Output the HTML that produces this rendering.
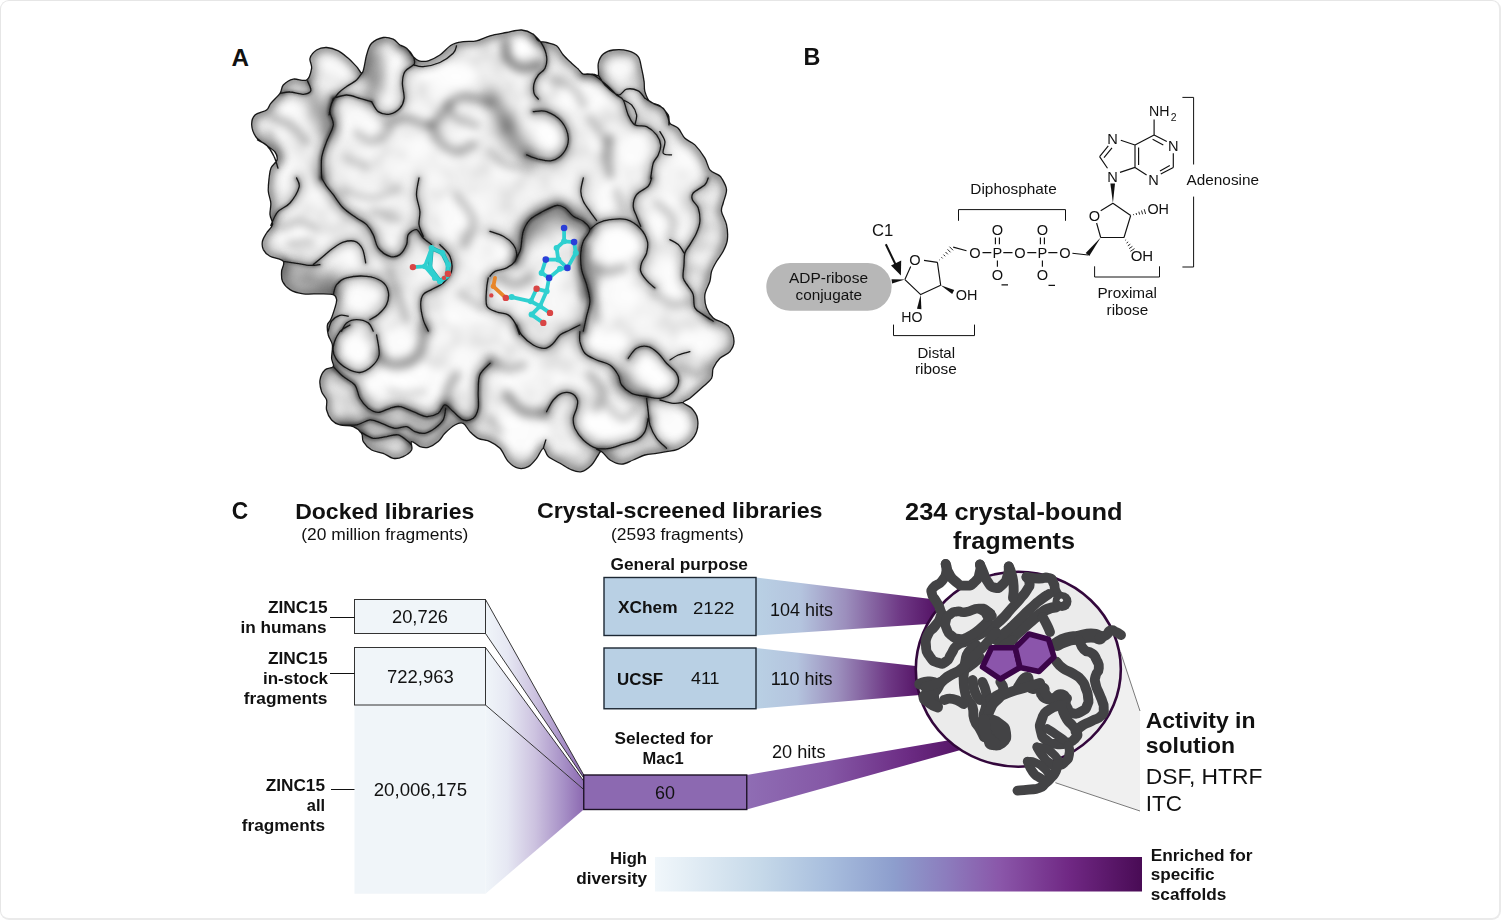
<!DOCTYPE html>
<html><head><meta charset="utf-8"><title>Figure</title>
<style>
html,body{margin:0;padding:0;background:#fff;}
body{width:1501px;height:920px;overflow:hidden;font-family:"Liberation Sans",sans-serif;}
svg{display:block;position:absolute;left:0;top:0;}
svg text{font-family:"Liberation Sans",sans-serif;}
#frame{position:absolute;left:0;top:0;width:1498px;height:917px;border-style:solid;border-color:#e6e6e6 #eaeaea #eaeaea #e6e6e6;border-width:1px 2px 2px 1px;border-radius:9px;box-sizing:content-box;}
</style></head><body>
<div id="frame"></div>
<svg width="1501" height="920" viewBox="0 0 1501 920">
<defs>
<clipPath id="protClip"><path d="M262.5,241.0C263.1,238.2 264.9,235.7 266.6,233.0C268.3,230.3 271.9,227.7 272.5,224.6C273.1,221.5 270.3,218.2 270.0,214.6C269.7,211.0 271.1,206.9 270.8,203.0C270.5,199.1 268.6,195.5 268.3,191.3C268.0,187.1 268.7,181.9 269.1,178.0C269.6,174.1 269.7,171.0 271.0,168.0C272.3,165.0 276.3,162.7 277.0,160.0C277.7,157.3 276.8,154.5 275.0,152.0C273.2,149.5 269.2,147.5 266.0,145.0C262.8,142.5 258.4,140.3 256.0,137.0C253.6,133.7 251.9,128.7 251.7,125.0C251.5,121.3 252.5,117.5 255.0,115.0C257.5,112.5 264.0,112.0 266.6,110.0C269.2,108.0 268.6,106.1 270.8,103.3C273.0,100.5 277.9,96.3 280.0,93.3C282.1,90.2 281.1,87.4 283.3,85.0C285.5,82.6 289.4,79.9 293.3,79.1C297.2,78.3 303.6,81.8 306.6,80.0C309.7,78.2 311.0,71.9 311.6,68.3C312.2,64.7 309.2,61.3 310.0,58.3C310.8,55.2 313.8,51.8 316.6,50.0C319.4,48.2 323.0,47.4 326.6,47.5C330.2,47.6 334.7,49.0 338.3,50.8C341.9,52.6 345.2,55.7 348.3,58.3C351.4,60.9 354.2,64.2 356.6,66.6C359.0,69.0 360.7,74.4 362.4,72.5C364.1,70.6 365.1,59.9 366.6,55.0C368.1,50.1 368.8,46.2 371.6,43.3C374.4,40.4 379.6,38.2 383.2,37.5C386.8,36.8 390.4,38.0 393.2,39.2C396.0,40.5 397.8,43.5 400.0,45.0C402.2,46.5 404.4,46.4 406.6,48.3C408.8,50.2 411.1,54.5 413.2,56.6C415.3,58.7 416.5,60.1 419.0,60.8C421.5,61.5 424.7,61.8 428.2,60.8C431.7,59.8 436.0,57.6 439.9,55.0C443.8,52.4 447.6,47.2 451.5,45.0C455.4,42.8 459.0,42.4 463.2,41.7C467.4,41.0 472.0,41.8 476.5,40.8C481.0,39.8 485.0,37.2 490.0,35.8C495.0,34.4 501.4,33.5 506.7,32.5C512.0,31.5 517.2,29.7 521.6,30.0C526.0,30.3 530.5,32.4 533.3,34.2C536.1,36.0 536.1,39.4 538.3,40.8C540.5,42.2 543.5,41.7 546.6,42.5C549.7,43.3 553.8,43.7 556.6,45.8C559.4,47.9 560.8,52.1 563.3,55.0C565.8,57.9 569.1,60.9 571.6,63.3C574.1,65.6 576.3,67.3 578.3,69.1C580.2,70.9 580.8,73.3 583.3,74.1C585.8,74.9 590.8,73.9 593.3,74.1C595.8,74.2 597.5,76.8 598.3,75.0C599.1,73.2 597.5,66.8 598.3,63.3C599.1,59.8 600.8,56.3 603.3,54.1C605.8,51.9 609.1,50.5 613.2,50.0C617.4,49.5 624.0,49.7 628.2,50.8C632.4,51.9 636.0,53.7 638.2,56.6C640.4,59.5 640.6,64.1 641.6,68.3C642.6,72.5 643.6,77.7 644.1,81.6C644.6,85.5 643.9,88.3 644.9,91.6C645.9,94.9 647.4,99.2 649.9,101.6C652.4,104.0 656.8,103.6 659.9,105.8C663.0,108.0 666.5,112.0 668.2,114.9C669.9,117.8 668.2,121.1 669.9,123.3C671.6,125.5 675.7,125.8 678.2,128.3C680.7,130.8 682.1,135.5 684.9,138.3C687.7,141.1 691.6,141.6 694.9,144.9C698.2,148.2 702.4,154.0 704.9,158.2C707.4,162.4 707.7,167.1 709.9,169.9C712.1,172.7 716.3,173.6 718.2,174.9C720.1,176.2 720.1,175.6 721.5,178.0C722.9,180.4 726.2,185.4 726.5,189.6C726.8,193.8 724.0,199.4 723.2,203.0C722.4,206.6 721.0,207.7 721.5,211.3C722.0,214.9 725.5,219.9 726.5,224.6C727.5,229.3 727.9,235.1 727.4,239.6C726.9,244.1 725.0,247.7 723.2,251.3C721.4,254.9 718.5,258.0 716.6,261.3C714.7,264.6 712.7,268.0 711.6,271.3C710.5,274.6 711.0,277.4 709.9,281.3C708.8,285.2 705.4,290.2 704.9,294.6C704.4,299.1 705.2,304.1 706.6,308.0C708.0,311.9 710.4,315.4 713.2,317.9C716.0,320.4 720.4,321.3 723.2,323.0C726.0,324.7 728.1,324.9 729.9,328.0C731.7,331.1 734.0,337.7 734.0,341.6C734.0,345.5 732.2,348.8 729.9,351.6C727.5,354.4 722.7,355.5 719.9,358.3C717.1,361.1 714.6,365.0 713.2,368.3C711.8,371.6 713.3,375.2 711.6,378.3C709.9,381.4 706.8,383.3 703.2,386.6C699.6,389.9 693.2,395.7 689.9,398.3C686.6,400.9 682.9,400.8 683.2,402.5C683.5,404.2 689.2,405.7 691.6,408.3C694.0,410.9 696.6,414.4 697.4,418.3C698.2,422.2 697.9,427.7 696.6,431.6C695.4,435.5 693.0,438.7 689.9,441.6C686.8,444.5 682.1,447.4 678.2,449.1C674.3,450.8 670.2,450.9 666.6,451.6C663.0,452.3 660.2,452.7 656.6,453.3C653.0,453.9 648.8,453.9 644.9,455.0C641.0,456.1 637.1,458.5 633.2,460.0C629.3,461.5 625.5,464.1 621.6,464.1C617.7,464.1 613.3,462.1 610.0,460.0C606.7,457.9 603.6,452.4 601.6,451.6C599.6,450.8 600.0,452.8 598.3,455.0C596.6,457.2 594.4,462.2 591.6,465.0C588.8,467.8 584.9,470.8 581.6,471.6C578.3,472.4 575.2,471.3 571.6,469.9C568.0,468.5 563.9,465.5 560.0,463.3C556.1,461.1 551.1,459.1 548.3,456.6C545.5,454.1 545.2,448.0 543.3,448.3C541.3,448.6 539.1,455.2 536.6,458.3C534.1,461.4 531.3,465.0 528.3,466.6C525.2,468.2 521.6,469.0 518.3,468.2C515.0,467.4 511.4,464.9 508.3,461.6C505.2,458.3 503.1,451.6 500.0,448.3C496.9,445.0 493.6,443.3 490.0,441.6C486.4,439.9 481.6,440.0 478.2,438.3C474.8,436.6 472.4,434.1 469.9,431.6C467.4,429.1 465.7,424.4 463.2,423.3C460.7,422.2 457.9,423.3 454.9,425.0C451.8,426.7 447.7,430.5 444.9,433.3C442.1,436.1 441.0,439.2 438.2,441.6C435.4,444.0 431.2,446.6 428.2,447.4C425.2,448.2 422.8,447.6 420.0,446.6C417.2,445.6 413.0,441.0 411.6,441.6C410.2,442.2 413.0,447.5 411.6,450.0C410.2,452.5 406.3,455.2 403.2,456.6C400.1,458.0 396.5,458.9 393.2,458.3C389.9,457.8 386.8,454.7 383.2,453.3C379.6,451.9 374.9,451.9 371.6,450.0C368.3,448.1 365.0,444.4 363.3,441.6C361.6,438.8 363.3,435.8 361.6,433.3C359.9,430.8 356.9,428.0 353.3,426.6C349.7,425.2 343.6,426.1 340.0,425.0C336.4,423.9 333.8,422.5 331.6,420.0C329.4,417.5 327.4,413.3 326.6,410.0C325.8,406.7 327.4,403.1 326.6,400.0C325.8,396.9 322.7,394.9 321.6,391.6C320.5,388.3 319.4,383.6 320.0,380.0C320.6,376.4 322.7,372.2 324.9,370.0C327.1,367.8 332.2,368.6 333.3,366.6C334.4,364.7 331.8,361.9 331.6,358.3C331.5,354.7 332.9,348.9 332.4,345.0C331.8,341.1 329.1,338.3 328.3,335.0C327.5,331.7 327.0,327.6 327.4,325.0C327.8,322.4 329.6,322.5 330.8,319.6C332.1,316.8 333.9,311.2 334.9,307.9C335.9,304.6 336.9,301.8 336.6,299.6C336.3,297.4 336.1,295.6 333.3,294.6C330.5,293.6 325.0,293.9 320.0,293.8C315.0,293.7 308.3,294.5 303.3,293.8C298.3,293.1 293.5,291.7 290.0,289.6C286.5,287.5 283.9,284.4 282.5,281.3C281.1,278.2 281.5,274.6 281.6,271.3C281.7,268.0 285.2,263.8 283.3,261.3C281.4,258.8 273.3,258.2 270.0,256.3C266.7,254.4 264.6,252.2 263.3,249.6C262.1,247.0 261.9,243.8 262.5,241.0Z"/></clipPath>
<filter id="b3" filterUnits="userSpaceOnUse" x="220" y="10" width="540" height="480"><feGaussianBlur stdDeviation="3"/></filter>
<filter id="b4" filterUnits="userSpaceOnUse" x="220" y="10" width="540" height="480"><feGaussianBlur stdDeviation="4.5"/></filter>
<filter id="b6" filterUnits="userSpaceOnUse" x="220" y="10" width="540" height="480"><feGaussianBlur stdDeviation="7"/></filter>
<filter id="b2" filterUnits="userSpaceOnUse" x="220" y="10" width="540" height="480"><feGaussianBlur stdDeviation="1.8"/></filter>
<filter id="b1" filterUnits="userSpaceOnUse" x="220" y="10" width="540" height="480"><feGaussianBlur stdDeviation="0.5"/></filter>

<linearGradient id="gFun" gradientUnits="userSpaceOnUse" x1="485.5" y1="0" x2="583.75" y2="0">
  <stop offset="0" stop-color="#f0f5f9"/><stop offset="0.22" stop-color="#e6e8f3"/><stop offset="0.5" stop-color="#cdc3e0"/><stop offset="0.8" stop-color="#a68fc6"/><stop offset="1" stop-color="#8c69b1"/>
</linearGradient>
<linearGradient id="gT1" gradientUnits="userSpaceOnUse" x1="756" y1="0" x2="935" y2="0">
  <stop offset="0" stop-color="#b9d0e4"/><stop offset="0.25" stop-color="#b4c4de"/><stop offset="0.5" stop-color="#9c8fbd"/><stop offset="0.8" stop-color="#6f3a86"/><stop offset="1" stop-color="#551466"/>
</linearGradient>
<linearGradient id="gT2" gradientUnits="userSpaceOnUse" x1="756" y1="0" x2="920" y2="0">
  <stop offset="0" stop-color="#b9d0e4"/><stop offset="0.25" stop-color="#b4c4de"/><stop offset="0.5" stop-color="#9c8fbd"/><stop offset="0.8" stop-color="#6f3a86"/><stop offset="1" stop-color="#551466"/>
</linearGradient>
<linearGradient id="gT3" gradientUnits="userSpaceOnUse" x1="747" y1="0" x2="975" y2="0">
  <stop offset="0" stop-color="#8f6db4"/><stop offset="0.35" stop-color="#8558a6"/><stop offset="0.7" stop-color="#6c2c84"/><stop offset="1" stop-color="#4f0f5e"/>
</linearGradient>
<linearGradient id="gBar" gradientUnits="userSpaceOnUse" x1="655" y1="0" x2="1142" y2="0">
  <stop offset="0" stop-color="#f1f7fb"/><stop offset="0.215" stop-color="#c6d9e9"/><stop offset="0.35" stop-color="#a9bfde"/><stop offset="0.49" stop-color="#8d9ecd"/><stop offset="0.6" stop-color="#8c7cbd"/><stop offset="0.71" stop-color="#8a56a9"/><stop offset="0.85" stop-color="#702884"/><stop offset="1" stop-color="#490b55"/>
</linearGradient>
<clipPath id="circClip"><ellipse cx="1018.3" cy="668.8" rx="102" ry="96.5"/></clipPath>

</defs>
<g id="panelA">
<text x="231.5" y="65.6" font-size="24" font-weight="bold" textLength="17.5" lengthAdjust="spacingAndGlyphs" fill="#111">A</text>
<path d="M262.5,241.0C263.1,238.2 264.9,235.7 266.6,233.0C268.3,230.3 271.9,227.7 272.5,224.6C273.1,221.5 270.3,218.2 270.0,214.6C269.7,211.0 271.1,206.9 270.8,203.0C270.5,199.1 268.6,195.5 268.3,191.3C268.0,187.1 268.7,181.9 269.1,178.0C269.6,174.1 269.7,171.0 271.0,168.0C272.3,165.0 276.3,162.7 277.0,160.0C277.7,157.3 276.8,154.5 275.0,152.0C273.2,149.5 269.2,147.5 266.0,145.0C262.8,142.5 258.4,140.3 256.0,137.0C253.6,133.7 251.9,128.7 251.7,125.0C251.5,121.3 252.5,117.5 255.0,115.0C257.5,112.5 264.0,112.0 266.6,110.0C269.2,108.0 268.6,106.1 270.8,103.3C273.0,100.5 277.9,96.3 280.0,93.3C282.1,90.2 281.1,87.4 283.3,85.0C285.5,82.6 289.4,79.9 293.3,79.1C297.2,78.3 303.6,81.8 306.6,80.0C309.7,78.2 311.0,71.9 311.6,68.3C312.2,64.7 309.2,61.3 310.0,58.3C310.8,55.2 313.8,51.8 316.6,50.0C319.4,48.2 323.0,47.4 326.6,47.5C330.2,47.6 334.7,49.0 338.3,50.8C341.9,52.6 345.2,55.7 348.3,58.3C351.4,60.9 354.2,64.2 356.6,66.6C359.0,69.0 360.7,74.4 362.4,72.5C364.1,70.6 365.1,59.9 366.6,55.0C368.1,50.1 368.8,46.2 371.6,43.3C374.4,40.4 379.6,38.2 383.2,37.5C386.8,36.8 390.4,38.0 393.2,39.2C396.0,40.5 397.8,43.5 400.0,45.0C402.2,46.5 404.4,46.4 406.6,48.3C408.8,50.2 411.1,54.5 413.2,56.6C415.3,58.7 416.5,60.1 419.0,60.8C421.5,61.5 424.7,61.8 428.2,60.8C431.7,59.8 436.0,57.6 439.9,55.0C443.8,52.4 447.6,47.2 451.5,45.0C455.4,42.8 459.0,42.4 463.2,41.7C467.4,41.0 472.0,41.8 476.5,40.8C481.0,39.8 485.0,37.2 490.0,35.8C495.0,34.4 501.4,33.5 506.7,32.5C512.0,31.5 517.2,29.7 521.6,30.0C526.0,30.3 530.5,32.4 533.3,34.2C536.1,36.0 536.1,39.4 538.3,40.8C540.5,42.2 543.5,41.7 546.6,42.5C549.7,43.3 553.8,43.7 556.6,45.8C559.4,47.9 560.8,52.1 563.3,55.0C565.8,57.9 569.1,60.9 571.6,63.3C574.1,65.6 576.3,67.3 578.3,69.1C580.2,70.9 580.8,73.3 583.3,74.1C585.8,74.9 590.8,73.9 593.3,74.1C595.8,74.2 597.5,76.8 598.3,75.0C599.1,73.2 597.5,66.8 598.3,63.3C599.1,59.8 600.8,56.3 603.3,54.1C605.8,51.9 609.1,50.5 613.2,50.0C617.4,49.5 624.0,49.7 628.2,50.8C632.4,51.9 636.0,53.7 638.2,56.6C640.4,59.5 640.6,64.1 641.6,68.3C642.6,72.5 643.6,77.7 644.1,81.6C644.6,85.5 643.9,88.3 644.9,91.6C645.9,94.9 647.4,99.2 649.9,101.6C652.4,104.0 656.8,103.6 659.9,105.8C663.0,108.0 666.5,112.0 668.2,114.9C669.9,117.8 668.2,121.1 669.9,123.3C671.6,125.5 675.7,125.8 678.2,128.3C680.7,130.8 682.1,135.5 684.9,138.3C687.7,141.1 691.6,141.6 694.9,144.9C698.2,148.2 702.4,154.0 704.9,158.2C707.4,162.4 707.7,167.1 709.9,169.9C712.1,172.7 716.3,173.6 718.2,174.9C720.1,176.2 720.1,175.6 721.5,178.0C722.9,180.4 726.2,185.4 726.5,189.6C726.8,193.8 724.0,199.4 723.2,203.0C722.4,206.6 721.0,207.7 721.5,211.3C722.0,214.9 725.5,219.9 726.5,224.6C727.5,229.3 727.9,235.1 727.4,239.6C726.9,244.1 725.0,247.7 723.2,251.3C721.4,254.9 718.5,258.0 716.6,261.3C714.7,264.6 712.7,268.0 711.6,271.3C710.5,274.6 711.0,277.4 709.9,281.3C708.8,285.2 705.4,290.2 704.9,294.6C704.4,299.1 705.2,304.1 706.6,308.0C708.0,311.9 710.4,315.4 713.2,317.9C716.0,320.4 720.4,321.3 723.2,323.0C726.0,324.7 728.1,324.9 729.9,328.0C731.7,331.1 734.0,337.7 734.0,341.6C734.0,345.5 732.2,348.8 729.9,351.6C727.5,354.4 722.7,355.5 719.9,358.3C717.1,361.1 714.6,365.0 713.2,368.3C711.8,371.6 713.3,375.2 711.6,378.3C709.9,381.4 706.8,383.3 703.2,386.6C699.6,389.9 693.2,395.7 689.9,398.3C686.6,400.9 682.9,400.8 683.2,402.5C683.5,404.2 689.2,405.7 691.6,408.3C694.0,410.9 696.6,414.4 697.4,418.3C698.2,422.2 697.9,427.7 696.6,431.6C695.4,435.5 693.0,438.7 689.9,441.6C686.8,444.5 682.1,447.4 678.2,449.1C674.3,450.8 670.2,450.9 666.6,451.6C663.0,452.3 660.2,452.7 656.6,453.3C653.0,453.9 648.8,453.9 644.9,455.0C641.0,456.1 637.1,458.5 633.2,460.0C629.3,461.5 625.5,464.1 621.6,464.1C617.7,464.1 613.3,462.1 610.0,460.0C606.7,457.9 603.6,452.4 601.6,451.6C599.6,450.8 600.0,452.8 598.3,455.0C596.6,457.2 594.4,462.2 591.6,465.0C588.8,467.8 584.9,470.8 581.6,471.6C578.3,472.4 575.2,471.3 571.6,469.9C568.0,468.5 563.9,465.5 560.0,463.3C556.1,461.1 551.1,459.1 548.3,456.6C545.5,454.1 545.2,448.0 543.3,448.3C541.3,448.6 539.1,455.2 536.6,458.3C534.1,461.4 531.3,465.0 528.3,466.6C525.2,468.2 521.6,469.0 518.3,468.2C515.0,467.4 511.4,464.9 508.3,461.6C505.2,458.3 503.1,451.6 500.0,448.3C496.9,445.0 493.6,443.3 490.0,441.6C486.4,439.9 481.6,440.0 478.2,438.3C474.8,436.6 472.4,434.1 469.9,431.6C467.4,429.1 465.7,424.4 463.2,423.3C460.7,422.2 457.9,423.3 454.9,425.0C451.8,426.7 447.7,430.5 444.9,433.3C442.1,436.1 441.0,439.2 438.2,441.6C435.4,444.0 431.2,446.6 428.2,447.4C425.2,448.2 422.8,447.6 420.0,446.6C417.2,445.6 413.0,441.0 411.6,441.6C410.2,442.2 413.0,447.5 411.6,450.0C410.2,452.5 406.3,455.2 403.2,456.6C400.1,458.0 396.5,458.9 393.2,458.3C389.9,457.8 386.8,454.7 383.2,453.3C379.6,451.9 374.9,451.9 371.6,450.0C368.3,448.1 365.0,444.4 363.3,441.6C361.6,438.8 363.3,435.8 361.6,433.3C359.9,430.8 356.9,428.0 353.3,426.6C349.7,425.2 343.6,426.1 340.0,425.0C336.4,423.9 333.8,422.5 331.6,420.0C329.4,417.5 327.4,413.3 326.6,410.0C325.8,406.7 327.4,403.1 326.6,400.0C325.8,396.9 322.7,394.9 321.6,391.6C320.5,388.3 319.4,383.6 320.0,380.0C320.6,376.4 322.7,372.2 324.9,370.0C327.1,367.8 332.2,368.6 333.3,366.6C334.4,364.7 331.8,361.9 331.6,358.3C331.5,354.7 332.9,348.9 332.4,345.0C331.8,341.1 329.1,338.3 328.3,335.0C327.5,331.7 327.0,327.6 327.4,325.0C327.8,322.4 329.6,322.5 330.8,319.6C332.1,316.8 333.9,311.2 334.9,307.9C335.9,304.6 336.9,301.8 336.6,299.6C336.3,297.4 336.1,295.6 333.3,294.6C330.5,293.6 325.0,293.9 320.0,293.8C315.0,293.7 308.3,294.5 303.3,293.8C298.3,293.1 293.5,291.7 290.0,289.6C286.5,287.5 283.9,284.4 282.5,281.3C281.1,278.2 281.5,274.6 281.6,271.3C281.7,268.0 285.2,263.8 283.3,261.3C281.4,258.8 273.3,258.2 270.0,256.3C266.7,254.4 264.6,252.2 263.3,249.6C262.1,247.0 261.9,243.8 262.5,241.0Z" fill="#e1e1e1"/>
<g clip-path="url(#protClip)">
<g filter="url(#b6)" fill="#000">
<path d="M701.5,178.0C706.2,174.7 718.7,171.1 723.2,178.0C727.6,184.9 728.2,207.1 728.2,219.6C728.2,232.1 726.0,243.2 723.2,253.0C720.4,262.7 717.6,273.2 711.5,277.9C705.4,282.7 690.7,285.4 686.5,281.3C682.4,277.1 684.3,261.8 686.5,253.0C688.8,244.1 698.5,237.1 699.9,228.0C701.2,218.8 694.6,206.3 694.9,198.0C695.1,189.7 696.8,181.3 701.5,178.0Z" opacity="0.08"/>
<path d="M319.9,380.0C322.7,375.2 337.2,378.0 343.3,380.0C349.4,381.9 352.7,386.3 356.6,391.6C360.5,396.9 361.0,408.3 366.6,411.6C372.1,414.9 382.1,411.1 389.9,411.6C397.7,412.2 404.1,414.9 413.2,414.9C422.4,414.9 439.6,408.6 444.9,411.6C450.1,414.7 450.4,426.6 444.9,433.3C439.3,439.9 420.7,447.4 411.6,451.6C402.4,455.7 398.0,459.9 389.9,458.2C381.8,456.6 371.6,447.1 363.3,441.6C354.9,436.0 346.0,430.5 339.9,424.9C333.8,419.4 329.9,415.8 326.6,408.3C323.3,400.8 317.2,384.7 319.9,380.0Z" opacity="0.13"/>
<path d="M281.6,264.6C285.8,261.6 301.3,266.8 310.0,267.9C318.6,269.1 329.1,266.8 333.3,271.3C337.4,275.7 339.4,290.7 334.9,294.6C330.5,298.5 315.0,296.0 306.6,294.6C298.3,293.2 289.1,291.3 285.0,286.3C280.8,281.3 277.5,267.7 281.6,264.6Z" opacity="0.12"/>
<path d="M546.6,451.6C549.4,450.5 564.7,457.7 573.3,458.2C581.9,458.8 589.9,456.6 598.3,454.9C606.6,453.2 613.5,450.5 623.2,448.3C633.0,446.0 649.3,441.0 656.6,441.6C663.8,442.1 672.1,447.7 666.5,451.6C661.0,455.5 637.1,461.6 623.2,464.9C609.4,468.2 594.4,471.6 583.3,471.6C572.2,471.6 562.7,468.2 556.6,464.9C550.5,461.6 543.9,452.7 546.6,451.6Z" opacity="0.15"/>
<path d="M366.6,53.3C369.9,47.2 378.0,40.3 383.2,38.3C388.5,36.4 398.0,39.4 398.2,41.7C398.5,43.9 387.7,46.1 384.9,51.6C382.1,57.2 383.5,67.2 381.6,75.0C379.6,82.7 376.3,98.3 373.2,98.3C370.2,98.3 364.4,82.5 363.3,75.0C362.1,67.5 363.3,59.4 366.6,53.3Z" opacity="0.15"/>
<path d="M599.9,53.3C603.0,49.2 610.5,49.7 616.6,50.0C622.7,50.3 632.1,50.0 636.6,55.0C641.0,60.0 642.7,73.9 643.2,80.0C643.8,86.1 643.2,90.2 639.9,91.6C636.6,93.0 627.1,87.7 623.2,88.3C619.4,88.8 620.7,97.2 616.6,95.0C612.4,92.7 601.0,81.9 598.3,75.0C595.5,68.0 596.9,57.5 599.9,53.3Z" opacity="0.08"/>
</g>
<g filter="url(#b4)" fill="#fff">
<circle cx="243.2" cy="26.5" r="11.4" opacity="0.47"/>
<circle cx="267.4" cy="28.7" r="8.8" opacity="0.58"/>
<circle cx="284.4" cy="29.3" r="8.8" opacity="0.47"/>
<circle cx="310.2" cy="33.3" r="9.1" opacity="0.51"/>
<circle cx="334.3" cy="34.5" r="11.1" opacity="0.55"/>
<circle cx="359.8" cy="25.5" r="12.4" opacity="0.52"/>
<circle cx="373.4" cy="26.2" r="9.9" opacity="0.65"/>
<circle cx="395.8" cy="30.8" r="11.4" opacity="0.54"/>
<circle cx="421.5" cy="25.6" r="8.8" opacity="0.50"/>
<circle cx="444.8" cy="29.3" r="9.9" opacity="0.60"/>
<circle cx="464.5" cy="28.0" r="12.1" opacity="0.62"/>
<circle cx="484.4" cy="30.7" r="10.9" opacity="0.67"/>
<circle cx="511.3" cy="27.9" r="12.9" opacity="0.48"/>
<circle cx="530.2" cy="32.6" r="9.2" opacity="0.57"/>
<circle cx="548.4" cy="31.7" r="11.9" opacity="0.59"/>
<circle cx="578.8" cy="28.1" r="11.6" opacity="0.60"/>
<circle cx="597.8" cy="29.6" r="12.3" opacity="0.69"/>
<circle cx="618.7" cy="31.6" r="8.8" opacity="0.63"/>
<circle cx="642.5" cy="34.9" r="12.2" opacity="0.52"/>
<circle cx="661.9" cy="31.7" r="8.6" opacity="0.57"/>
<circle cx="681.7" cy="26.2" r="8.8" opacity="0.64"/>
<circle cx="703.3" cy="27.5" r="10.3" opacity="0.67"/>
<circle cx="724.8" cy="29.5" r="11.0" opacity="0.67"/>
<circle cx="259.2" cy="52.6" r="9.8" opacity="0.55"/>
<circle cx="276.6" cy="52.8" r="12.8" opacity="0.49"/>
<circle cx="296.8" cy="46.3" r="9.6" opacity="0.57"/>
<circle cx="322.9" cy="46.6" r="8.5" opacity="0.55"/>
<circle cx="342.7" cy="49.7" r="12.8" opacity="0.62"/>
<circle cx="366.2" cy="50.2" r="11.5" opacity="0.46"/>
<circle cx="392.0" cy="51.8" r="12.4" opacity="0.65"/>
<circle cx="408.9" cy="48.0" r="9.0" opacity="0.61"/>
<circle cx="427.6" cy="44.7" r="9.4" opacity="0.49"/>
<circle cx="452.4" cy="44.5" r="8.5" opacity="0.49"/>
<circle cx="472.0" cy="47.6" r="8.6" opacity="0.67"/>
<circle cx="499.1" cy="45.5" r="9.6" opacity="0.54"/>
<circle cx="518.6" cy="45.2" r="12.3" opacity="0.70"/>
<circle cx="541.7" cy="48.8" r="8.9" opacity="0.48"/>
<circle cx="562.4" cy="46.6" r="12.2" opacity="0.49"/>
<circle cx="581.2" cy="53.5" r="10.9" opacity="0.49"/>
<circle cx="608.4" cy="44.3" r="10.9" opacity="0.69"/>
<circle cx="633.6" cy="51.0" r="9.7" opacity="0.54"/>
<circle cx="648.7" cy="51.7" r="10.9" opacity="0.64"/>
<circle cx="672.3" cy="46.2" r="12.2" opacity="0.70"/>
<circle cx="699.5" cy="52.1" r="12.2" opacity="0.63"/>
<circle cx="715.3" cy="49.2" r="10.1" opacity="0.46"/>
<circle cx="240.3" cy="65.8" r="9.7" opacity="0.62"/>
<circle cx="271.6" cy="67.5" r="12.7" opacity="0.70"/>
<circle cx="293.6" cy="66.6" r="9.5" opacity="0.51"/>
<circle cx="308.0" cy="65.0" r="11.3" opacity="0.68"/>
<circle cx="336.4" cy="67.8" r="11.4" opacity="0.65"/>
<circle cx="350.8" cy="69.6" r="12.6" opacity="0.65"/>
<circle cx="379.5" cy="67.8" r="9.3" opacity="0.65"/>
<circle cx="397.3" cy="71.0" r="12.9" opacity="0.55"/>
<circle cx="420.0" cy="72.5" r="11.8" opacity="0.49"/>
<circle cx="439.3" cy="64.5" r="12.6" opacity="0.65"/>
<circle cx="461.5" cy="71.3" r="12.9" opacity="0.61"/>
<circle cx="485.5" cy="68.5" r="9.1" opacity="0.45"/>
<circle cx="513.7" cy="69.5" r="10.9" opacity="0.68"/>
<circle cx="530.3" cy="71.7" r="12.2" opacity="0.50"/>
<circle cx="550.5" cy="65.9" r="9.6" opacity="0.60"/>
<circle cx="572.6" cy="67.2" r="9.1" opacity="0.68"/>
<circle cx="595.5" cy="67.6" r="11.1" opacity="0.68"/>
<circle cx="618.2" cy="72.2" r="10.8" opacity="0.58"/>
<circle cx="641.2" cy="63.2" r="10.5" opacity="0.50"/>
<circle cx="658.0" cy="71.0" r="9.3" opacity="0.57"/>
<circle cx="687.3" cy="68.6" r="10.0" opacity="0.58"/>
<circle cx="707.6" cy="70.8" r="9.0" opacity="0.59"/>
<circle cx="726.5" cy="65.8" r="12.0" opacity="0.58"/>
<circle cx="256.6" cy="89.6" r="12.6" opacity="0.56"/>
<circle cx="279.1" cy="87.1" r="10.8" opacity="0.62"/>
<circle cx="299.5" cy="87.3" r="10.7" opacity="0.69"/>
<circle cx="324.0" cy="90.8" r="12.7" opacity="0.51"/>
<circle cx="344.6" cy="91.4" r="12.3" opacity="0.48"/>
<circle cx="362.2" cy="86.4" r="8.8" opacity="0.51"/>
<circle cx="383.7" cy="88.7" r="12.0" opacity="0.67"/>
<circle cx="406.5" cy="89.2" r="11.5" opacity="0.49"/>
<circle cx="435.8" cy="91.7" r="9.5" opacity="0.69"/>
<circle cx="453.0" cy="86.9" r="13.0" opacity="0.66"/>
<circle cx="472.6" cy="86.3" r="10.8" opacity="0.53"/>
<circle cx="495.0" cy="85.2" r="11.7" opacity="0.45"/>
<circle cx="520.5" cy="86.4" r="8.6" opacity="0.53"/>
<circle cx="543.2" cy="87.1" r="8.8" opacity="0.70"/>
<circle cx="566.9" cy="91.7" r="9.0" opacity="0.52"/>
<circle cx="581.4" cy="89.8" r="9.7" opacity="0.48"/>
<circle cx="607.2" cy="91.1" r="12.2" opacity="0.51"/>
<circle cx="626.5" cy="91.2" r="11.1" opacity="0.63"/>
<circle cx="647.9" cy="82.6" r="11.6" opacity="0.56"/>
<circle cx="669.7" cy="91.4" r="11.4" opacity="0.65"/>
<circle cx="691.8" cy="90.6" r="8.8" opacity="0.67"/>
<circle cx="717.5" cy="85.4" r="11.0" opacity="0.68"/>
<circle cx="242.7" cy="102.3" r="10.9" opacity="0.51"/>
<circle cx="263.1" cy="102.6" r="8.7" opacity="0.50"/>
<circle cx="287.1" cy="104.1" r="11.9" opacity="0.52"/>
<circle cx="311.0" cy="102.8" r="10.1" opacity="0.45"/>
<circle cx="330.5" cy="101.2" r="11.8" opacity="0.59"/>
<circle cx="351.9" cy="105.7" r="12.7" opacity="0.48"/>
<circle cx="380.2" cy="105.3" r="10.7" opacity="0.66"/>
<circle cx="397.9" cy="106.1" r="11.6" opacity="0.70"/>
<circle cx="419.4" cy="109.3" r="11.7" opacity="0.61"/>
<circle cx="442.0" cy="104.5" r="8.7" opacity="0.48"/>
<circle cx="460.7" cy="108.4" r="9.7" opacity="0.49"/>
<circle cx="482.8" cy="109.4" r="12.4" opacity="0.62"/>
<circle cx="506.8" cy="103.4" r="9.8" opacity="0.56"/>
<circle cx="527.6" cy="105.5" r="9.7" opacity="0.69"/>
<circle cx="557.7" cy="106.5" r="9.6" opacity="0.69"/>
<circle cx="573.1" cy="104.6" r="8.5" opacity="0.55"/>
<circle cx="596.7" cy="106.0" r="9.4" opacity="0.58"/>
<circle cx="614.0" cy="103.6" r="8.9" opacity="0.55"/>
<circle cx="636.4" cy="101.2" r="9.9" opacity="0.51"/>
<circle cx="663.9" cy="106.3" r="11.9" opacity="0.61"/>
<circle cx="687.2" cy="109.8" r="10.3" opacity="0.53"/>
<circle cx="711.8" cy="102.5" r="11.8" opacity="0.61"/>
<circle cx="724.4" cy="109.4" r="12.5" opacity="0.61"/>
<circle cx="258.3" cy="128.1" r="9.1" opacity="0.58"/>
<circle cx="278.0" cy="128.3" r="12.1" opacity="0.66"/>
<circle cx="300.8" cy="128.9" r="11.6" opacity="0.62"/>
<circle cx="319.3" cy="120.3" r="9.1" opacity="0.54"/>
<circle cx="340.0" cy="128.4" r="11.0" opacity="0.61"/>
<circle cx="367.3" cy="126.8" r="10.7" opacity="0.45"/>
<circle cx="391.0" cy="127.5" r="10.8" opacity="0.58"/>
<circle cx="411.6" cy="120.7" r="11.8" opacity="0.51"/>
<circle cx="427.7" cy="122.7" r="11.8" opacity="0.50"/>
<circle cx="456.4" cy="129.8" r="10.7" opacity="0.55"/>
<circle cx="475.8" cy="126.8" r="12.0" opacity="0.60"/>
<circle cx="499.4" cy="120.8" r="9.2" opacity="0.51"/>
<circle cx="522.4" cy="123.0" r="11.1" opacity="0.45"/>
<circle cx="537.6" cy="122.7" r="11.5" opacity="0.62"/>
<circle cx="565.8" cy="122.9" r="10.8" opacity="0.57"/>
<circle cx="585.7" cy="121.2" r="12.5" opacity="0.50"/>
<circle cx="612.8" cy="129.4" r="8.6" opacity="0.56"/>
<circle cx="633.2" cy="129.7" r="10.5" opacity="0.52"/>
<circle cx="649.1" cy="129.5" r="9.4" opacity="0.60"/>
<circle cx="670.4" cy="125.2" r="12.8" opacity="0.48"/>
<circle cx="699.2" cy="125.1" r="12.5" opacity="0.63"/>
<circle cx="715.3" cy="129.0" r="10.7" opacity="0.46"/>
<circle cx="240.0" cy="143.9" r="10.5" opacity="0.53"/>
<circle cx="263.4" cy="142.4" r="9.9" opacity="0.66"/>
<circle cx="284.0" cy="146.5" r="12.3" opacity="0.48"/>
<circle cx="315.3" cy="146.1" r="12.6" opacity="0.52"/>
<circle cx="331.7" cy="142.9" r="13.0" opacity="0.60"/>
<circle cx="353.6" cy="143.3" r="9.7" opacity="0.46"/>
<circle cx="373.0" cy="147.3" r="9.8" opacity="0.68"/>
<circle cx="396.5" cy="141.7" r="10.8" opacity="0.50"/>
<circle cx="419.7" cy="148.6" r="12.5" opacity="0.65"/>
<circle cx="444.3" cy="148.1" r="12.7" opacity="0.59"/>
<circle cx="467.2" cy="139.5" r="11.8" opacity="0.56"/>
<circle cx="489.5" cy="145.4" r="9.8" opacity="0.46"/>
<circle cx="513.3" cy="140.3" r="10.6" opacity="0.54"/>
<circle cx="529.0" cy="146.4" r="12.9" opacity="0.52"/>
<circle cx="554.6" cy="142.0" r="11.0" opacity="0.55"/>
<circle cx="571.7" cy="140.6" r="9.4" opacity="0.68"/>
<circle cx="597.0" cy="141.2" r="12.6" opacity="0.70"/>
<circle cx="618.5" cy="140.4" r="9.4" opacity="0.47"/>
<circle cx="639.4" cy="139.9" r="9.6" opacity="0.51"/>
<circle cx="663.7" cy="147.9" r="11.9" opacity="0.55"/>
<circle cx="684.1" cy="144.2" r="10.2" opacity="0.53"/>
<circle cx="702.6" cy="141.8" r="12.9" opacity="0.48"/>
<circle cx="729.0" cy="145.3" r="12.4" opacity="0.50"/>
<circle cx="253.7" cy="160.5" r="10.3" opacity="0.56"/>
<circle cx="282.5" cy="166.5" r="12.4" opacity="0.46"/>
<circle cx="295.3" cy="165.1" r="12.5" opacity="0.57"/>
<circle cx="322.9" cy="158.0" r="10.3" opacity="0.68"/>
<circle cx="347.3" cy="166.6" r="12.9" opacity="0.51"/>
<circle cx="362.1" cy="159.5" r="10.9" opacity="0.62"/>
<circle cx="392.4" cy="165.2" r="11.4" opacity="0.64"/>
<circle cx="409.6" cy="163.5" r="8.7" opacity="0.65"/>
<circle cx="429.3" cy="167.2" r="11.4" opacity="0.53"/>
<circle cx="450.3" cy="160.5" r="11.4" opacity="0.62"/>
<circle cx="472.1" cy="158.7" r="10.9" opacity="0.60"/>
<circle cx="496.9" cy="160.2" r="11.2" opacity="0.45"/>
<circle cx="518.0" cy="162.6" r="12.8" opacity="0.61"/>
<circle cx="545.8" cy="162.8" r="9.6" opacity="0.51"/>
<circle cx="568.6" cy="165.0" r="9.9" opacity="0.46"/>
<circle cx="586.0" cy="164.7" r="10.4" opacity="0.51"/>
<circle cx="609.7" cy="167.3" r="9.5" opacity="0.46"/>
<circle cx="628.4" cy="162.2" r="11.6" opacity="0.50"/>
<circle cx="655.0" cy="165.4" r="10.8" opacity="0.50"/>
<circle cx="678.7" cy="161.1" r="12.2" opacity="0.51"/>
<circle cx="693.2" cy="165.6" r="9.8" opacity="0.69"/>
<circle cx="718.0" cy="159.9" r="9.5" opacity="0.55"/>
<circle cx="246.7" cy="186.5" r="9.2" opacity="0.55"/>
<circle cx="264.1" cy="186.7" r="9.1" opacity="0.46"/>
<circle cx="284.6" cy="180.9" r="12.5" opacity="0.67"/>
<circle cx="313.3" cy="187.0" r="12.7" opacity="0.53"/>
<circle cx="329.9" cy="186.4" r="11.9" opacity="0.46"/>
<circle cx="356.6" cy="180.8" r="10.2" opacity="0.53"/>
<circle cx="373.7" cy="177.0" r="9.8" opacity="0.54"/>
<circle cx="403.6" cy="178.2" r="12.8" opacity="0.50"/>
<circle cx="419.6" cy="185.2" r="12.2" opacity="0.56"/>
<circle cx="438.5" cy="181.7" r="10.2" opacity="0.68"/>
<circle cx="461.9" cy="180.6" r="12.5" opacity="0.46"/>
<circle cx="486.1" cy="185.1" r="12.0" opacity="0.46"/>
<circle cx="504.3" cy="177.6" r="12.6" opacity="0.51"/>
<circle cx="533.5" cy="186.0" r="10.0" opacity="0.52"/>
<circle cx="557.6" cy="183.2" r="9.7" opacity="0.63"/>
<circle cx="573.2" cy="179.8" r="8.5" opacity="0.64"/>
<circle cx="601.2" cy="183.3" r="12.7" opacity="0.46"/>
<circle cx="616.3" cy="181.8" r="12.8" opacity="0.69"/>
<circle cx="639.9" cy="179.5" r="10.4" opacity="0.57"/>
<circle cx="667.3" cy="178.8" r="12.1" opacity="0.63"/>
<circle cx="688.2" cy="184.7" r="11.2" opacity="0.53"/>
<circle cx="705.2" cy="180.6" r="12.0" opacity="0.47"/>
<circle cx="726.0" cy="184.5" r="9.6" opacity="0.47"/>
<circle cx="251.3" cy="201.5" r="10.0" opacity="0.70"/>
<circle cx="281.8" cy="205.9" r="9.7" opacity="0.47"/>
<circle cx="296.0" cy="201.0" r="11.7" opacity="0.56"/>
<circle cx="319.3" cy="200.2" r="11.3" opacity="0.62"/>
<circle cx="346.5" cy="204.5" r="11.5" opacity="0.48"/>
<circle cx="369.4" cy="198.9" r="11.1" opacity="0.54"/>
<circle cx="390.4" cy="198.0" r="9.6" opacity="0.51"/>
<circle cx="406.5" cy="204.8" r="11.1" opacity="0.53"/>
<circle cx="431.0" cy="205.9" r="10.8" opacity="0.51"/>
<circle cx="457.1" cy="202.5" r="13.0" opacity="0.48"/>
<circle cx="475.7" cy="204.2" r="12.3" opacity="0.68"/>
<circle cx="493.4" cy="198.9" r="9.0" opacity="0.50"/>
<circle cx="524.7" cy="201.8" r="12.7" opacity="0.54"/>
<circle cx="545.7" cy="200.5" r="9.7" opacity="0.64"/>
<circle cx="568.5" cy="197.1" r="11.2" opacity="0.60"/>
<circle cx="583.2" cy="199.7" r="9.1" opacity="0.50"/>
<circle cx="605.5" cy="202.0" r="11.4" opacity="0.50"/>
<circle cx="625.1" cy="199.3" r="11.6" opacity="0.50"/>
<circle cx="650.1" cy="198.0" r="12.1" opacity="0.59"/>
<circle cx="669.6" cy="197.0" r="10.3" opacity="0.59"/>
<circle cx="697.4" cy="196.9" r="9.2" opacity="0.62"/>
<circle cx="717.1" cy="198.8" r="9.9" opacity="0.69"/>
<circle cx="243.1" cy="220.7" r="10.1" opacity="0.55"/>
<circle cx="270.6" cy="225.0" r="10.1" opacity="0.50"/>
<circle cx="291.3" cy="217.0" r="8.5" opacity="0.68"/>
<circle cx="310.2" cy="223.2" r="10.3" opacity="0.67"/>
<circle cx="332.6" cy="216.6" r="8.6" opacity="0.59"/>
<circle cx="356.4" cy="224.1" r="8.9" opacity="0.61"/>
<circle cx="375.7" cy="220.0" r="9.2" opacity="0.52"/>
<circle cx="399.2" cy="224.3" r="9.0" opacity="0.57"/>
<circle cx="424.0" cy="224.7" r="9.4" opacity="0.48"/>
<circle cx="447.4" cy="224.8" r="10.7" opacity="0.46"/>
<circle cx="469.3" cy="218.9" r="12.6" opacity="0.61"/>
<circle cx="490.2" cy="216.6" r="12.0" opacity="0.51"/>
<circle cx="508.0" cy="223.5" r="12.2" opacity="0.50"/>
<circle cx="528.2" cy="219.0" r="10.8" opacity="0.55"/>
<circle cx="549.2" cy="217.5" r="11.8" opacity="0.67"/>
<circle cx="570.4" cy="220.6" r="11.9" opacity="0.46"/>
<circle cx="600.4" cy="216.2" r="11.2" opacity="0.59"/>
<circle cx="620.3" cy="218.1" r="10.4" opacity="0.60"/>
<circle cx="640.3" cy="221.6" r="10.5" opacity="0.56"/>
<circle cx="658.2" cy="221.2" r="10.7" opacity="0.51"/>
<circle cx="687.6" cy="222.8" r="10.6" opacity="0.49"/>
<circle cx="706.7" cy="216.1" r="9.1" opacity="0.56"/>
<circle cx="724.9" cy="219.4" r="10.8" opacity="0.46"/>
<circle cx="257.4" cy="234.8" r="11.8" opacity="0.64"/>
<circle cx="278.1" cy="234.5" r="10.8" opacity="0.54"/>
<circle cx="304.5" cy="235.4" r="12.4" opacity="0.70"/>
<circle cx="324.3" cy="242.1" r="9.4" opacity="0.70"/>
<circle cx="343.9" cy="243.6" r="12.6" opacity="0.49"/>
<circle cx="368.9" cy="243.3" r="8.8" opacity="0.54"/>
<circle cx="390.6" cy="235.6" r="12.5" opacity="0.52"/>
<circle cx="413.2" cy="235.4" r="10.8" opacity="0.68"/>
<circle cx="429.1" cy="236.6" r="10.8" opacity="0.53"/>
<circle cx="449.4" cy="235.8" r="9.2" opacity="0.68"/>
<circle cx="477.8" cy="243.0" r="9.3" opacity="0.65"/>
<circle cx="494.2" cy="239.3" r="11.4" opacity="0.54"/>
<circle cx="523.7" cy="239.6" r="11.1" opacity="0.67"/>
<circle cx="538.0" cy="243.9" r="11.3" opacity="0.55"/>
<circle cx="567.0" cy="236.6" r="13.0" opacity="0.59"/>
<circle cx="584.6" cy="241.6" r="10.5" opacity="0.49"/>
<circle cx="610.4" cy="234.5" r="12.2" opacity="0.51"/>
<circle cx="631.4" cy="243.8" r="11.1" opacity="0.62"/>
<circle cx="650.1" cy="234.0" r="8.7" opacity="0.49"/>
<circle cx="675.2" cy="238.3" r="10.8" opacity="0.67"/>
<circle cx="692.3" cy="236.3" r="11.4" opacity="0.46"/>
<circle cx="713.0" cy="237.5" r="9.0" opacity="0.54"/>
<circle cx="242.2" cy="258.8" r="11.2" opacity="0.50"/>
<circle cx="268.2" cy="257.7" r="9.1" opacity="0.68"/>
<circle cx="286.4" cy="254.5" r="8.9" opacity="0.61"/>
<circle cx="314.7" cy="260.8" r="10.3" opacity="0.52"/>
<circle cx="328.1" cy="259.4" r="11.0" opacity="0.54"/>
<circle cx="356.5" cy="257.4" r="12.7" opacity="0.63"/>
<circle cx="374.5" cy="262.0" r="8.7" opacity="0.58"/>
<circle cx="398.1" cy="255.4" r="8.8" opacity="0.64"/>
<circle cx="416.1" cy="258.5" r="12.7" opacity="0.49"/>
<circle cx="440.0" cy="259.1" r="10.8" opacity="0.61"/>
<circle cx="468.1" cy="254.7" r="9.9" opacity="0.53"/>
<circle cx="482.5" cy="261.9" r="12.0" opacity="0.63"/>
<circle cx="504.1" cy="261.4" r="11.9" opacity="0.57"/>
<circle cx="533.4" cy="257.5" r="9.5" opacity="0.48"/>
<circle cx="550.3" cy="253.4" r="10.0" opacity="0.64"/>
<circle cx="577.0" cy="261.5" r="11.7" opacity="0.52"/>
<circle cx="597.5" cy="257.4" r="12.0" opacity="0.58"/>
<circle cx="616.7" cy="259.4" r="12.8" opacity="0.50"/>
<circle cx="644.8" cy="253.2" r="9.7" opacity="0.51"/>
<circle cx="665.4" cy="262.4" r="11.9" opacity="0.53"/>
<circle cx="688.8" cy="256.3" r="9.6" opacity="0.68"/>
<circle cx="708.3" cy="259.9" r="11.5" opacity="0.69"/>
<circle cx="728.7" cy="261.4" r="11.6" opacity="0.66"/>
<circle cx="255.4" cy="279.2" r="11.1" opacity="0.53"/>
<circle cx="275.1" cy="278.2" r="8.9" opacity="0.68"/>
<circle cx="296.4" cy="272.3" r="9.0" opacity="0.68"/>
<circle cx="320.4" cy="273.4" r="8.6" opacity="0.46"/>
<circle cx="345.9" cy="278.3" r="11.6" opacity="0.63"/>
<circle cx="361.7" cy="277.9" r="10.1" opacity="0.65"/>
<circle cx="391.2" cy="280.9" r="8.8" opacity="0.67"/>
<circle cx="414.1" cy="281.4" r="9.0" opacity="0.50"/>
<circle cx="428.1" cy="272.3" r="12.3" opacity="0.65"/>
<circle cx="455.3" cy="280.3" r="11.3" opacity="0.52"/>
<circle cx="472.0" cy="273.0" r="11.9" opacity="0.50"/>
<circle cx="496.2" cy="276.2" r="8.6" opacity="0.51"/>
<circle cx="517.8" cy="279.2" r="10.2" opacity="0.53"/>
<circle cx="546.6" cy="277.0" r="12.3" opacity="0.60"/>
<circle cx="559.3" cy="276.1" r="10.5" opacity="0.64"/>
<circle cx="584.5" cy="279.0" r="10.9" opacity="0.50"/>
<circle cx="611.6" cy="272.9" r="12.2" opacity="0.49"/>
<circle cx="625.0" cy="274.0" r="11.9" opacity="0.69"/>
<circle cx="647.0" cy="276.9" r="10.7" opacity="0.65"/>
<circle cx="670.8" cy="276.9" r="10.1" opacity="0.66"/>
<circle cx="693.6" cy="281.4" r="9.8" opacity="0.50"/>
<circle cx="720.0" cy="277.0" r="9.0" opacity="0.61"/>
<circle cx="240.8" cy="298.9" r="11.6" opacity="0.65"/>
<circle cx="268.3" cy="294.6" r="10.3" opacity="0.55"/>
<circle cx="292.9" cy="291.9" r="12.5" opacity="0.46"/>
<circle cx="308.1" cy="293.6" r="12.6" opacity="0.58"/>
<circle cx="331.8" cy="299.8" r="9.6" opacity="0.57"/>
<circle cx="355.3" cy="298.5" r="11.9" opacity="0.61"/>
<circle cx="375.5" cy="294.3" r="9.2" opacity="0.66"/>
<circle cx="400.6" cy="298.4" r="9.3" opacity="0.56"/>
<circle cx="423.7" cy="296.8" r="9.1" opacity="0.57"/>
<circle cx="446.9" cy="293.4" r="9.4" opacity="0.53"/>
<circle cx="467.0" cy="299.4" r="9.2" opacity="0.49"/>
<circle cx="484.5" cy="294.3" r="10.8" opacity="0.49"/>
<circle cx="507.3" cy="292.9" r="12.9" opacity="0.63"/>
<circle cx="527.0" cy="300.6" r="9.0" opacity="0.55"/>
<circle cx="557.8" cy="298.9" r="11.8" opacity="0.56"/>
<circle cx="572.0" cy="297.4" r="9.0" opacity="0.50"/>
<circle cx="595.9" cy="291.3" r="10.3" opacity="0.65"/>
<circle cx="620.9" cy="296.0" r="11.3" opacity="0.57"/>
<circle cx="637.4" cy="297.0" r="10.3" opacity="0.64"/>
<circle cx="667.1" cy="295.3" r="11.1" opacity="0.64"/>
<circle cx="684.2" cy="293.3" r="11.7" opacity="0.67"/>
<circle cx="709.7" cy="298.0" r="12.3" opacity="0.62"/>
<circle cx="730.4" cy="295.5" r="9.9" opacity="0.61"/>
<circle cx="252.0" cy="314.2" r="12.0" opacity="0.63"/>
<circle cx="279.3" cy="312.5" r="10.4" opacity="0.56"/>
<circle cx="301.2" cy="314.1" r="11.5" opacity="0.68"/>
<circle cx="318.8" cy="316.5" r="12.0" opacity="0.55"/>
<circle cx="343.9" cy="319.7" r="8.7" opacity="0.59"/>
<circle cx="362.6" cy="317.8" r="12.7" opacity="0.58"/>
<circle cx="384.0" cy="315.7" r="10.9" opacity="0.63"/>
<circle cx="410.1" cy="316.4" r="12.2" opacity="0.58"/>
<circle cx="431.1" cy="319.5" r="9.4" opacity="0.62"/>
<circle cx="452.9" cy="317.6" r="9.1" opacity="0.70"/>
<circle cx="474.6" cy="310.6" r="9.7" opacity="0.55"/>
<circle cx="493.1" cy="314.2" r="10.4" opacity="0.62"/>
<circle cx="518.5" cy="312.7" r="9.5" opacity="0.64"/>
<circle cx="546.4" cy="315.3" r="9.5" opacity="0.65"/>
<circle cx="562.9" cy="312.1" r="9.1" opacity="0.64"/>
<circle cx="589.1" cy="316.3" r="10.6" opacity="0.59"/>
<circle cx="605.3" cy="319.6" r="10.1" opacity="0.61"/>
<circle cx="633.2" cy="318.2" r="10.6" opacity="0.52"/>
<circle cx="652.5" cy="311.3" r="12.3" opacity="0.54"/>
<circle cx="677.5" cy="312.7" r="10.2" opacity="0.51"/>
<circle cx="695.3" cy="311.9" r="8.5" opacity="0.63"/>
<circle cx="715.8" cy="312.4" r="9.9" opacity="0.57"/>
<circle cx="244.3" cy="335.4" r="11.5" opacity="0.54"/>
<circle cx="271.3" cy="337.5" r="8.8" opacity="0.66"/>
<circle cx="293.1" cy="336.8" r="9.1" opacity="0.66"/>
<circle cx="312.3" cy="329.1" r="8.6" opacity="0.69"/>
<circle cx="334.6" cy="331.5" r="9.0" opacity="0.49"/>
<circle cx="352.3" cy="336.8" r="10.1" opacity="0.49"/>
<circle cx="381.0" cy="336.9" r="9.3" opacity="0.67"/>
<circle cx="400.1" cy="336.8" r="11.5" opacity="0.67"/>
<circle cx="423.9" cy="337.4" r="9.4" opacity="0.62"/>
<circle cx="443.3" cy="336.4" r="10.5" opacity="0.67"/>
<circle cx="465.6" cy="331.6" r="9.6" opacity="0.48"/>
<circle cx="486.9" cy="329.6" r="10.6" opacity="0.49"/>
<circle cx="508.9" cy="334.0" r="10.9" opacity="0.67"/>
<circle cx="526.1" cy="337.4" r="10.6" opacity="0.59"/>
<circle cx="554.7" cy="337.4" r="10.2" opacity="0.55"/>
<circle cx="579.6" cy="329.8" r="11.4" opacity="0.61"/>
<circle cx="592.3" cy="335.1" r="11.6" opacity="0.68"/>
<circle cx="617.3" cy="338.8" r="10.8" opacity="0.57"/>
<circle cx="645.0" cy="329.3" r="11.7" opacity="0.61"/>
<circle cx="661.4" cy="337.6" r="10.1" opacity="0.57"/>
<circle cx="685.3" cy="336.7" r="9.4" opacity="0.56"/>
<circle cx="706.2" cy="334.5" r="12.2" opacity="0.52"/>
<circle cx="732.3" cy="333.0" r="10.8" opacity="0.52"/>
<circle cx="256.1" cy="357.7" r="11.4" opacity="0.65"/>
<circle cx="276.3" cy="351.2" r="9.8" opacity="0.60"/>
<circle cx="301.3" cy="355.8" r="8.7" opacity="0.63"/>
<circle cx="325.9" cy="353.5" r="8.7" opacity="0.53"/>
<circle cx="339.1" cy="349.9" r="12.6" opacity="0.60"/>
<circle cx="367.6" cy="355.9" r="12.6" opacity="0.60"/>
<circle cx="389.2" cy="354.3" r="11.6" opacity="0.60"/>
<circle cx="411.8" cy="350.1" r="11.5" opacity="0.56"/>
<circle cx="434.6" cy="349.0" r="9.3" opacity="0.46"/>
<circle cx="456.7" cy="357.1" r="11.5" opacity="0.54"/>
<circle cx="479.2" cy="355.9" r="11.0" opacity="0.51"/>
<circle cx="496.0" cy="352.2" r="9.9" opacity="0.56"/>
<circle cx="521.4" cy="357.3" r="8.7" opacity="0.59"/>
<circle cx="537.4" cy="349.2" r="12.1" opacity="0.59"/>
<circle cx="568.2" cy="352.5" r="8.6" opacity="0.55"/>
<circle cx="586.9" cy="357.4" r="12.9" opacity="0.57"/>
<circle cx="607.1" cy="349.0" r="11.4" opacity="0.50"/>
<circle cx="626.5" cy="348.2" r="8.5" opacity="0.62"/>
<circle cx="648.2" cy="357.7" r="8.9" opacity="0.67"/>
<circle cx="670.3" cy="348.2" r="11.7" opacity="0.51"/>
<circle cx="698.3" cy="349.9" r="8.7" opacity="0.64"/>
<circle cx="720.1" cy="356.6" r="11.8" opacity="0.47"/>
<circle cx="246.3" cy="374.1" r="10.6" opacity="0.68"/>
<circle cx="264.5" cy="376.6" r="11.7" opacity="0.45"/>
<circle cx="284.1" cy="373.5" r="12.2" opacity="0.47"/>
<circle cx="309.1" cy="374.3" r="9.2" opacity="0.67"/>
<circle cx="332.9" cy="367.6" r="10.2" opacity="0.59"/>
<circle cx="354.4" cy="373.8" r="9.2" opacity="0.65"/>
<circle cx="375.6" cy="373.4" r="11.3" opacity="0.55"/>
<circle cx="397.9" cy="374.9" r="12.8" opacity="0.65"/>
<circle cx="421.7" cy="369.9" r="8.8" opacity="0.69"/>
<circle cx="445.0" cy="375.3" r="10.0" opacity="0.60"/>
<circle cx="469.8" cy="375.3" r="11.2" opacity="0.53"/>
<circle cx="486.3" cy="375.9" r="10.2" opacity="0.62"/>
<circle cx="510.0" cy="376.0" r="12.1" opacity="0.52"/>
<circle cx="526.0" cy="369.6" r="10.4" opacity="0.60"/>
<circle cx="556.2" cy="375.9" r="8.7" opacity="0.66"/>
<circle cx="578.1" cy="375.7" r="11.1" opacity="0.52"/>
<circle cx="600.5" cy="375.1" r="11.6" opacity="0.68"/>
<circle cx="617.5" cy="367.9" r="11.0" opacity="0.65"/>
<circle cx="638.0" cy="374.5" r="12.7" opacity="0.51"/>
<circle cx="664.1" cy="373.8" r="10.6" opacity="0.50"/>
<circle cx="682.5" cy="374.5" r="12.1" opacity="0.56"/>
<circle cx="702.9" cy="375.1" r="12.0" opacity="0.51"/>
<circle cx="729.8" cy="376.0" r="12.5" opacity="0.58"/>
<circle cx="255.8" cy="391.9" r="9.4" opacity="0.50"/>
<circle cx="274.8" cy="393.0" r="10.1" opacity="0.59"/>
<circle cx="299.0" cy="391.2" r="9.2" opacity="0.46"/>
<circle cx="327.0" cy="389.7" r="9.0" opacity="0.61"/>
<circle cx="346.9" cy="387.6" r="11.2" opacity="0.54"/>
<circle cx="366.2" cy="386.2" r="8.7" opacity="0.70"/>
<circle cx="391.7" cy="390.9" r="11.1" opacity="0.52"/>
<circle cx="412.8" cy="390.3" r="12.8" opacity="0.64"/>
<circle cx="435.2" cy="395.6" r="9.6" opacity="0.46"/>
<circle cx="451.0" cy="387.8" r="8.9" opacity="0.46"/>
<circle cx="476.6" cy="394.7" r="10.6" opacity="0.69"/>
<circle cx="502.1" cy="386.6" r="11.2" opacity="0.55"/>
<circle cx="516.2" cy="395.6" r="9.7" opacity="0.59"/>
<circle cx="543.4" cy="395.6" r="11.5" opacity="0.55"/>
<circle cx="563.5" cy="387.6" r="12.8" opacity="0.70"/>
<circle cx="583.2" cy="386.4" r="9.7" opacity="0.54"/>
<circle cx="612.0" cy="395.0" r="12.3" opacity="0.46"/>
<circle cx="632.9" cy="393.1" r="11.4" opacity="0.70"/>
<circle cx="647.6" cy="387.4" r="11.9" opacity="0.68"/>
<circle cx="675.8" cy="389.0" r="11.2" opacity="0.64"/>
<circle cx="692.1" cy="389.2" r="9.7" opacity="0.48"/>
<circle cx="717.8" cy="387.7" r="9.6" opacity="0.49"/>
<circle cx="246.8" cy="405.1" r="11.7" opacity="0.50"/>
<circle cx="262.4" cy="414.3" r="9.5" opacity="0.68"/>
<circle cx="292.7" cy="413.9" r="9.1" opacity="0.56"/>
<circle cx="307.0" cy="414.3" r="12.3" opacity="0.61"/>
<circle cx="332.5" cy="408.4" r="12.2" opacity="0.57"/>
<circle cx="356.3" cy="406.4" r="9.5" opacity="0.46"/>
<circle cx="379.1" cy="410.5" r="9.2" opacity="0.67"/>
<circle cx="396.7" cy="409.1" r="9.2" opacity="0.52"/>
<circle cx="424.4" cy="408.3" r="9.3" opacity="0.57"/>
<circle cx="441.2" cy="414.0" r="9.0" opacity="0.69"/>
<circle cx="460.6" cy="414.0" r="11.5" opacity="0.50"/>
<circle cx="486.8" cy="407.9" r="9.7" opacity="0.50"/>
<circle cx="507.6" cy="414.9" r="13.0" opacity="0.68"/>
<circle cx="527.0" cy="407.9" r="12.5" opacity="0.46"/>
<circle cx="555.3" cy="407.9" r="12.9" opacity="0.45"/>
<circle cx="578.1" cy="408.4" r="9.1" opacity="0.45"/>
<circle cx="600.3" cy="410.3" r="9.3" opacity="0.56"/>
<circle cx="623.1" cy="407.2" r="11.1" opacity="0.48"/>
<circle cx="637.8" cy="412.7" r="11.7" opacity="0.50"/>
<circle cx="658.8" cy="405.9" r="11.2" opacity="0.57"/>
<circle cx="682.7" cy="407.1" r="11.3" opacity="0.63"/>
<circle cx="710.1" cy="410.8" r="9.4" opacity="0.47"/>
<circle cx="731.3" cy="409.1" r="11.7" opacity="0.46"/>
<circle cx="259.1" cy="427.4" r="12.3" opacity="0.67"/>
<circle cx="277.9" cy="424.2" r="12.6" opacity="0.57"/>
<circle cx="303.7" cy="426.7" r="9.3" opacity="0.66"/>
<circle cx="320.7" cy="425.6" r="10.2" opacity="0.60"/>
<circle cx="339.0" cy="429.2" r="10.5" opacity="0.58"/>
<circle cx="362.2" cy="431.1" r="12.2" opacity="0.67"/>
<circle cx="386.2" cy="431.1" r="10.2" opacity="0.64"/>
<circle cx="405.6" cy="432.7" r="12.8" opacity="0.57"/>
<circle cx="432.1" cy="429.3" r="10.9" opacity="0.46"/>
<circle cx="458.7" cy="426.2" r="9.3" opacity="0.48"/>
<circle cx="473.5" cy="432.2" r="8.6" opacity="0.47"/>
<circle cx="500.0" cy="426.0" r="8.6" opacity="0.60"/>
<circle cx="520.8" cy="429.2" r="11.7" opacity="0.48"/>
<circle cx="545.7" cy="431.2" r="8.7" opacity="0.48"/>
<circle cx="563.9" cy="429.0" r="9.8" opacity="0.48"/>
<circle cx="585.1" cy="425.4" r="11.2" opacity="0.67"/>
<circle cx="604.5" cy="429.7" r="11.9" opacity="0.49"/>
<circle cx="633.3" cy="433.4" r="10.2" opacity="0.56"/>
<circle cx="655.4" cy="429.3" r="10.3" opacity="0.69"/>
<circle cx="676.8" cy="427.4" r="9.6" opacity="0.53"/>
<circle cx="695.4" cy="433.8" r="12.1" opacity="0.68"/>
<circle cx="721.2" cy="432.5" r="8.7" opacity="0.58"/>
<circle cx="249.6" cy="452.3" r="9.6" opacity="0.56"/>
<circle cx="268.3" cy="446.6" r="10.9" opacity="0.47"/>
<circle cx="288.3" cy="448.0" r="8.6" opacity="0.48"/>
<circle cx="315.7" cy="450.8" r="12.7" opacity="0.61"/>
<circle cx="336.1" cy="451.8" r="12.5" opacity="0.46"/>
<circle cx="356.4" cy="445.7" r="11.6" opacity="0.52"/>
<circle cx="377.4" cy="452.2" r="11.3" opacity="0.51"/>
<circle cx="399.2" cy="447.3" r="12.8" opacity="0.52"/>
<circle cx="419.1" cy="449.5" r="9.0" opacity="0.60"/>
<circle cx="447.6" cy="448.1" r="9.7" opacity="0.57"/>
<circle cx="465.3" cy="444.5" r="9.1" opacity="0.48"/>
<circle cx="484.9" cy="447.1" r="9.8" opacity="0.51"/>
<circle cx="504.9" cy="448.5" r="12.3" opacity="0.60"/>
<circle cx="531.7" cy="449.5" r="9.4" opacity="0.63"/>
<circle cx="552.6" cy="448.5" r="11.3" opacity="0.57"/>
<circle cx="573.1" cy="445.4" r="9.5" opacity="0.58"/>
<circle cx="595.8" cy="448.9" r="8.6" opacity="0.54"/>
<circle cx="622.6" cy="445.4" r="11.0" opacity="0.57"/>
<circle cx="638.8" cy="452.9" r="9.8" opacity="0.64"/>
<circle cx="659.6" cy="443.7" r="12.4" opacity="0.56"/>
<circle cx="680.6" cy="446.9" r="10.5" opacity="0.63"/>
<circle cx="703.1" cy="445.3" r="12.8" opacity="0.63"/>
<circle cx="725.5" cy="446.4" r="10.1" opacity="0.62"/>
<circle cx="257.2" cy="470.5" r="12.2" opacity="0.58"/>
<circle cx="280.4" cy="469.4" r="11.9" opacity="0.57"/>
<circle cx="302.8" cy="469.1" r="12.6" opacity="0.48"/>
<circle cx="325.7" cy="462.0" r="11.9" opacity="0.60"/>
<circle cx="344.0" cy="471.6" r="11.1" opacity="0.55"/>
<circle cx="368.8" cy="470.7" r="11.2" opacity="0.54"/>
<circle cx="387.5" cy="466.6" r="11.8" opacity="0.52"/>
<circle cx="408.9" cy="467.6" r="10.2" opacity="0.53"/>
<circle cx="434.9" cy="470.5" r="10.7" opacity="0.56"/>
<circle cx="450.8" cy="465.0" r="9.2" opacity="0.59"/>
<circle cx="476.8" cy="462.9" r="12.6" opacity="0.53"/>
<circle cx="501.4" cy="470.4" r="12.8" opacity="0.50"/>
<circle cx="519.3" cy="471.1" r="8.5" opacity="0.46"/>
<circle cx="542.6" cy="467.0" r="12.6" opacity="0.64"/>
<circle cx="564.4" cy="472.0" r="10.8" opacity="0.58"/>
<circle cx="587.9" cy="465.9" r="10.1" opacity="0.60"/>
<circle cx="606.5" cy="471.5" r="11.5" opacity="0.58"/>
<circle cx="626.0" cy="465.7" r="10.3" opacity="0.59"/>
<circle cx="652.7" cy="470.8" r="12.8" opacity="0.57"/>
<circle cx="673.4" cy="468.2" r="13.0" opacity="0.54"/>
<circle cx="696.3" cy="470.2" r="9.3" opacity="0.53"/>
<circle cx="722.8" cy="470.3" r="10.8" opacity="0.48"/>
<ellipse cx="293.3" cy="111.6" rx="15.0" ry="10.0" opacity="0.7"/>
<ellipse cx="326.6" cy="63.3" rx="8.3" ry="10.0" opacity="0.6"/>
<ellipse cx="394.9" cy="73.3" rx="9.2" ry="15.0" opacity="0.8"/>
<ellipse cx="359.9" cy="124.9" rx="20.0" ry="16.7" opacity="0.7"/>
<ellipse cx="448.2" cy="75.0" rx="30.0" ry="11.7" opacity="0.8"/>
<ellipse cx="414.9" cy="144.9" rx="16.7" ry="11.7" opacity="0.5"/>
<ellipse cx="522.5" cy="48.3" rx="11.7" ry="10.0" opacity="0.9"/>
<ellipse cx="548.3" cy="134.9" rx="13.3" ry="13.3" opacity="0.9"/>
<ellipse cx="583.3" cy="95.0" rx="25.0" ry="16.7" opacity="0.7"/>
<ellipse cx="621.6" cy="66.6" rx="15.0" ry="11.7" opacity="0.7"/>
<ellipse cx="633.2" cy="151.6" rx="16.7" ry="15.0" opacity="0.8"/>
<ellipse cx="681.5" cy="158.2" rx="13.3" ry="10.0" opacity="0.6"/>
<ellipse cx="506.7" cy="171.6" rx="16.7" ry="8.3" opacity="0.5"/>
<ellipse cx="295.0" cy="233.0" rx="20.0" ry="15.0" opacity="0.7"/>
<ellipse cx="346.6" cy="257.9" rx="13.3" ry="8.3" opacity="0.6"/>
<ellipse cx="359.9" cy="297.9" rx="16.7" ry="11.7" opacity="0.7"/>
<ellipse cx="369.9" cy="198.0" rx="23.3" ry="11.7" opacity="0.7"/>
<ellipse cx="389.9" cy="244.6" rx="8.3" ry="6.7" opacity="0.6"/>
<ellipse cx="456.5" cy="211.3" rx="20.0" ry="20.0" opacity="0.7"/>
<ellipse cx="464.9" cy="311.2" rx="25.0" ry="15.0" opacity="0.7"/>
<ellipse cx="406.6" cy="307.9" rx="10.0" ry="16.7" opacity="0.6"/>
<ellipse cx="618.2" cy="244.6" rx="20.0" ry="16.7" opacity="0.9"/>
<ellipse cx="666.5" cy="219.6" rx="16.7" ry="25.0" opacity="0.7"/>
<ellipse cx="666.5" cy="277.9" rx="15.0" ry="20.0" opacity="0.6"/>
<ellipse cx="616.6" cy="297.9" rx="21.7" ry="20.0" opacity="0.7"/>
<ellipse cx="501.7" cy="251.3" rx="10.0" ry="8.3" opacity="0.7"/>
<ellipse cx="540.0" cy="294.6" rx="20.0" ry="16.7" opacity="0.5"/>
<ellipse cx="606.6" cy="198.0" rx="13.3" ry="13.3" opacity="0.6"/>
<ellipse cx="356.6" cy="350.0" rx="11.7" ry="15.0" opacity="0.9"/>
<ellipse cx="406.6" cy="383.3" rx="41.6" ry="20.0" opacity="0.8"/>
<ellipse cx="398.2" cy="341.7" rx="16.7" ry="13.3" opacity="0.6"/>
<ellipse cx="464.9" cy="366.6" rx="13.3" ry="25.0" opacity="0.6"/>
<ellipse cx="653.2" cy="373.3" rx="18.3" ry="16.7" opacity="0.9"/>
<ellipse cx="609.9" cy="421.6" rx="26.6" ry="16.7" opacity="0.9"/>
<ellipse cx="673.2" cy="424.9" rx="16.7" ry="15.0" opacity="0.8"/>
<ellipse cx="523.3" cy="433.3" rx="26.6" ry="20.0" opacity="0.8"/>
<ellipse cx="606.6" cy="341.7" rx="20.0" ry="10.0" opacity="0.8"/>
<ellipse cx="698.2" cy="341.7" rx="21.7" ry="11.7" opacity="0.7"/>
<ellipse cx="523.3" cy="375.0" rx="25.0" ry="16.7" opacity="0.6"/>
</g>
<path d="M262.5,241.0C263.1,238.2 264.9,235.7 266.6,233.0C268.3,230.3 271.9,227.7 272.5,224.6C273.1,221.5 270.3,218.2 270.0,214.6C269.7,211.0 271.1,206.9 270.8,203.0C270.5,199.1 268.6,195.5 268.3,191.3C268.0,187.1 268.7,181.9 269.1,178.0C269.6,174.1 269.7,171.0 271.0,168.0C272.3,165.0 276.3,162.7 277.0,160.0C277.7,157.3 276.8,154.5 275.0,152.0C273.2,149.5 269.2,147.5 266.0,145.0C262.8,142.5 258.4,140.3 256.0,137.0C253.6,133.7 251.9,128.7 251.7,125.0C251.5,121.3 252.5,117.5 255.0,115.0C257.5,112.5 264.0,112.0 266.6,110.0C269.2,108.0 268.6,106.1 270.8,103.3C273.0,100.5 277.9,96.3 280.0,93.3C282.1,90.2 281.1,87.4 283.3,85.0C285.5,82.6 289.4,79.9 293.3,79.1C297.2,78.3 303.6,81.8 306.6,80.0C309.7,78.2 311.0,71.9 311.6,68.3C312.2,64.7 309.2,61.3 310.0,58.3C310.8,55.2 313.8,51.8 316.6,50.0C319.4,48.2 323.0,47.4 326.6,47.5C330.2,47.6 334.7,49.0 338.3,50.8C341.9,52.6 345.2,55.7 348.3,58.3C351.4,60.9 354.2,64.2 356.6,66.6C359.0,69.0 360.7,74.4 362.4,72.5C364.1,70.6 365.1,59.9 366.6,55.0C368.1,50.1 368.8,46.2 371.6,43.3C374.4,40.4 379.6,38.2 383.2,37.5C386.8,36.8 390.4,38.0 393.2,39.2C396.0,40.5 397.8,43.5 400.0,45.0C402.2,46.5 404.4,46.4 406.6,48.3C408.8,50.2 411.1,54.5 413.2,56.6C415.3,58.7 416.5,60.1 419.0,60.8C421.5,61.5 424.7,61.8 428.2,60.8C431.7,59.8 436.0,57.6 439.9,55.0C443.8,52.4 447.6,47.2 451.5,45.0C455.4,42.8 459.0,42.4 463.2,41.7C467.4,41.0 472.0,41.8 476.5,40.8C481.0,39.8 485.0,37.2 490.0,35.8C495.0,34.4 501.4,33.5 506.7,32.5C512.0,31.5 517.2,29.7 521.6,30.0C526.0,30.3 530.5,32.4 533.3,34.2C536.1,36.0 536.1,39.4 538.3,40.8C540.5,42.2 543.5,41.7 546.6,42.5C549.7,43.3 553.8,43.7 556.6,45.8C559.4,47.9 560.8,52.1 563.3,55.0C565.8,57.9 569.1,60.9 571.6,63.3C574.1,65.6 576.3,67.3 578.3,69.1C580.2,70.9 580.8,73.3 583.3,74.1C585.8,74.9 590.8,73.9 593.3,74.1C595.8,74.2 597.5,76.8 598.3,75.0C599.1,73.2 597.5,66.8 598.3,63.3C599.1,59.8 600.8,56.3 603.3,54.1C605.8,51.9 609.1,50.5 613.2,50.0C617.4,49.5 624.0,49.7 628.2,50.8C632.4,51.9 636.0,53.7 638.2,56.6C640.4,59.5 640.6,64.1 641.6,68.3C642.6,72.5 643.6,77.7 644.1,81.6C644.6,85.5 643.9,88.3 644.9,91.6C645.9,94.9 647.4,99.2 649.9,101.6C652.4,104.0 656.8,103.6 659.9,105.8C663.0,108.0 666.5,112.0 668.2,114.9C669.9,117.8 668.2,121.1 669.9,123.3C671.6,125.5 675.7,125.8 678.2,128.3C680.7,130.8 682.1,135.5 684.9,138.3C687.7,141.1 691.6,141.6 694.9,144.9C698.2,148.2 702.4,154.0 704.9,158.2C707.4,162.4 707.7,167.1 709.9,169.9C712.1,172.7 716.3,173.6 718.2,174.9C720.1,176.2 720.1,175.6 721.5,178.0C722.9,180.4 726.2,185.4 726.5,189.6C726.8,193.8 724.0,199.4 723.2,203.0C722.4,206.6 721.0,207.7 721.5,211.3C722.0,214.9 725.5,219.9 726.5,224.6C727.5,229.3 727.9,235.1 727.4,239.6C726.9,244.1 725.0,247.7 723.2,251.3C721.4,254.9 718.5,258.0 716.6,261.3C714.7,264.6 712.7,268.0 711.6,271.3C710.5,274.6 711.0,277.4 709.9,281.3C708.8,285.2 705.4,290.2 704.9,294.6C704.4,299.1 705.2,304.1 706.6,308.0C708.0,311.9 710.4,315.4 713.2,317.9C716.0,320.4 720.4,321.3 723.2,323.0C726.0,324.7 728.1,324.9 729.9,328.0C731.7,331.1 734.0,337.7 734.0,341.6C734.0,345.5 732.2,348.8 729.9,351.6C727.5,354.4 722.7,355.5 719.9,358.3C717.1,361.1 714.6,365.0 713.2,368.3C711.8,371.6 713.3,375.2 711.6,378.3C709.9,381.4 706.8,383.3 703.2,386.6C699.6,389.9 693.2,395.7 689.9,398.3C686.6,400.9 682.9,400.8 683.2,402.5C683.5,404.2 689.2,405.7 691.6,408.3C694.0,410.9 696.6,414.4 697.4,418.3C698.2,422.2 697.9,427.7 696.6,431.6C695.4,435.5 693.0,438.7 689.9,441.6C686.8,444.5 682.1,447.4 678.2,449.1C674.3,450.8 670.2,450.9 666.6,451.6C663.0,452.3 660.2,452.7 656.6,453.3C653.0,453.9 648.8,453.9 644.9,455.0C641.0,456.1 637.1,458.5 633.2,460.0C629.3,461.5 625.5,464.1 621.6,464.1C617.7,464.1 613.3,462.1 610.0,460.0C606.7,457.9 603.6,452.4 601.6,451.6C599.6,450.8 600.0,452.8 598.3,455.0C596.6,457.2 594.4,462.2 591.6,465.0C588.8,467.8 584.9,470.8 581.6,471.6C578.3,472.4 575.2,471.3 571.6,469.9C568.0,468.5 563.9,465.5 560.0,463.3C556.1,461.1 551.1,459.1 548.3,456.6C545.5,454.1 545.2,448.0 543.3,448.3C541.3,448.6 539.1,455.2 536.6,458.3C534.1,461.4 531.3,465.0 528.3,466.6C525.2,468.2 521.6,469.0 518.3,468.2C515.0,467.4 511.4,464.9 508.3,461.6C505.2,458.3 503.1,451.6 500.0,448.3C496.9,445.0 493.6,443.3 490.0,441.6C486.4,439.9 481.6,440.0 478.2,438.3C474.8,436.6 472.4,434.1 469.9,431.6C467.4,429.1 465.7,424.4 463.2,423.3C460.7,422.2 457.9,423.3 454.9,425.0C451.8,426.7 447.7,430.5 444.9,433.3C442.1,436.1 441.0,439.2 438.2,441.6C435.4,444.0 431.2,446.6 428.2,447.4C425.2,448.2 422.8,447.6 420.0,446.6C417.2,445.6 413.0,441.0 411.6,441.6C410.2,442.2 413.0,447.5 411.6,450.0C410.2,452.5 406.3,455.2 403.2,456.6C400.1,458.0 396.5,458.9 393.2,458.3C389.9,457.8 386.8,454.7 383.2,453.3C379.6,451.9 374.9,451.9 371.6,450.0C368.3,448.1 365.0,444.4 363.3,441.6C361.6,438.8 363.3,435.8 361.6,433.3C359.9,430.8 356.9,428.0 353.3,426.6C349.7,425.2 343.6,426.1 340.0,425.0C336.4,423.9 333.8,422.5 331.6,420.0C329.4,417.5 327.4,413.3 326.6,410.0C325.8,406.7 327.4,403.1 326.6,400.0C325.8,396.9 322.7,394.9 321.6,391.6C320.5,388.3 319.4,383.6 320.0,380.0C320.6,376.4 322.7,372.2 324.9,370.0C327.1,367.8 332.2,368.6 333.3,366.6C334.4,364.7 331.8,361.9 331.6,358.3C331.5,354.7 332.9,348.9 332.4,345.0C331.8,341.1 329.1,338.3 328.3,335.0C327.5,331.7 327.0,327.6 327.4,325.0C327.8,322.4 329.6,322.5 330.8,319.6C332.1,316.8 333.9,311.2 334.9,307.9C335.9,304.6 336.9,301.8 336.6,299.6C336.3,297.4 336.1,295.6 333.3,294.6C330.5,293.6 325.0,293.9 320.0,293.8C315.0,293.7 308.3,294.5 303.3,293.8C298.3,293.1 293.5,291.7 290.0,289.6C286.5,287.5 283.9,284.4 282.5,281.3C281.1,278.2 281.5,274.6 281.6,271.3C281.7,268.0 285.2,263.8 283.3,261.3C281.4,258.8 273.3,258.2 270.0,256.3C266.7,254.4 264.6,252.2 263.3,249.6C262.1,247.0 261.9,243.8 262.5,241.0Z" fill="none" stroke="#000" stroke-width="12" opacity=".26" filter="url(#b4)"/>
<path d="M262.5,241.0C263.1,238.2 264.9,235.7 266.6,233.0C268.3,230.3 271.9,227.7 272.5,224.6C273.1,221.5 270.3,218.2 270.0,214.6C269.7,211.0 271.1,206.9 270.8,203.0C270.5,199.1 268.6,195.5 268.3,191.3C268.0,187.1 268.7,181.9 269.1,178.0C269.6,174.1 269.7,171.0 271.0,168.0C272.3,165.0 276.3,162.7 277.0,160.0C277.7,157.3 276.8,154.5 275.0,152.0C273.2,149.5 269.2,147.5 266.0,145.0C262.8,142.5 258.4,140.3 256.0,137.0C253.6,133.7 251.9,128.7 251.7,125.0C251.5,121.3 252.5,117.5 255.0,115.0C257.5,112.5 264.0,112.0 266.6,110.0C269.2,108.0 268.6,106.1 270.8,103.3C273.0,100.5 277.9,96.3 280.0,93.3C282.1,90.2 281.1,87.4 283.3,85.0C285.5,82.6 289.4,79.9 293.3,79.1C297.2,78.3 303.6,81.8 306.6,80.0C309.7,78.2 311.0,71.9 311.6,68.3C312.2,64.7 309.2,61.3 310.0,58.3C310.8,55.2 313.8,51.8 316.6,50.0C319.4,48.2 323.0,47.4 326.6,47.5C330.2,47.6 334.7,49.0 338.3,50.8C341.9,52.6 345.2,55.7 348.3,58.3C351.4,60.9 354.2,64.2 356.6,66.6C359.0,69.0 360.7,74.4 362.4,72.5C364.1,70.6 365.1,59.9 366.6,55.0C368.1,50.1 368.8,46.2 371.6,43.3C374.4,40.4 379.6,38.2 383.2,37.5C386.8,36.8 390.4,38.0 393.2,39.2C396.0,40.5 397.8,43.5 400.0,45.0C402.2,46.5 404.4,46.4 406.6,48.3C408.8,50.2 411.1,54.5 413.2,56.6C415.3,58.7 416.5,60.1 419.0,60.8C421.5,61.5 424.7,61.8 428.2,60.8C431.7,59.8 436.0,57.6 439.9,55.0C443.8,52.4 447.6,47.2 451.5,45.0C455.4,42.8 459.0,42.4 463.2,41.7C467.4,41.0 472.0,41.8 476.5,40.8C481.0,39.8 485.0,37.2 490.0,35.8C495.0,34.4 501.4,33.5 506.7,32.5C512.0,31.5 517.2,29.7 521.6,30.0C526.0,30.3 530.5,32.4 533.3,34.2C536.1,36.0 536.1,39.4 538.3,40.8C540.5,42.2 543.5,41.7 546.6,42.5C549.7,43.3 553.8,43.7 556.6,45.8C559.4,47.9 560.8,52.1 563.3,55.0C565.8,57.9 569.1,60.9 571.6,63.3C574.1,65.6 576.3,67.3 578.3,69.1C580.2,70.9 580.8,73.3 583.3,74.1C585.8,74.9 590.8,73.9 593.3,74.1C595.8,74.2 597.5,76.8 598.3,75.0C599.1,73.2 597.5,66.8 598.3,63.3C599.1,59.8 600.8,56.3 603.3,54.1C605.8,51.9 609.1,50.5 613.2,50.0C617.4,49.5 624.0,49.7 628.2,50.8C632.4,51.9 636.0,53.7 638.2,56.6C640.4,59.5 640.6,64.1 641.6,68.3C642.6,72.5 643.6,77.7 644.1,81.6C644.6,85.5 643.9,88.3 644.9,91.6C645.9,94.9 647.4,99.2 649.9,101.6C652.4,104.0 656.8,103.6 659.9,105.8C663.0,108.0 666.5,112.0 668.2,114.9C669.9,117.8 668.2,121.1 669.9,123.3C671.6,125.5 675.7,125.8 678.2,128.3C680.7,130.8 682.1,135.5 684.9,138.3C687.7,141.1 691.6,141.6 694.9,144.9C698.2,148.2 702.4,154.0 704.9,158.2C707.4,162.4 707.7,167.1 709.9,169.9C712.1,172.7 716.3,173.6 718.2,174.9C720.1,176.2 720.1,175.6 721.5,178.0C722.9,180.4 726.2,185.4 726.5,189.6C726.8,193.8 724.0,199.4 723.2,203.0C722.4,206.6 721.0,207.7 721.5,211.3C722.0,214.9 725.5,219.9 726.5,224.6C727.5,229.3 727.9,235.1 727.4,239.6C726.9,244.1 725.0,247.7 723.2,251.3C721.4,254.9 718.5,258.0 716.6,261.3C714.7,264.6 712.7,268.0 711.6,271.3C710.5,274.6 711.0,277.4 709.9,281.3C708.8,285.2 705.4,290.2 704.9,294.6C704.4,299.1 705.2,304.1 706.6,308.0C708.0,311.9 710.4,315.4 713.2,317.9C716.0,320.4 720.4,321.3 723.2,323.0C726.0,324.7 728.1,324.9 729.9,328.0C731.7,331.1 734.0,337.7 734.0,341.6C734.0,345.5 732.2,348.8 729.9,351.6C727.5,354.4 722.7,355.5 719.9,358.3C717.1,361.1 714.6,365.0 713.2,368.3C711.8,371.6 713.3,375.2 711.6,378.3C709.9,381.4 706.8,383.3 703.2,386.6C699.6,389.9 693.2,395.7 689.9,398.3C686.6,400.9 682.9,400.8 683.2,402.5C683.5,404.2 689.2,405.7 691.6,408.3C694.0,410.9 696.6,414.4 697.4,418.3C698.2,422.2 697.9,427.7 696.6,431.6C695.4,435.5 693.0,438.7 689.9,441.6C686.8,444.5 682.1,447.4 678.2,449.1C674.3,450.8 670.2,450.9 666.6,451.6C663.0,452.3 660.2,452.7 656.6,453.3C653.0,453.9 648.8,453.9 644.9,455.0C641.0,456.1 637.1,458.5 633.2,460.0C629.3,461.5 625.5,464.1 621.6,464.1C617.7,464.1 613.3,462.1 610.0,460.0C606.7,457.9 603.6,452.4 601.6,451.6C599.6,450.8 600.0,452.8 598.3,455.0C596.6,457.2 594.4,462.2 591.6,465.0C588.8,467.8 584.9,470.8 581.6,471.6C578.3,472.4 575.2,471.3 571.6,469.9C568.0,468.5 563.9,465.5 560.0,463.3C556.1,461.1 551.1,459.1 548.3,456.6C545.5,454.1 545.2,448.0 543.3,448.3C541.3,448.6 539.1,455.2 536.6,458.3C534.1,461.4 531.3,465.0 528.3,466.6C525.2,468.2 521.6,469.0 518.3,468.2C515.0,467.4 511.4,464.9 508.3,461.6C505.2,458.3 503.1,451.6 500.0,448.3C496.9,445.0 493.6,443.3 490.0,441.6C486.4,439.9 481.6,440.0 478.2,438.3C474.8,436.6 472.4,434.1 469.9,431.6C467.4,429.1 465.7,424.4 463.2,423.3C460.7,422.2 457.9,423.3 454.9,425.0C451.8,426.7 447.7,430.5 444.9,433.3C442.1,436.1 441.0,439.2 438.2,441.6C435.4,444.0 431.2,446.6 428.2,447.4C425.2,448.2 422.8,447.6 420.0,446.6C417.2,445.6 413.0,441.0 411.6,441.6C410.2,442.2 413.0,447.5 411.6,450.0C410.2,452.5 406.3,455.2 403.2,456.6C400.1,458.0 396.5,458.9 393.2,458.3C389.9,457.8 386.8,454.7 383.2,453.3C379.6,451.9 374.9,451.9 371.6,450.0C368.3,448.1 365.0,444.4 363.3,441.6C361.6,438.8 363.3,435.8 361.6,433.3C359.9,430.8 356.9,428.0 353.3,426.6C349.7,425.2 343.6,426.1 340.0,425.0C336.4,423.9 333.8,422.5 331.6,420.0C329.4,417.5 327.4,413.3 326.6,410.0C325.8,406.7 327.4,403.1 326.6,400.0C325.8,396.9 322.7,394.9 321.6,391.6C320.5,388.3 319.4,383.6 320.0,380.0C320.6,376.4 322.7,372.2 324.9,370.0C327.1,367.8 332.2,368.6 333.3,366.6C334.4,364.7 331.8,361.9 331.6,358.3C331.5,354.7 332.9,348.9 332.4,345.0C331.8,341.1 329.1,338.3 328.3,335.0C327.5,331.7 327.0,327.6 327.4,325.0C327.8,322.4 329.6,322.5 330.8,319.6C332.1,316.8 333.9,311.2 334.9,307.9C335.9,304.6 336.9,301.8 336.6,299.6C336.3,297.4 336.1,295.6 333.3,294.6C330.5,293.6 325.0,293.9 320.0,293.8C315.0,293.7 308.3,294.5 303.3,293.8C298.3,293.1 293.5,291.7 290.0,289.6C286.5,287.5 283.9,284.4 282.5,281.3C281.1,278.2 281.5,274.6 281.6,271.3C281.7,268.0 285.2,263.8 283.3,261.3C281.4,258.8 273.3,258.2 270.0,256.3C266.7,254.4 264.6,252.2 263.3,249.6C262.1,247.0 261.9,243.8 262.5,241.0Z" fill="none" stroke="#000" stroke-width="4" opacity=".28" filter="url(#b3)"/>
<g filter="url(#b4)" fill="none" stroke="#000" stroke-linecap="round">
<path d="M273.3,118.3C276.1,119.4 284.4,121.0 290.0,124.9C295.5,128.8 303.8,138.8 306.6,141.6" stroke-width="8" opacity="0.25"/>
<path d="M268.3,133.3L281.6,158.2" stroke-width="8" opacity="0.25"/>
<path d="M386.6,124.9C389.9,123.8 399.1,118.3 406.6,118.3C414.1,118.3 424.6,127.2 431.5,124.9C438.5,122.7 442.6,109.7 448.2,104.9C453.7,100.2 457.9,96.9 464.9,96.6C471.8,96.3 485.8,102.2 490.0,103.3" stroke-width="9" opacity="0.3"/>
<path d="M356.6,133.3C359.4,134.6 367.7,141.9 373.2,141.6C378.8,141.3 387.1,133.3 389.9,131.6" stroke-width="8" opacity="0.22"/>
<path d="M431.5,124.9C432.9,127.7 435.7,137.1 439.9,141.6C444.0,146.0 451.0,151.0 456.5,151.6C462.1,152.1 470.4,146.0 473.2,144.9" stroke-width="9" opacity="0.28"/>
<path d="M448.2,104.9C449.6,107.2 451.8,114.9 456.5,118.3C461.2,121.6 473.2,123.8 476.5,124.9" stroke-width="8" opacity="0.22"/>
<path d="M346.6,158.2L366.6,166.6" stroke-width="8" opacity="0.2"/>
<path d="M505.8,43.3C506.1,45.8 504.9,54.2 507.5,58.3C510.1,62.4 516.5,66.9 521.6,68.0C526.8,69.1 535.5,65.5 538.3,65.0" stroke-width="10" opacity="0.42"/>
<path d="M609.9,138.3C609.4,141.0 606.6,148.8 606.6,154.9C606.6,161.0 609.4,171.6 609.9,174.9" stroke-width="9" opacity="0.3"/>
<path d="M553.3,80.0C556.6,81.4 568.3,84.1 573.3,88.3C578.3,92.5 581.6,102.2 583.3,104.9" stroke-width="8" opacity="0.2"/>
<path d="M589.9,118.3L606.6,141.6" stroke-width="8" opacity="0.2"/>
<path d="M490.0,151.6C492.8,153.8 500.3,162.1 506.7,164.9C513.0,167.7 524.7,167.7 528.3,168.2" stroke-width="8" opacity="0.2"/>
<path d="M281.6,228.0C284.4,226.9 292.7,221.3 298.3,221.3C303.8,221.3 312.2,226.9 315.0,228.0" stroke-width="8" opacity="0.22"/>
<path d="M290.0,244.6L310.0,241.3" stroke-width="8" opacity="0.2"/>
<path d="M389.9,271.3C391.3,275.2 395.5,286.5 398.2,294.6C401.0,302.6 405.2,315.4 406.6,319.6" stroke-width="9" opacity="0.25"/>
<path d="M343.3,191.3C348.3,192.4 364.1,198.5 373.2,198.0C382.4,197.4 394.1,189.7 398.2,188.0" stroke-width="8" opacity="0.18"/>
<path d="M373.2,211.3L398.2,219.6" stroke-width="8" opacity="0.18"/>
<path d="M456.5,194.7C459.3,198.8 471.8,211.3 473.2,219.6C474.6,228.0 466.2,240.5 464.9,244.6" stroke-width="9" opacity="0.22"/>
<path d="M461.5,294.6L481.5,307.9" stroke-width="8" opacity="0.2"/>
<path d="M584.1,248.0L585.8,294.6" stroke-width="12" opacity="0.35"/>
<path d="M500.0,277.9C502.5,279.0 510.0,284.6 515.0,284.6C520.0,284.6 527.5,279.0 530.0,277.9" stroke-width="10" opacity="0.25"/>
<path d="M593.3,264.6C595.5,265.7 601.6,270.7 606.6,271.3C611.6,271.8 620.5,268.5 623.2,267.9" stroke-width="9" opacity="0.25"/>
<path d="M596.6,271.3C596.0,275.2 593.3,286.5 593.3,294.6C593.3,302.6 596.0,315.4 596.6,319.6" stroke-width="9" opacity="0.22"/>
<path d="M616.6,191.3L623.2,211.3" stroke-width="8" opacity="0.2"/>
<path d="M656.6,203.0C659.3,205.8 671.0,213.8 673.2,219.6C675.4,225.5 670.4,234.9 669.9,238.0" stroke-width="8" opacity="0.2"/>
<path d="M656.6,294.6C659.3,296.3 667.7,303.5 673.2,304.6C678.8,305.7 687.1,301.8 689.9,301.3" stroke-width="8" opacity="0.2"/>
<path d="M378.2,355.0C379.4,356.1 381.8,360.0 384.9,361.6C388.0,363.3 392.4,365.0 396.6,365.0C400.7,365.0 406.0,363.9 409.9,361.6C413.8,359.4 417.7,355.5 419.9,351.6C422.1,347.8 422.4,342.8 423.2,338.3C424.0,333.9 424.6,327.2 424.9,325.0" stroke-width="10" opacity="0.35"/>
<path d="M446.5,404.9C446.8,402.2 446.5,393.3 448.2,388.3C449.9,383.3 455.1,377.2 456.5,375.0" stroke-width="9" opacity="0.28"/>
<path d="M389.9,391.6C392.7,392.2 401.0,395.0 406.6,395.0C412.1,395.0 420.4,392.2 423.2,391.6" stroke-width="8" opacity="0.15"/>
<path d="M490.0,358.3C492.8,360.0 501.1,367.2 506.7,368.3C512.2,369.4 520.5,365.5 523.3,365.0" stroke-width="9" opacity="0.25"/>
<path d="M506.7,395.0C509.4,397.7 516.9,408.6 523.3,411.6C529.7,414.7 541.4,413.0 545.0,413.3" stroke-width="10" opacity="0.35"/>
<path d="M490.0,418.3L500.0,431.6" stroke-width="8" opacity="0.2"/>
<path d="M589.9,375.0C592.2,377.7 602.1,386.1 603.3,391.6C604.4,397.2 597.7,405.5 596.6,408.3" stroke-width="9" opacity="0.25"/>
<path d="M606.6,404.9C609.4,407.2 618.2,417.7 623.2,418.3C628.2,418.8 634.3,409.9 636.6,408.3" stroke-width="8" opacity="0.2"/>
<path d="M681.5,366.6C684.3,368.0 694.0,375.0 698.2,375.0C702.4,375.0 705.1,368.0 706.5,366.6" stroke-width="9" opacity="0.25"/>
</g>
<g filter="url(#b6)" fill="none" stroke="#000" stroke-linecap="round">
<path d="M315.0,98.3C315.8,101.1 317.4,109.4 319.9,114.9C322.4,120.5 328.3,128.8 329.9,131.6" stroke-width="14" opacity="0.38"/>
<path d="M373.2,58.3C373.8,61.1 376.6,69.4 376.6,75.0C376.6,80.5 373.8,88.8 373.2,91.6" stroke-width="14" opacity="0.4"/>
<path d="M506.7,124.9C508.0,127.7 511.4,136.6 515.0,141.6C518.6,146.6 526.1,152.7 528.3,154.9" stroke-width="16" opacity="0.42"/>
<path d="M490.0,95.0C491.7,97.7 497.2,106.6 500.0,111.6C502.8,116.6 505.5,122.7 506.7,124.9" stroke-width="14" opacity="0.4"/>
<path d="M285.0,271.3C288.6,272.9 298.6,279.0 306.6,281.3C314.7,283.5 328.8,284.0 333.3,284.6" stroke-width="20" opacity="0.3"/>
<path d="M525.8,234.6C528.2,232.3 534.6,223.9 540.0,220.5C545.4,217.0 552.2,213.4 558.3,213.8C564.4,214.2 573.6,221.4 576.6,223.0" stroke-width="22" opacity="0.33"/>
<path d="M619.9,375.0C621.3,377.2 624.9,385.0 628.2,388.3C631.6,391.6 638.0,393.8 639.9,395.0" stroke-width="16" opacity="0.38"/>
</g>
<g filter="url(#b4)" fill="none" stroke="#000" stroke-linecap="round">
<path d="M280.0,93.6C281.6,93.3 286.1,91.8 290.0,92.0C293.9,92.1 299.8,94.5 303.3,94.3C306.8,94.1 310.1,93.0 310.8,90.8C311.5,88.5 308.0,82.5 307.5,80.8" stroke-width="10.0" opacity="0.22"/>
<path d="M399.9,45.0C401.0,45.5 404.3,46.4 406.6,48.3C408.8,50.3 412.0,54.0 413.2,56.6C414.5,59.3 415.4,61.6 414.1,64.1C412.7,66.6 406.8,68.4 404.9,71.6C402.9,74.8 402.5,78.9 402.4,83.3C402.3,87.7 404.5,94.1 404.1,98.3C403.6,102.4 402.3,105.6 399.9,108.3C397.5,110.9 393.5,113.6 389.9,114.1C386.3,114.7 381.3,113.7 378.2,111.6C375.2,109.5 372.7,103.3 371.6,101.6" stroke-width="10.0" opacity="0.22"/>
<path d="M333.3,98.3C335.5,97.7 342.2,95.0 346.6,95.0C351.0,95.0 355.8,97.1 359.9,98.3C364.1,99.5 369.6,101.3 371.6,101.9" stroke-width="10.0" opacity="0.22"/>
<path d="M333.3,98.3C332.7,100.5 329.9,107.2 329.9,111.6C329.9,116.1 333.8,119.9 333.3,124.9C332.7,129.9 328.6,136.0 326.6,141.6C324.7,147.1 322.4,152.2 321.6,158.2C320.8,164.3 321.6,174.8 321.6,178.1" stroke-width="13.0" opacity="0.29"/>
<path d="M362.4,72.5C361.4,73.7 359.2,77.6 356.6,80.0C354.0,82.3 349.6,84.4 346.6,86.6C343.5,88.8 340.8,90.5 338.3,93.3C335.8,96.1 333.1,99.7 331.6,103.3C330.1,106.9 329.5,113.0 329.1,114.9" stroke-width="8.0" opacity="0.18"/>
<path d="M414.1,65.0C415.6,65.3 418.9,67.1 423.2,66.6C427.5,66.2 434.9,64.7 439.9,62.5C444.9,60.3 450.4,56.1 453.2,53.3C456.0,50.5 456.0,47.1 456.5,45.8" stroke-width="5.0" opacity="0.11"/>
<path d="M257.5,139.9C259.0,140.8 263.9,142.5 266.6,145.3C269.4,148.0 272.3,152.7 274.1,156.6C276.0,160.4 277.3,166.3 278.0,168.2" stroke-width="6.0" opacity="0.13"/>
<path d="M533.3,34.2C534.7,35.7 539.4,39.6 541.6,43.3C543.9,47.1 546.1,52.5 546.6,56.6C547.2,60.8 546.4,65.3 545.0,68.3C543.6,71.4 540.1,72.5 538.3,75.0C536.5,77.5 534.8,80.2 534.1,83.3C533.4,86.3 533.4,90.7 534.1,93.3C534.8,95.9 537.6,98.1 538.3,99.1" stroke-width="10.0" opacity="0.22"/>
<path d="M533.3,111.6C535.5,111.6 541.9,109.9 546.6,111.6C551.3,113.3 558.0,117.2 561.6,121.6C565.2,126.0 568.0,133.0 568.3,138.3C568.6,143.5 566.1,149.5 563.3,153.2C560.5,157.0 555.8,159.8 551.6,160.7C547.5,161.7 542.5,160.0 538.3,159.1C534.1,158.1 528.6,155.6 526.6,154.9" stroke-width="12.0" opacity="0.26"/>
<path d="M583.3,74.1C584.9,74.3 589.4,73.2 593.3,75.0C597.2,76.8 602.7,81.6 606.6,85.0C610.5,88.3 613.8,92.5 616.6,95.0C619.4,97.5 621.3,96.6 623.2,100.0C625.2,103.3 626.3,110.8 628.2,114.9C630.2,119.1 631.8,123.0 634.9,124.9C638.0,126.9 643.0,124.9 646.6,126.6C650.2,128.3 654.2,131.9 656.6,134.9C658.9,138.0 660.4,141.6 660.7,144.9C661.0,148.3 659.5,151.9 658.2,154.9C657.0,158.0 654.5,159.4 653.2,163.2C652.0,167.1 651.1,175.6 650.7,178.1" stroke-width="10.0" opacity="0.22"/>
<path d="M598.3,75.0C599.4,76.6 601.6,81.6 604.9,85.0C608.3,88.3 614.6,94.3 618.2,95.0C621.9,95.6 623.2,89.8 626.6,89.1C629.9,88.4 635.2,89.3 638.2,90.8C641.3,92.3 643.8,97.0 644.9,98.3" stroke-width="7.0" opacity="0.15"/>
<path d="M623.2,100.0C624.6,100.8 629.4,102.4 631.6,104.9C633.8,107.4 636.0,111.6 636.6,114.9C637.1,118.3 635.2,123.3 634.9,124.9" stroke-width="6.0" opacity="0.13"/>
<path d="M644.9,98.3C646.3,99.1 650.2,101.6 653.2,103.3C656.3,104.9 660.7,105.8 663.2,108.3C665.7,110.8 667.2,115.5 668.2,118.3C669.2,121.0 668.9,123.8 669.0,124.9" stroke-width="6.0" opacity="0.13"/>
<path d="M659.9,131.6C660.7,133.3 664.3,138.0 664.9,141.6C665.4,145.2 662.1,151.0 663.2,153.2C664.3,155.5 670.2,154.6 671.5,154.9" stroke-width="5.0" opacity="0.11"/>
<path d="M296.6,178.0C297.0,179.5 300.2,183.0 299.1,187.2C298.0,191.3 293.6,198.8 290.0,203.0C286.4,207.1 280.7,208.4 277.5,212.1C274.3,215.9 271.9,223.2 270.8,225.5" stroke-width="10.0" opacity="0.22"/>
<path d="M283.3,261.3C285.5,261.6 292.2,262.6 296.6,263.3C301.1,264.0 306.1,265.2 310.0,265.4C313.8,265.7 318.3,264.7 319.9,264.6" stroke-width="9.0" opacity="0.20"/>
<path d="M313.3,264.6C315.0,263.2 319.9,259.1 323.3,256.3C326.6,253.5 329.9,250.3 333.3,248.0C336.6,245.6 339.7,243.2 343.3,242.1C346.9,241.0 351.7,240.2 354.9,241.3C358.1,242.4 360.6,245.2 362.4,248.8C364.2,252.4 365.2,260.6 365.7,262.9" stroke-width="9.0" opacity="0.20"/>
<path d="M321.6,178.0C322.4,179.4 324.7,183.6 326.6,186.3C328.6,189.1 330.5,191.0 333.3,194.7C336.0,198.3 339.4,204.1 343.3,208.0C347.2,211.9 352.7,215.2 356.6,218.0C360.5,220.7 363.8,221.9 366.6,224.6C369.4,227.4 371.3,230.7 373.2,234.6C375.2,238.5 375.5,244.3 378.2,248.0C381.0,251.6 386.3,255.2 389.9,256.3C393.5,257.4 397.1,256.6 399.9,254.6C402.7,252.7 405.2,248.0 406.6,244.6C407.9,241.3 406.6,237.1 408.2,234.6C409.9,232.1 414.1,229.1 416.5,229.6C419.0,230.2 420.7,235.5 423.2,238.0C425.7,240.5 430.2,243.5 431.5,244.6" stroke-width="12.0" opacity="0.26"/>
<path d="M419.0,178.0C418.6,180.8 416.4,189.1 416.5,194.7C416.7,200.2 419.5,206.3 419.9,211.3C420.3,216.3 418.5,220.5 419.0,224.6C419.6,228.8 422.5,234.4 423.2,236.3" stroke-width="9.0" opacity="0.20"/>
<path d="M439.9,244.6C441.5,246.6 447.9,251.8 449.9,256.3C451.8,260.7 452.6,266.8 451.5,271.3C450.4,275.7 446.5,279.9 443.2,282.9C439.9,286.0 434.9,287.6 431.5,289.6C428.2,291.5 425.0,292.1 423.2,294.6C421.4,297.1 420.7,300.4 420.7,304.6C420.7,308.7 422.0,315.2 423.2,319.6C424.5,324.0 427.4,329.1 428.2,331.1" stroke-width="10.0" opacity="0.22"/>
<path d="M333.3,294.6C333.8,292.9 334.4,287.4 336.6,284.6C338.8,281.8 341.6,279.3 346.6,277.9C351.6,276.5 360.8,275.7 366.6,276.3C372.4,276.8 378.0,278.8 381.6,281.3C385.2,283.8 387.4,287.4 388.2,291.3C389.1,295.1 388.2,300.7 386.6,304.6C384.9,308.5 381.0,312.1 378.2,314.6C375.5,317.1 371.3,318.7 369.9,319.6" stroke-width="10.0" opacity="0.22"/>
<path d="M328.3,331.1C328.8,329.4 329.7,323.8 331.6,321.2C333.5,318.6 337.2,316.2 339.9,315.4C342.7,314.6 346.9,316.1 348.3,316.2" stroke-width="7.0" opacity="0.15"/>
<path d="M341.6,331.1C342.4,329.7 344.1,324.8 346.6,322.9C349.1,321.0 353.0,319.6 356.6,319.6C360.2,319.6 365.5,321.0 368.2,322.9C371.0,324.8 372.4,329.7 373.2,331.1" stroke-width="9.0" opacity="0.20"/>
<path d="M490.0,231.3C492.2,232.1 499.4,234.1 503.3,236.3C507.2,238.5 511.1,241.8 513.3,244.6C515.5,247.4 516.4,250.2 516.6,253.0C516.9,255.7 516.6,258.8 515.0,261.3C513.3,263.8 510.0,266.3 506.7,267.9C503.3,269.6 497.8,269.9 495.0,271.3C492.2,272.7 490.8,275.4 490.0,276.3" stroke-width="9.0" opacity="0.20"/>
<path d="M515.0,261.3C515.7,259.8 518.3,254.7 519.3,252.5C520.3,250.2 520.1,251.5 520.8,248.0C521.5,244.4 521.8,236.0 523.3,231.3C524.8,226.6 526.6,223.0 530.0,219.6C533.3,216.3 538.9,213.7 543.3,211.3C547.7,209.0 553.0,206.0 556.6,205.5C560.2,204.9 562.2,206.2 565.0,208.0C567.7,209.8 570.2,214.1 573.3,216.3C576.3,218.5 580.5,219.1 583.3,221.3C586.0,223.5 589.9,226.3 589.9,229.6C589.9,233.0 584.8,237.4 583.3,241.3C581.7,245.2 581.1,248.2 580.8,253.0C580.5,257.7 580.6,264.3 581.6,269.6C582.6,274.9 585.2,279.3 586.6,284.6C588.0,289.9 589.9,296.0 589.9,301.3C589.9,306.5 587.7,311.3 586.6,316.2C585.5,321.2 583.8,328.6 583.3,331.1" stroke-width="13.0" opacity="0.29"/>
<path d="M589.9,229.6C591.3,228.5 594.9,224.6 598.3,223.0C601.6,221.3 605.2,220.2 609.9,219.6C614.6,219.1 621.6,218.3 626.6,219.6C631.6,221.0 636.4,224.4 639.9,228.0C643.4,231.6 646.3,237.1 647.4,241.3C648.5,245.5 647.5,249.3 646.6,253.0C645.6,256.6 642.5,259.9 641.6,262.9C640.6,266.0 639.9,268.4 640.7,271.3C641.6,274.2 644.2,277.7 646.6,280.4C648.9,283.2 653.5,286.7 654.9,287.9" stroke-width="10.0" opacity="0.22"/>
<path d="M583.3,178.0C582.9,180.2 580.8,187.4 580.8,191.3C580.8,195.2 581.7,198.0 583.3,201.3C584.8,204.6 587.7,208.1 589.9,211.3C592.2,214.5 595.5,218.9 596.6,220.5" stroke-width="8.0" opacity="0.18"/>
<path d="M651.6,178.0C651.0,179.4 650.7,183.6 648.2,186.3C645.7,189.1 639.1,191.3 636.6,194.7C634.1,198.0 633.2,202.7 633.2,206.3C633.2,209.9 635.3,213.0 636.6,216.3C637.8,219.6 640.0,224.6 640.7,226.3" stroke-width="10.0" opacity="0.22"/>
<path d="M708.2,178.0C707.6,179.1 707.4,182.2 704.9,184.7C702.4,187.2 695.3,190.5 693.2,193.0C691.1,195.5 691.5,197.2 692.4,199.7C693.2,202.2 696.9,204.4 698.2,208.0C699.4,211.6 700.1,217.1 699.9,221.3C699.6,225.5 698.2,229.1 696.5,233.0C694.9,236.8 691.8,241.3 689.9,244.6C687.9,248.0 685.8,249.6 684.9,253.0C683.9,256.3 684.3,260.4 684.0,264.6C683.8,268.8 682.5,274.3 683.2,277.9C683.9,281.5 686.5,283.5 688.2,286.3C689.9,289.0 692.1,291.0 693.2,294.6C694.3,298.2 693.2,304.6 694.9,307.9C696.5,311.2 700.1,312.4 703.2,314.6C706.2,316.8 711.5,320.1 713.2,321.2" stroke-width="10.0" opacity="0.22"/>
<path d="M669.9,239.6C671.3,240.5 675.8,242.4 678.2,244.6C680.6,246.8 683.1,251.6 684.0,253.0" stroke-width="7.0" opacity="0.15"/>
<path d="M488.3,277.8C488.0,279.7 486.8,284.4 486.6,289.1C486.3,293.9 485.2,302.3 486.9,306.1C488.6,309.9 493.2,310.6 496.8,312.0C500.3,313.5 505.0,313.0 508.1,314.9C511.1,316.7 513.2,319.8 515.1,323.1C517.0,326.3 518.7,332.5 519.4,334.4" stroke-width="9.0" opacity="0.20"/>
<path d="M376.6,335.0C377.0,338.3 379.9,349.7 379.1,355.0C378.2,360.3 374.8,363.7 371.6,366.6C368.4,369.6 364.1,372.2 359.9,372.5C355.8,372.7 350.6,370.7 346.6,368.3C342.6,365.9 338.0,361.9 335.8,358.3C333.5,354.7 332.6,351.1 333.3,346.7C334.0,342.2 337.2,335.3 339.9,331.7C342.7,328.1 348.3,326.1 349.9,325.0" stroke-width="10.0" opacity="0.22"/>
<path d="M333.3,366.6C334.9,368.3 339.7,373.6 343.3,376.6C346.9,379.7 352.1,381.4 354.9,385.0C357.7,388.6 357.7,394.4 359.9,398.3C362.1,402.2 365.2,405.9 368.2,408.3C371.3,410.6 374.6,412.4 378.2,412.4C381.8,412.4 386.3,409.2 389.9,408.3C393.5,407.3 396.0,406.1 399.9,406.6C403.8,407.2 408.8,409.9 413.2,411.6C417.7,413.3 422.4,416.3 426.5,416.6C430.7,416.9 435.1,415.2 438.2,413.3C441.3,411.3 442.4,405.2 444.9,404.9C447.4,404.7 450.1,409.1 453.2,411.6C456.2,414.1 459.9,418.8 463.2,419.9C466.5,421.0 470.7,420.2 473.2,418.3C475.7,416.3 477.3,412.7 478.2,408.3C479.0,403.8 477.9,397.2 478.2,391.6C478.5,386.1 477.9,379.7 479.8,375.0C481.8,370.2 488.3,365.3 490.0,363.3" stroke-width="13.0" opacity="0.29"/>
<path d="M339.9,424.9C342.7,424.9 351.6,425.8 356.6,424.9C361.6,424.1 365.7,420.2 369.9,419.9C374.1,419.7 377.4,421.9 381.6,423.3C385.7,424.7 390.7,427.7 394.9,428.3C399.1,428.8 403.2,426.0 406.6,426.6C409.9,427.2 411.8,430.5 414.9,431.6C417.9,432.7 421.5,433.8 424.9,433.3C428.2,432.7 431.8,430.5 434.9,428.3C437.9,426.0 441.4,423.3 443.2,419.9C445.0,416.6 445.3,410.2 445.7,408.3" stroke-width="12.0" opacity="0.26"/>
<path d="M359.9,431.6C362.1,432.7 368.8,437.4 373.2,438.3C377.7,439.1 382.4,437.1 386.6,436.6C390.7,436.0 394.6,434.1 398.2,434.9C401.8,435.8 406.0,439.9 408.2,441.6C410.4,443.3 411.0,444.4 411.6,444.9" stroke-width="12.0" opacity="0.26"/>
<path d="M516.6,325.0C517.5,326.7 518.9,331.7 521.6,335.0C524.4,338.3 529.4,342.8 533.3,345.0C537.2,347.2 541.6,348.6 545.0,348.3C548.3,348.0 550.8,345.5 553.3,343.3C555.8,341.1 557.2,337.2 560.0,335.0C562.7,332.8 566.6,331.7 569.9,330.0C573.3,328.3 578.3,325.8 579.9,325.0" stroke-width="11.0" opacity="0.24"/>
<path d="M579.9,331.7C579.9,333.3 579.1,338.0 579.9,341.7C580.8,345.3 582.2,350.3 584.9,353.3C587.7,356.4 592.4,358.0 596.6,360.0C600.8,361.9 606.3,362.5 609.9,365.0C613.5,367.5 616.3,371.6 618.2,375.0C620.2,378.3 619.4,381.9 621.6,385.0C623.8,388.0 627.4,391.3 631.6,393.3C635.7,395.2 644.1,396.1 646.6,396.6" stroke-width="11.0" opacity="0.24"/>
<path d="M628.2,358.3C629.6,356.6 633.2,350.3 636.6,348.3C639.9,346.4 644.6,345.8 648.2,346.7C651.8,347.5 655.2,350.5 658.2,353.3C661.3,356.1 663.5,360.0 666.5,363.3C669.6,366.6 674.6,370.0 676.5,373.3C678.5,376.6 679.0,380.0 678.2,383.3C677.4,386.6 674.6,390.8 671.5,393.3C668.5,395.8 664.1,397.7 659.9,398.3C655.7,398.8 648.8,396.9 646.6,396.6" stroke-width="11.0" opacity="0.24"/>
<path d="M669.9,360.0C671.3,359.1 674.9,356.4 678.2,355.0C681.5,353.6 687.9,352.2 689.9,351.6" stroke-width="6.0" opacity="0.13"/>
<path d="M646.6,398.3C646.8,400.5 647.7,407.2 648.2,411.6C648.8,416.1 648.5,420.5 649.9,424.9C651.3,429.4 653.8,434.4 656.6,438.3C659.3,442.1 664.9,446.6 666.5,448.3" stroke-width="10.0" opacity="0.22"/>
<path d="M683.2,402.4C681.5,402.6 677.1,403.7 673.2,403.3C669.3,402.9 662.1,400.5 659.9,400.0" stroke-width="7.0" opacity="0.15"/>
<path d="M546.6,411.6C547.7,409.7 550.8,403.0 553.3,400.0C555.8,396.9 558.6,394.4 561.6,393.3C564.7,392.2 569.0,392.2 571.6,393.3C574.2,394.4 576.6,397.5 577.4,400.0C578.3,402.4 577.3,405.2 576.6,408.3C575.9,411.3 573.6,414.9 573.3,418.3C573.0,421.6 573.3,424.7 574.9,428.3C576.6,431.9 579.7,436.6 583.3,439.9C586.9,443.3 592.2,446.9 596.6,448.3C601.0,449.6 605.5,448.9 609.9,448.3C614.4,447.6 618.8,445.5 623.2,444.1C627.7,442.7 633.0,442.0 636.6,439.9C640.2,437.8 643.0,435.2 644.9,431.6C646.8,428.0 647.7,420.5 648.2,418.3" stroke-width="11.0" opacity="0.24"/>
<path d="M543.3,448.3L545.8,439.9" stroke-width="6.0" opacity="0.13"/>
<path d="M601.6,451.6L596.6,449.1" stroke-width="6.0" opacity="0.13"/>
</g>
<g filter="url(#b2)" fill="none" stroke="#000" stroke-linecap="round">
<path d="M280.0,93.6C281.6,93.3 286.1,91.8 290.0,92.0C293.9,92.1 299.8,94.5 303.3,94.3C306.8,94.1 310.1,93.0 310.8,90.8C311.5,88.5 308.0,82.5 307.5,80.8" stroke-width="4.0" opacity="0.32"/>
<path d="M399.9,45.0C401.0,45.5 404.3,46.4 406.6,48.3C408.8,50.3 412.0,54.0 413.2,56.6C414.5,59.3 415.4,61.6 414.1,64.1C412.7,66.6 406.8,68.4 404.9,71.6C402.9,74.8 402.5,78.9 402.4,83.3C402.3,87.7 404.5,94.1 404.1,98.3C403.6,102.4 402.3,105.6 399.9,108.3C397.5,110.9 393.5,113.6 389.9,114.1C386.3,114.7 381.3,113.7 378.2,111.6C375.2,109.5 372.7,103.3 371.6,101.6" stroke-width="4.0" opacity="0.32"/>
<path d="M333.3,98.3C335.5,97.7 342.2,95.0 346.6,95.0C351.0,95.0 355.8,97.1 359.9,98.3C364.1,99.5 369.6,101.3 371.6,101.9" stroke-width="4.0" opacity="0.32"/>
<path d="M333.3,98.3C332.7,100.5 329.9,107.2 329.9,111.6C329.9,116.1 333.8,119.9 333.3,124.9C332.7,129.9 328.6,136.0 326.6,141.6C324.7,147.1 322.4,152.2 321.6,158.2C320.8,164.3 321.6,174.8 321.6,178.1" stroke-width="5.2" opacity="0.42"/>
<path d="M362.4,72.5C361.4,73.7 359.2,77.6 356.6,80.0C354.0,82.3 349.6,84.4 346.6,86.6C343.5,88.8 340.8,90.5 338.3,93.3C335.8,96.1 333.1,99.7 331.6,103.3C330.1,106.9 329.5,113.0 329.1,114.9" stroke-width="3.2" opacity="0.26"/>
<path d="M414.1,65.0C415.6,65.3 418.9,67.1 423.2,66.6C427.5,66.2 434.9,64.7 439.9,62.5C444.9,60.3 450.4,56.1 453.2,53.3C456.0,50.5 456.0,47.1 456.5,45.8" stroke-width="2.0" opacity="0.16"/>
<path d="M257.5,139.9C259.0,140.8 263.9,142.5 266.6,145.3C269.4,148.0 272.3,152.7 274.1,156.6C276.0,160.4 277.3,166.3 278.0,168.2" stroke-width="2.4" opacity="0.19"/>
<path d="M533.3,34.2C534.7,35.7 539.4,39.6 541.6,43.3C543.9,47.1 546.1,52.5 546.6,56.6C547.2,60.8 546.4,65.3 545.0,68.3C543.6,71.4 540.1,72.5 538.3,75.0C536.5,77.5 534.8,80.2 534.1,83.3C533.4,86.3 533.4,90.7 534.1,93.3C534.8,95.9 537.6,98.1 538.3,99.1" stroke-width="4.0" opacity="0.32"/>
<path d="M533.3,111.6C535.5,111.6 541.9,109.9 546.6,111.6C551.3,113.3 558.0,117.2 561.6,121.6C565.2,126.0 568.0,133.0 568.3,138.3C568.6,143.5 566.1,149.5 563.3,153.2C560.5,157.0 555.8,159.8 551.6,160.7C547.5,161.7 542.5,160.0 538.3,159.1C534.1,158.1 528.6,155.6 526.6,154.9" stroke-width="4.8" opacity="0.38"/>
<path d="M583.3,74.1C584.9,74.3 589.4,73.2 593.3,75.0C597.2,76.8 602.7,81.6 606.6,85.0C610.5,88.3 613.8,92.5 616.6,95.0C619.4,97.5 621.3,96.6 623.2,100.0C625.2,103.3 626.3,110.8 628.2,114.9C630.2,119.1 631.8,123.0 634.9,124.9C638.0,126.9 643.0,124.9 646.6,126.6C650.2,128.3 654.2,131.9 656.6,134.9C658.9,138.0 660.4,141.6 660.7,144.9C661.0,148.3 659.5,151.9 658.2,154.9C657.0,158.0 654.5,159.4 653.2,163.2C652.0,167.1 651.1,175.6 650.7,178.1" stroke-width="4.0" opacity="0.32"/>
<path d="M598.3,75.0C599.4,76.6 601.6,81.6 604.9,85.0C608.3,88.3 614.6,94.3 618.2,95.0C621.9,95.6 623.2,89.8 626.6,89.1C629.9,88.4 635.2,89.3 638.2,90.8C641.3,92.3 643.8,97.0 644.9,98.3" stroke-width="2.8" opacity="0.22"/>
<path d="M623.2,100.0C624.6,100.8 629.4,102.4 631.6,104.9C633.8,107.4 636.0,111.6 636.6,114.9C637.1,118.3 635.2,123.3 634.9,124.9" stroke-width="2.4" opacity="0.19"/>
<path d="M644.9,98.3C646.3,99.1 650.2,101.6 653.2,103.3C656.3,104.9 660.7,105.8 663.2,108.3C665.7,110.8 667.2,115.5 668.2,118.3C669.2,121.0 668.9,123.8 669.0,124.9" stroke-width="2.4" opacity="0.19"/>
<path d="M659.9,131.6C660.7,133.3 664.3,138.0 664.9,141.6C665.4,145.2 662.1,151.0 663.2,153.2C664.3,155.5 670.2,154.6 671.5,154.9" stroke-width="2.0" opacity="0.16"/>
<path d="M296.6,178.0C297.0,179.5 300.2,183.0 299.1,187.2C298.0,191.3 293.6,198.8 290.0,203.0C286.4,207.1 280.7,208.4 277.5,212.1C274.3,215.9 271.9,223.2 270.8,225.5" stroke-width="4.0" opacity="0.32"/>
<path d="M283.3,261.3C285.5,261.6 292.2,262.6 296.6,263.3C301.1,264.0 306.1,265.2 310.0,265.4C313.8,265.7 318.3,264.7 319.9,264.6" stroke-width="3.6" opacity="0.29"/>
<path d="M313.3,264.6C315.0,263.2 319.9,259.1 323.3,256.3C326.6,253.5 329.9,250.3 333.3,248.0C336.6,245.6 339.7,243.2 343.3,242.1C346.9,241.0 351.7,240.2 354.9,241.3C358.1,242.4 360.6,245.2 362.4,248.8C364.2,252.4 365.2,260.6 365.7,262.9" stroke-width="3.6" opacity="0.29"/>
<path d="M321.6,178.0C322.4,179.4 324.7,183.6 326.6,186.3C328.6,189.1 330.5,191.0 333.3,194.7C336.0,198.3 339.4,204.1 343.3,208.0C347.2,211.9 352.7,215.2 356.6,218.0C360.5,220.7 363.8,221.9 366.6,224.6C369.4,227.4 371.3,230.7 373.2,234.6C375.2,238.5 375.5,244.3 378.2,248.0C381.0,251.6 386.3,255.2 389.9,256.3C393.5,257.4 397.1,256.6 399.9,254.6C402.7,252.7 405.2,248.0 406.6,244.6C407.9,241.3 406.6,237.1 408.2,234.6C409.9,232.1 414.1,229.1 416.5,229.6C419.0,230.2 420.7,235.5 423.2,238.0C425.7,240.5 430.2,243.5 431.5,244.6" stroke-width="4.8" opacity="0.38"/>
<path d="M419.0,178.0C418.6,180.8 416.4,189.1 416.5,194.7C416.7,200.2 419.5,206.3 419.9,211.3C420.3,216.3 418.5,220.5 419.0,224.6C419.6,228.8 422.5,234.4 423.2,236.3" stroke-width="3.6" opacity="0.29"/>
<path d="M439.9,244.6C441.5,246.6 447.9,251.8 449.9,256.3C451.8,260.7 452.6,266.8 451.5,271.3C450.4,275.7 446.5,279.9 443.2,282.9C439.9,286.0 434.9,287.6 431.5,289.6C428.2,291.5 425.0,292.1 423.2,294.6C421.4,297.1 420.7,300.4 420.7,304.6C420.7,308.7 422.0,315.2 423.2,319.6C424.5,324.0 427.4,329.1 428.2,331.1" stroke-width="4.0" opacity="0.32"/>
<path d="M333.3,294.6C333.8,292.9 334.4,287.4 336.6,284.6C338.8,281.8 341.6,279.3 346.6,277.9C351.6,276.5 360.8,275.7 366.6,276.3C372.4,276.8 378.0,278.8 381.6,281.3C385.2,283.8 387.4,287.4 388.2,291.3C389.1,295.1 388.2,300.7 386.6,304.6C384.9,308.5 381.0,312.1 378.2,314.6C375.5,317.1 371.3,318.7 369.9,319.6" stroke-width="4.0" opacity="0.32"/>
<path d="M328.3,331.1C328.8,329.4 329.7,323.8 331.6,321.2C333.5,318.6 337.2,316.2 339.9,315.4C342.7,314.6 346.9,316.1 348.3,316.2" stroke-width="2.8" opacity="0.22"/>
<path d="M341.6,331.1C342.4,329.7 344.1,324.8 346.6,322.9C349.1,321.0 353.0,319.6 356.6,319.6C360.2,319.6 365.5,321.0 368.2,322.9C371.0,324.8 372.4,329.7 373.2,331.1" stroke-width="3.6" opacity="0.29"/>
<path d="M490.0,231.3C492.2,232.1 499.4,234.1 503.3,236.3C507.2,238.5 511.1,241.8 513.3,244.6C515.5,247.4 516.4,250.2 516.6,253.0C516.9,255.7 516.6,258.8 515.0,261.3C513.3,263.8 510.0,266.3 506.7,267.9C503.3,269.6 497.8,269.9 495.0,271.3C492.2,272.7 490.8,275.4 490.0,276.3" stroke-width="3.6" opacity="0.29"/>
<path d="M515.0,261.3C515.7,259.8 518.3,254.7 519.3,252.5C520.3,250.2 520.1,251.5 520.8,248.0C521.5,244.4 521.8,236.0 523.3,231.3C524.8,226.6 526.6,223.0 530.0,219.6C533.3,216.3 538.9,213.7 543.3,211.3C547.7,209.0 553.0,206.0 556.6,205.5C560.2,204.9 562.2,206.2 565.0,208.0C567.7,209.8 570.2,214.1 573.3,216.3C576.3,218.5 580.5,219.1 583.3,221.3C586.0,223.5 589.9,226.3 589.9,229.6C589.9,233.0 584.8,237.4 583.3,241.3C581.7,245.2 581.1,248.2 580.8,253.0C580.5,257.7 580.6,264.3 581.6,269.6C582.6,274.9 585.2,279.3 586.6,284.6C588.0,289.9 589.9,296.0 589.9,301.3C589.9,306.5 587.7,311.3 586.6,316.2C585.5,321.2 583.8,328.6 583.3,331.1" stroke-width="5.2" opacity="0.42"/>
<path d="M589.9,229.6C591.3,228.5 594.9,224.6 598.3,223.0C601.6,221.3 605.2,220.2 609.9,219.6C614.6,219.1 621.6,218.3 626.6,219.6C631.6,221.0 636.4,224.4 639.9,228.0C643.4,231.6 646.3,237.1 647.4,241.3C648.5,245.5 647.5,249.3 646.6,253.0C645.6,256.6 642.5,259.9 641.6,262.9C640.6,266.0 639.9,268.4 640.7,271.3C641.6,274.2 644.2,277.7 646.6,280.4C648.9,283.2 653.5,286.7 654.9,287.9" stroke-width="4.0" opacity="0.32"/>
<path d="M583.3,178.0C582.9,180.2 580.8,187.4 580.8,191.3C580.8,195.2 581.7,198.0 583.3,201.3C584.8,204.6 587.7,208.1 589.9,211.3C592.2,214.5 595.5,218.9 596.6,220.5" stroke-width="3.2" opacity="0.26"/>
<path d="M651.6,178.0C651.0,179.4 650.7,183.6 648.2,186.3C645.7,189.1 639.1,191.3 636.6,194.7C634.1,198.0 633.2,202.7 633.2,206.3C633.2,209.9 635.3,213.0 636.6,216.3C637.8,219.6 640.0,224.6 640.7,226.3" stroke-width="4.0" opacity="0.32"/>
<path d="M708.2,178.0C707.6,179.1 707.4,182.2 704.9,184.7C702.4,187.2 695.3,190.5 693.2,193.0C691.1,195.5 691.5,197.2 692.4,199.7C693.2,202.2 696.9,204.4 698.2,208.0C699.4,211.6 700.1,217.1 699.9,221.3C699.6,225.5 698.2,229.1 696.5,233.0C694.9,236.8 691.8,241.3 689.9,244.6C687.9,248.0 685.8,249.6 684.9,253.0C683.9,256.3 684.3,260.4 684.0,264.6C683.8,268.8 682.5,274.3 683.2,277.9C683.9,281.5 686.5,283.5 688.2,286.3C689.9,289.0 692.1,291.0 693.2,294.6C694.3,298.2 693.2,304.6 694.9,307.9C696.5,311.2 700.1,312.4 703.2,314.6C706.2,316.8 711.5,320.1 713.2,321.2" stroke-width="4.0" opacity="0.32"/>
<path d="M669.9,239.6C671.3,240.5 675.8,242.4 678.2,244.6C680.6,246.8 683.1,251.6 684.0,253.0" stroke-width="2.8" opacity="0.22"/>
<path d="M488.3,277.8C488.0,279.7 486.8,284.4 486.6,289.1C486.3,293.9 485.2,302.3 486.9,306.1C488.6,309.9 493.2,310.6 496.8,312.0C500.3,313.5 505.0,313.0 508.1,314.9C511.1,316.7 513.2,319.8 515.1,323.1C517.0,326.3 518.7,332.5 519.4,334.4" stroke-width="3.6" opacity="0.29"/>
<path d="M376.6,335.0C377.0,338.3 379.9,349.7 379.1,355.0C378.2,360.3 374.8,363.7 371.6,366.6C368.4,369.6 364.1,372.2 359.9,372.5C355.8,372.7 350.6,370.7 346.6,368.3C342.6,365.9 338.0,361.9 335.8,358.3C333.5,354.7 332.6,351.1 333.3,346.7C334.0,342.2 337.2,335.3 339.9,331.7C342.7,328.1 348.3,326.1 349.9,325.0" stroke-width="4.0" opacity="0.32"/>
<path d="M333.3,366.6C334.9,368.3 339.7,373.6 343.3,376.6C346.9,379.7 352.1,381.4 354.9,385.0C357.7,388.6 357.7,394.4 359.9,398.3C362.1,402.2 365.2,405.9 368.2,408.3C371.3,410.6 374.6,412.4 378.2,412.4C381.8,412.4 386.3,409.2 389.9,408.3C393.5,407.3 396.0,406.1 399.9,406.6C403.8,407.2 408.8,409.9 413.2,411.6C417.7,413.3 422.4,416.3 426.5,416.6C430.7,416.9 435.1,415.2 438.2,413.3C441.3,411.3 442.4,405.2 444.9,404.9C447.4,404.7 450.1,409.1 453.2,411.6C456.2,414.1 459.9,418.8 463.2,419.9C466.5,421.0 470.7,420.2 473.2,418.3C475.7,416.3 477.3,412.7 478.2,408.3C479.0,403.8 477.9,397.2 478.2,391.6C478.5,386.1 477.9,379.7 479.8,375.0C481.8,370.2 488.3,365.3 490.0,363.3" stroke-width="5.2" opacity="0.42"/>
<path d="M339.9,424.9C342.7,424.9 351.6,425.8 356.6,424.9C361.6,424.1 365.7,420.2 369.9,419.9C374.1,419.7 377.4,421.9 381.6,423.3C385.7,424.7 390.7,427.7 394.9,428.3C399.1,428.8 403.2,426.0 406.6,426.6C409.9,427.2 411.8,430.5 414.9,431.6C417.9,432.7 421.5,433.8 424.9,433.3C428.2,432.7 431.8,430.5 434.9,428.3C437.9,426.0 441.4,423.3 443.2,419.9C445.0,416.6 445.3,410.2 445.7,408.3" stroke-width="4.8" opacity="0.38"/>
<path d="M359.9,431.6C362.1,432.7 368.8,437.4 373.2,438.3C377.7,439.1 382.4,437.1 386.6,436.6C390.7,436.0 394.6,434.1 398.2,434.9C401.8,435.8 406.0,439.9 408.2,441.6C410.4,443.3 411.0,444.4 411.6,444.9" stroke-width="4.8" opacity="0.38"/>
<path d="M516.6,325.0C517.5,326.7 518.9,331.7 521.6,335.0C524.4,338.3 529.4,342.8 533.3,345.0C537.2,347.2 541.6,348.6 545.0,348.3C548.3,348.0 550.8,345.5 553.3,343.3C555.8,341.1 557.2,337.2 560.0,335.0C562.7,332.8 566.6,331.7 569.9,330.0C573.3,328.3 578.3,325.8 579.9,325.0" stroke-width="4.4" opacity="0.35"/>
<path d="M579.9,331.7C579.9,333.3 579.1,338.0 579.9,341.7C580.8,345.3 582.2,350.3 584.9,353.3C587.7,356.4 592.4,358.0 596.6,360.0C600.8,361.9 606.3,362.5 609.9,365.0C613.5,367.5 616.3,371.6 618.2,375.0C620.2,378.3 619.4,381.9 621.6,385.0C623.8,388.0 627.4,391.3 631.6,393.3C635.7,395.2 644.1,396.1 646.6,396.6" stroke-width="4.4" opacity="0.35"/>
<path d="M628.2,358.3C629.6,356.6 633.2,350.3 636.6,348.3C639.9,346.4 644.6,345.8 648.2,346.7C651.8,347.5 655.2,350.5 658.2,353.3C661.3,356.1 663.5,360.0 666.5,363.3C669.6,366.6 674.6,370.0 676.5,373.3C678.5,376.6 679.0,380.0 678.2,383.3C677.4,386.6 674.6,390.8 671.5,393.3C668.5,395.8 664.1,397.7 659.9,398.3C655.7,398.8 648.8,396.9 646.6,396.6" stroke-width="4.4" opacity="0.35"/>
<path d="M669.9,360.0C671.3,359.1 674.9,356.4 678.2,355.0C681.5,353.6 687.9,352.2 689.9,351.6" stroke-width="2.4" opacity="0.19"/>
<path d="M646.6,398.3C646.8,400.5 647.7,407.2 648.2,411.6C648.8,416.1 648.5,420.5 649.9,424.9C651.3,429.4 653.8,434.4 656.6,438.3C659.3,442.1 664.9,446.6 666.5,448.3" stroke-width="4.0" opacity="0.32"/>
<path d="M683.2,402.4C681.5,402.6 677.1,403.7 673.2,403.3C669.3,402.9 662.1,400.5 659.9,400.0" stroke-width="2.8" opacity="0.22"/>
<path d="M546.6,411.6C547.7,409.7 550.8,403.0 553.3,400.0C555.8,396.9 558.6,394.4 561.6,393.3C564.7,392.2 569.0,392.2 571.6,393.3C574.2,394.4 576.6,397.5 577.4,400.0C578.3,402.4 577.3,405.2 576.6,408.3C575.9,411.3 573.6,414.9 573.3,418.3C573.0,421.6 573.3,424.7 574.9,428.3C576.6,431.9 579.7,436.6 583.3,439.9C586.9,443.3 592.2,446.9 596.6,448.3C601.0,449.6 605.5,448.9 609.9,448.3C614.4,447.6 618.8,445.5 623.2,444.1C627.7,442.7 633.0,442.0 636.6,439.9C640.2,437.8 643.0,435.2 644.9,431.6C646.8,428.0 647.7,420.5 648.2,418.3" stroke-width="4.4" opacity="0.35"/>
<path d="M543.3,448.3L545.8,439.9" stroke-width="2.4" opacity="0.19"/>
<path d="M601.6,451.6L596.6,449.1" stroke-width="2.4" opacity="0.19"/>
</g>
</g>
<g fill="none" stroke="#161616" stroke-width="1.3" stroke-linecap="round" stroke-linejoin="round" filter="url(#b1)">
<path d="M262.5,241.0C263.1,238.2 264.9,235.7 266.6,233.0C268.3,230.3 271.9,227.7 272.5,224.6C273.1,221.5 270.3,218.2 270.0,214.6C269.7,211.0 271.1,206.9 270.8,203.0C270.5,199.1 268.6,195.5 268.3,191.3C268.0,187.1 268.7,181.9 269.1,178.0C269.6,174.1 269.7,171.0 271.0,168.0C272.3,165.0 276.3,162.7 277.0,160.0C277.7,157.3 276.8,154.5 275.0,152.0C273.2,149.5 269.2,147.5 266.0,145.0C262.8,142.5 258.4,140.3 256.0,137.0C253.6,133.7 251.9,128.7 251.7,125.0C251.5,121.3 252.5,117.5 255.0,115.0C257.5,112.5 264.0,112.0 266.6,110.0C269.2,108.0 268.6,106.1 270.8,103.3C273.0,100.5 277.9,96.3 280.0,93.3C282.1,90.2 281.1,87.4 283.3,85.0C285.5,82.6 289.4,79.9 293.3,79.1C297.2,78.3 303.6,81.8 306.6,80.0C309.7,78.2 311.0,71.9 311.6,68.3C312.2,64.7 309.2,61.3 310.0,58.3C310.8,55.2 313.8,51.8 316.6,50.0C319.4,48.2 323.0,47.4 326.6,47.5C330.2,47.6 334.7,49.0 338.3,50.8C341.9,52.6 345.2,55.7 348.3,58.3C351.4,60.9 354.2,64.2 356.6,66.6C359.0,69.0 360.7,74.4 362.4,72.5C364.1,70.6 365.1,59.9 366.6,55.0C368.1,50.1 368.8,46.2 371.6,43.3C374.4,40.4 379.6,38.2 383.2,37.5C386.8,36.8 390.4,38.0 393.2,39.2C396.0,40.5 397.8,43.5 400.0,45.0C402.2,46.5 404.4,46.4 406.6,48.3C408.8,50.2 411.1,54.5 413.2,56.6C415.3,58.7 416.5,60.1 419.0,60.8C421.5,61.5 424.7,61.8 428.2,60.8C431.7,59.8 436.0,57.6 439.9,55.0C443.8,52.4 447.6,47.2 451.5,45.0C455.4,42.8 459.0,42.4 463.2,41.7C467.4,41.0 472.0,41.8 476.5,40.8C481.0,39.8 485.0,37.2 490.0,35.8C495.0,34.4 501.4,33.5 506.7,32.5C512.0,31.5 517.2,29.7 521.6,30.0C526.0,30.3 530.5,32.4 533.3,34.2C536.1,36.0 536.1,39.4 538.3,40.8C540.5,42.2 543.5,41.7 546.6,42.5C549.7,43.3 553.8,43.7 556.6,45.8C559.4,47.9 560.8,52.1 563.3,55.0C565.8,57.9 569.1,60.9 571.6,63.3C574.1,65.6 576.3,67.3 578.3,69.1C580.2,70.9 580.8,73.3 583.3,74.1C585.8,74.9 590.8,73.9 593.3,74.1C595.8,74.2 597.5,76.8 598.3,75.0C599.1,73.2 597.5,66.8 598.3,63.3C599.1,59.8 600.8,56.3 603.3,54.1C605.8,51.9 609.1,50.5 613.2,50.0C617.4,49.5 624.0,49.7 628.2,50.8C632.4,51.9 636.0,53.7 638.2,56.6C640.4,59.5 640.6,64.1 641.6,68.3C642.6,72.5 643.6,77.7 644.1,81.6C644.6,85.5 643.9,88.3 644.9,91.6C645.9,94.9 647.4,99.2 649.9,101.6C652.4,104.0 656.8,103.6 659.9,105.8C663.0,108.0 666.5,112.0 668.2,114.9C669.9,117.8 668.2,121.1 669.9,123.3C671.6,125.5 675.7,125.8 678.2,128.3C680.7,130.8 682.1,135.5 684.9,138.3C687.7,141.1 691.6,141.6 694.9,144.9C698.2,148.2 702.4,154.0 704.9,158.2C707.4,162.4 707.7,167.1 709.9,169.9C712.1,172.7 716.3,173.6 718.2,174.9C720.1,176.2 720.1,175.6 721.5,178.0C722.9,180.4 726.2,185.4 726.5,189.6C726.8,193.8 724.0,199.4 723.2,203.0C722.4,206.6 721.0,207.7 721.5,211.3C722.0,214.9 725.5,219.9 726.5,224.6C727.5,229.3 727.9,235.1 727.4,239.6C726.9,244.1 725.0,247.7 723.2,251.3C721.4,254.9 718.5,258.0 716.6,261.3C714.7,264.6 712.7,268.0 711.6,271.3C710.5,274.6 711.0,277.4 709.9,281.3C708.8,285.2 705.4,290.2 704.9,294.6C704.4,299.1 705.2,304.1 706.6,308.0C708.0,311.9 710.4,315.4 713.2,317.9C716.0,320.4 720.4,321.3 723.2,323.0C726.0,324.7 728.1,324.9 729.9,328.0C731.7,331.1 734.0,337.7 734.0,341.6C734.0,345.5 732.2,348.8 729.9,351.6C727.5,354.4 722.7,355.5 719.9,358.3C717.1,361.1 714.6,365.0 713.2,368.3C711.8,371.6 713.3,375.2 711.6,378.3C709.9,381.4 706.8,383.3 703.2,386.6C699.6,389.9 693.2,395.7 689.9,398.3C686.6,400.9 682.9,400.8 683.2,402.5C683.5,404.2 689.2,405.7 691.6,408.3C694.0,410.9 696.6,414.4 697.4,418.3C698.2,422.2 697.9,427.7 696.6,431.6C695.4,435.5 693.0,438.7 689.9,441.6C686.8,444.5 682.1,447.4 678.2,449.1C674.3,450.8 670.2,450.9 666.6,451.6C663.0,452.3 660.2,452.7 656.6,453.3C653.0,453.9 648.8,453.9 644.9,455.0C641.0,456.1 637.1,458.5 633.2,460.0C629.3,461.5 625.5,464.1 621.6,464.1C617.7,464.1 613.3,462.1 610.0,460.0C606.7,457.9 603.6,452.4 601.6,451.6C599.6,450.8 600.0,452.8 598.3,455.0C596.6,457.2 594.4,462.2 591.6,465.0C588.8,467.8 584.9,470.8 581.6,471.6C578.3,472.4 575.2,471.3 571.6,469.9C568.0,468.5 563.9,465.5 560.0,463.3C556.1,461.1 551.1,459.1 548.3,456.6C545.5,454.1 545.2,448.0 543.3,448.3C541.3,448.6 539.1,455.2 536.6,458.3C534.1,461.4 531.3,465.0 528.3,466.6C525.2,468.2 521.6,469.0 518.3,468.2C515.0,467.4 511.4,464.9 508.3,461.6C505.2,458.3 503.1,451.6 500.0,448.3C496.9,445.0 493.6,443.3 490.0,441.6C486.4,439.9 481.6,440.0 478.2,438.3C474.8,436.6 472.4,434.1 469.9,431.6C467.4,429.1 465.7,424.4 463.2,423.3C460.7,422.2 457.9,423.3 454.9,425.0C451.8,426.7 447.7,430.5 444.9,433.3C442.1,436.1 441.0,439.2 438.2,441.6C435.4,444.0 431.2,446.6 428.2,447.4C425.2,448.2 422.8,447.6 420.0,446.6C417.2,445.6 413.0,441.0 411.6,441.6C410.2,442.2 413.0,447.5 411.6,450.0C410.2,452.5 406.3,455.2 403.2,456.6C400.1,458.0 396.5,458.9 393.2,458.3C389.9,457.8 386.8,454.7 383.2,453.3C379.6,451.9 374.9,451.9 371.6,450.0C368.3,448.1 365.0,444.4 363.3,441.6C361.6,438.8 363.3,435.8 361.6,433.3C359.9,430.8 356.9,428.0 353.3,426.6C349.7,425.2 343.6,426.1 340.0,425.0C336.4,423.9 333.8,422.5 331.6,420.0C329.4,417.5 327.4,413.3 326.6,410.0C325.8,406.7 327.4,403.1 326.6,400.0C325.8,396.9 322.7,394.9 321.6,391.6C320.5,388.3 319.4,383.6 320.0,380.0C320.6,376.4 322.7,372.2 324.9,370.0C327.1,367.8 332.2,368.6 333.3,366.6C334.4,364.7 331.8,361.9 331.6,358.3C331.5,354.7 332.9,348.9 332.4,345.0C331.8,341.1 329.1,338.3 328.3,335.0C327.5,331.7 327.0,327.6 327.4,325.0C327.8,322.4 329.6,322.5 330.8,319.6C332.1,316.8 333.9,311.2 334.9,307.9C335.9,304.6 336.9,301.8 336.6,299.6C336.3,297.4 336.1,295.6 333.3,294.6C330.5,293.6 325.0,293.9 320.0,293.8C315.0,293.7 308.3,294.5 303.3,293.8C298.3,293.1 293.5,291.7 290.0,289.6C286.5,287.5 283.9,284.4 282.5,281.3C281.1,278.2 281.5,274.6 281.6,271.3C281.7,268.0 285.2,263.8 283.3,261.3C281.4,258.8 273.3,258.2 270.0,256.3C266.7,254.4 264.6,252.2 263.3,249.6C262.1,247.0 261.9,243.8 262.5,241.0ZM280.0,93.6C281.6,93.3 286.1,91.8 290.0,92.0C293.9,92.1 299.8,94.5 303.3,94.3C306.8,94.1 310.1,93.0 310.8,90.8C311.5,88.5 308.0,82.5 307.5,80.8M399.9,45.0C401.0,45.5 404.3,46.4 406.6,48.3C408.8,50.3 412.0,54.0 413.2,56.6C414.5,59.3 415.4,61.6 414.1,64.1C412.7,66.6 406.8,68.4 404.9,71.6C402.9,74.8 402.5,78.9 402.4,83.3C402.3,87.7 404.5,94.1 404.1,98.3C403.6,102.4 402.3,105.6 399.9,108.3C397.5,110.9 393.5,113.6 389.9,114.1C386.3,114.7 381.3,113.7 378.2,111.6C375.2,109.5 372.7,103.3 371.6,101.6M333.3,98.3C335.5,97.7 342.2,95.0 346.6,95.0C351.0,95.0 355.8,97.1 359.9,98.3C364.1,99.5 369.6,101.3 371.6,101.9M333.3,98.3C332.7,100.5 329.9,107.2 329.9,111.6C329.9,116.1 333.8,119.9 333.3,124.9C332.7,129.9 328.6,136.0 326.6,141.6C324.7,147.1 322.4,152.2 321.6,158.2C320.8,164.3 321.6,174.8 321.6,178.1M362.4,72.5C361.4,73.7 359.2,77.6 356.6,80.0C354.0,82.3 349.6,84.4 346.6,86.6C343.5,88.8 340.8,90.5 338.3,93.3C335.8,96.1 333.1,99.7 331.6,103.3C330.1,106.9 329.5,113.0 329.1,114.9M414.1,65.0C415.6,65.3 418.9,67.1 423.2,66.6C427.5,66.2 434.9,64.7 439.9,62.5C444.9,60.3 450.4,56.1 453.2,53.3C456.0,50.5 456.0,47.1 456.5,45.8M257.5,139.9C259.0,140.8 263.9,142.5 266.6,145.3C269.4,148.0 272.3,152.7 274.1,156.6C276.0,160.4 277.3,166.3 278.0,168.2M533.3,34.2C534.7,35.7 539.4,39.6 541.6,43.3C543.9,47.1 546.1,52.5 546.6,56.6C547.2,60.8 546.4,65.3 545.0,68.3C543.6,71.4 540.1,72.5 538.3,75.0C536.5,77.5 534.8,80.2 534.1,83.3C533.4,86.3 533.4,90.7 534.1,93.3C534.8,95.9 537.6,98.1 538.3,99.1M533.3,111.6C535.5,111.6 541.9,109.9 546.6,111.6C551.3,113.3 558.0,117.2 561.6,121.6C565.2,126.0 568.0,133.0 568.3,138.3C568.6,143.5 566.1,149.5 563.3,153.2C560.5,157.0 555.8,159.8 551.6,160.7C547.5,161.7 542.5,160.0 538.3,159.1C534.1,158.1 528.6,155.6 526.6,154.9M583.3,74.1C584.9,74.3 589.4,73.2 593.3,75.0C597.2,76.8 602.7,81.6 606.6,85.0C610.5,88.3 613.8,92.5 616.6,95.0C619.4,97.5 621.3,96.6 623.2,100.0C625.2,103.3 626.3,110.8 628.2,114.9C630.2,119.1 631.8,123.0 634.9,124.9C638.0,126.9 643.0,124.9 646.6,126.6C650.2,128.3 654.2,131.9 656.6,134.9C658.9,138.0 660.4,141.6 660.7,144.9C661.0,148.3 659.5,151.9 658.2,154.9C657.0,158.0 654.5,159.4 653.2,163.2C652.0,167.1 651.1,175.6 650.7,178.1M598.3,75.0C599.4,76.6 601.6,81.6 604.9,85.0C608.3,88.3 614.6,94.3 618.2,95.0C621.9,95.6 623.2,89.8 626.6,89.1C629.9,88.4 635.2,89.3 638.2,90.8C641.3,92.3 643.8,97.0 644.9,98.3M623.2,100.0C624.6,100.8 629.4,102.4 631.6,104.9C633.8,107.4 636.0,111.6 636.6,114.9C637.1,118.3 635.2,123.3 634.9,124.9M644.9,98.3C646.3,99.1 650.2,101.6 653.2,103.3C656.3,104.9 660.7,105.8 663.2,108.3C665.7,110.8 667.2,115.5 668.2,118.3C669.2,121.0 668.9,123.8 669.0,124.9M659.9,131.6C660.7,133.3 664.3,138.0 664.9,141.6C665.4,145.2 662.1,151.0 663.2,153.2C664.3,155.5 670.2,154.6 671.5,154.9M296.6,178.0C297.0,179.5 300.2,183.0 299.1,187.2C298.0,191.3 293.6,198.8 290.0,203.0C286.4,207.1 280.7,208.4 277.5,212.1C274.3,215.9 271.9,223.2 270.8,225.5M283.3,261.3C285.5,261.6 292.2,262.6 296.6,263.3C301.1,264.0 306.1,265.2 310.0,265.4C313.8,265.7 318.3,264.7 319.9,264.6M313.3,264.6C315.0,263.2 319.9,259.1 323.3,256.3C326.6,253.5 329.9,250.3 333.3,248.0C336.6,245.6 339.7,243.2 343.3,242.1C346.9,241.0 351.7,240.2 354.9,241.3C358.1,242.4 360.6,245.2 362.4,248.8C364.2,252.4 365.2,260.6 365.7,262.9M321.6,178.0C322.4,179.4 324.7,183.6 326.6,186.3C328.6,189.1 330.5,191.0 333.3,194.7C336.0,198.3 339.4,204.1 343.3,208.0C347.2,211.9 352.7,215.2 356.6,218.0C360.5,220.7 363.8,221.9 366.6,224.6C369.4,227.4 371.3,230.7 373.2,234.6C375.2,238.5 375.5,244.3 378.2,248.0C381.0,251.6 386.3,255.2 389.9,256.3C393.5,257.4 397.1,256.6 399.9,254.6C402.7,252.7 405.2,248.0 406.6,244.6C407.9,241.3 406.6,237.1 408.2,234.6C409.9,232.1 414.1,229.1 416.5,229.6C419.0,230.2 420.7,235.5 423.2,238.0C425.7,240.5 430.2,243.5 431.5,244.6M419.0,178.0C418.6,180.8 416.4,189.1 416.5,194.7C416.7,200.2 419.5,206.3 419.9,211.3C420.3,216.3 418.5,220.5 419.0,224.6C419.6,228.8 422.5,234.4 423.2,236.3M439.9,244.6C441.5,246.6 447.9,251.8 449.9,256.3C451.8,260.7 452.6,266.8 451.5,271.3C450.4,275.7 446.5,279.9 443.2,282.9C439.9,286.0 434.9,287.6 431.5,289.6C428.2,291.5 425.0,292.1 423.2,294.6C421.4,297.1 420.7,300.4 420.7,304.6C420.7,308.7 422.0,315.2 423.2,319.6C424.5,324.0 427.4,329.1 428.2,331.1M333.3,294.6C333.8,292.9 334.4,287.4 336.6,284.6C338.8,281.8 341.6,279.3 346.6,277.9C351.6,276.5 360.8,275.7 366.6,276.3C372.4,276.8 378.0,278.8 381.6,281.3C385.2,283.8 387.4,287.4 388.2,291.3C389.1,295.1 388.2,300.7 386.6,304.6C384.9,308.5 381.0,312.1 378.2,314.6C375.5,317.1 371.3,318.7 369.9,319.6M328.3,331.1C328.8,329.4 329.7,323.8 331.6,321.2C333.5,318.6 337.2,316.2 339.9,315.4C342.7,314.6 346.9,316.1 348.3,316.2M341.6,331.1C342.4,329.7 344.1,324.8 346.6,322.9C349.1,321.0 353.0,319.6 356.6,319.6C360.2,319.6 365.5,321.0 368.2,322.9C371.0,324.8 372.4,329.7 373.2,331.1M490.0,231.3C492.2,232.1 499.4,234.1 503.3,236.3C507.2,238.5 511.1,241.8 513.3,244.6C515.5,247.4 516.4,250.2 516.6,253.0C516.9,255.7 516.6,258.8 515.0,261.3C513.3,263.8 510.0,266.3 506.7,267.9C503.3,269.6 497.8,269.9 495.0,271.3C492.2,272.7 490.8,275.4 490.0,276.3M515.0,261.3C515.7,259.8 518.3,254.7 519.3,252.5C520.3,250.2 520.1,251.5 520.8,248.0C521.5,244.4 521.8,236.0 523.3,231.3C524.8,226.6 526.6,223.0 530.0,219.6C533.3,216.3 538.9,213.7 543.3,211.3C547.7,209.0 553.0,206.0 556.6,205.5C560.2,204.9 562.2,206.2 565.0,208.0C567.7,209.8 570.2,214.1 573.3,216.3C576.3,218.5 580.5,219.1 583.3,221.3C586.0,223.5 589.9,226.3 589.9,229.6C589.9,233.0 584.8,237.4 583.3,241.3C581.7,245.2 581.1,248.2 580.8,253.0C580.5,257.7 580.6,264.3 581.6,269.6C582.6,274.9 585.2,279.3 586.6,284.6C588.0,289.9 589.9,296.0 589.9,301.3C589.9,306.5 587.7,311.3 586.6,316.2C585.5,321.2 583.8,328.6 583.3,331.1M589.9,229.6C591.3,228.5 594.9,224.6 598.3,223.0C601.6,221.3 605.2,220.2 609.9,219.6C614.6,219.1 621.6,218.3 626.6,219.6C631.6,221.0 636.4,224.4 639.9,228.0C643.4,231.6 646.3,237.1 647.4,241.3C648.5,245.5 647.5,249.3 646.6,253.0C645.6,256.6 642.5,259.9 641.6,262.9C640.6,266.0 639.9,268.4 640.7,271.3C641.6,274.2 644.2,277.7 646.6,280.4C648.9,283.2 653.5,286.7 654.9,287.9M583.3,178.0C582.9,180.2 580.8,187.4 580.8,191.3C580.8,195.2 581.7,198.0 583.3,201.3C584.8,204.6 587.7,208.1 589.9,211.3C592.2,214.5 595.5,218.9 596.6,220.5M651.6,178.0C651.0,179.4 650.7,183.6 648.2,186.3C645.7,189.1 639.1,191.3 636.6,194.7C634.1,198.0 633.2,202.7 633.2,206.3C633.2,209.9 635.3,213.0 636.6,216.3C637.8,219.6 640.0,224.6 640.7,226.3M708.2,178.0C707.6,179.1 707.4,182.2 704.9,184.7C702.4,187.2 695.3,190.5 693.2,193.0C691.1,195.5 691.5,197.2 692.4,199.7C693.2,202.2 696.9,204.4 698.2,208.0C699.4,211.6 700.1,217.1 699.9,221.3C699.6,225.5 698.2,229.1 696.5,233.0C694.9,236.8 691.8,241.3 689.9,244.6C687.9,248.0 685.8,249.6 684.9,253.0C683.9,256.3 684.3,260.4 684.0,264.6C683.8,268.8 682.5,274.3 683.2,277.9C683.9,281.5 686.5,283.5 688.2,286.3C689.9,289.0 692.1,291.0 693.2,294.6C694.3,298.2 693.2,304.6 694.9,307.9C696.5,311.2 700.1,312.4 703.2,314.6C706.2,316.8 711.5,320.1 713.2,321.2M669.9,239.6C671.3,240.5 675.8,242.4 678.2,244.6C680.6,246.8 683.1,251.6 684.0,253.0M488.3,277.8C488.0,279.7 486.8,284.4 486.6,289.1C486.3,293.9 485.2,302.3 486.9,306.1C488.6,309.9 493.2,310.6 496.8,312.0C500.3,313.5 505.0,313.0 508.1,314.9C511.1,316.7 513.2,319.8 515.1,323.1C517.0,326.3 518.7,332.5 519.4,334.4M376.6,335.0C377.0,338.3 379.9,349.7 379.1,355.0C378.2,360.3 374.8,363.7 371.6,366.6C368.4,369.6 364.1,372.2 359.9,372.5C355.8,372.7 350.6,370.7 346.6,368.3C342.6,365.9 338.0,361.9 335.8,358.3C333.5,354.7 332.6,351.1 333.3,346.7C334.0,342.2 337.2,335.3 339.9,331.7C342.7,328.1 348.3,326.1 349.9,325.0M333.3,366.6C334.9,368.3 339.7,373.6 343.3,376.6C346.9,379.7 352.1,381.4 354.9,385.0C357.7,388.6 357.7,394.4 359.9,398.3C362.1,402.2 365.2,405.9 368.2,408.3C371.3,410.6 374.6,412.4 378.2,412.4C381.8,412.4 386.3,409.2 389.9,408.3C393.5,407.3 396.0,406.1 399.9,406.6C403.8,407.2 408.8,409.9 413.2,411.6C417.7,413.3 422.4,416.3 426.5,416.6C430.7,416.9 435.1,415.2 438.2,413.3C441.3,411.3 442.4,405.2 444.9,404.9C447.4,404.7 450.1,409.1 453.2,411.6C456.2,414.1 459.9,418.8 463.2,419.9C466.5,421.0 470.7,420.2 473.2,418.3C475.7,416.3 477.3,412.7 478.2,408.3C479.0,403.8 477.9,397.2 478.2,391.6C478.5,386.1 477.9,379.7 479.8,375.0C481.8,370.2 488.3,365.3 490.0,363.3M339.9,424.9C342.7,424.9 351.6,425.8 356.6,424.9C361.6,424.1 365.7,420.2 369.9,419.9C374.1,419.7 377.4,421.9 381.6,423.3C385.7,424.7 390.7,427.7 394.9,428.3C399.1,428.8 403.2,426.0 406.6,426.6C409.9,427.2 411.8,430.5 414.9,431.6C417.9,432.7 421.5,433.8 424.9,433.3C428.2,432.7 431.8,430.5 434.9,428.3C437.9,426.0 441.4,423.3 443.2,419.9C445.0,416.6 445.3,410.2 445.7,408.3M359.9,431.6C362.1,432.7 368.8,437.4 373.2,438.3C377.7,439.1 382.4,437.1 386.6,436.6C390.7,436.0 394.6,434.1 398.2,434.9C401.8,435.8 406.0,439.9 408.2,441.6C410.4,443.3 411.0,444.4 411.6,444.9M516.6,325.0C517.5,326.7 518.9,331.7 521.6,335.0C524.4,338.3 529.4,342.8 533.3,345.0C537.2,347.2 541.6,348.6 545.0,348.3C548.3,348.0 550.8,345.5 553.3,343.3C555.8,341.1 557.2,337.2 560.0,335.0C562.7,332.8 566.6,331.7 569.9,330.0C573.3,328.3 578.3,325.8 579.9,325.0M579.9,331.7C579.9,333.3 579.1,338.0 579.9,341.7C580.8,345.3 582.2,350.3 584.9,353.3C587.7,356.4 592.4,358.0 596.6,360.0C600.8,361.9 606.3,362.5 609.9,365.0C613.5,367.5 616.3,371.6 618.2,375.0C620.2,378.3 619.4,381.9 621.6,385.0C623.8,388.0 627.4,391.3 631.6,393.3C635.7,395.2 644.1,396.1 646.6,396.6M628.2,358.3C629.6,356.6 633.2,350.3 636.6,348.3C639.9,346.4 644.6,345.8 648.2,346.7C651.8,347.5 655.2,350.5 658.2,353.3C661.3,356.1 663.5,360.0 666.5,363.3C669.6,366.6 674.6,370.0 676.5,373.3C678.5,376.6 679.0,380.0 678.2,383.3C677.4,386.6 674.6,390.8 671.5,393.3C668.5,395.8 664.1,397.7 659.9,398.3C655.7,398.8 648.8,396.9 646.6,396.6M669.9,360.0C671.3,359.1 674.9,356.4 678.2,355.0C681.5,353.6 687.9,352.2 689.9,351.6M646.6,398.3C646.8,400.5 647.7,407.2 648.2,411.6C648.8,416.1 648.5,420.5 649.9,424.9C651.3,429.4 653.8,434.4 656.6,438.3C659.3,442.1 664.9,446.6 666.5,448.3M683.2,402.4C681.5,402.6 677.1,403.7 673.2,403.3C669.3,402.9 662.1,400.5 659.9,400.0M546.6,411.6C547.7,409.7 550.8,403.0 553.3,400.0C555.8,396.9 558.6,394.4 561.6,393.3C564.7,392.2 569.0,392.2 571.6,393.3C574.2,394.4 576.6,397.5 577.4,400.0C578.3,402.4 577.3,405.2 576.6,408.3C575.9,411.3 573.6,414.9 573.3,418.3C573.0,421.6 573.3,424.7 574.9,428.3C576.6,431.9 579.7,436.6 583.3,439.9C586.9,443.3 592.2,446.9 596.6,448.3C601.0,449.6 605.5,448.9 609.9,448.3C614.4,447.6 618.8,445.5 623.2,444.1C627.7,442.7 633.0,442.0 636.6,439.9C640.2,437.8 643.0,435.2 644.9,431.6C646.8,428.0 647.7,420.5 648.2,418.3M543.3,448.3L545.8,439.9M601.6,451.6L596.6,449.1"/>
</g>
<g stroke-linecap="round" stroke-linejoin="round" fill="none">
<polyline points="431.5,248.0 442.4,253.0 448.2,264.6 447.4,276.3 439.9,281.3 429.9,267.9 431.5,248.0" stroke="#1fa9ad" stroke-width="4.6"/><polyline points="431.5,248.0 442.4,253.0 448.2,264.6 447.4,276.3 439.9,281.3 429.9,267.9 431.5,248.0" stroke="#2fd0d0" stroke-width="3.4"/><polyline points="413.2,267.1 424.9,266.3 431.5,248.8" stroke="#2fd0d0" stroke-width="3.8"/><polyline points="424.9,266.3 434.9,277.9" stroke="#2fd0d0" stroke-width="3.8"/></g>
<circle cx="412.9" cy="267.1" r="3.2" fill="#d94545"/><circle cx="447.9" cy="273.8" r="3.2" fill="#d94545"/><circle cx="444.0" cy="277.9" r="2.2" fill="#d94545"/><circle cx="431.5" cy="248.0" r="2.9" fill="#2fd0d0"/><circle cx="442.4" cy="253.0" r="2.9" fill="#2fd0d0"/><circle cx="448.2" cy="264.6" r="2.9" fill="#2fd0d0"/><circle cx="439.9" cy="281.3" r="2.9" fill="#2fd0d0"/><circle cx="429.9" cy="267.9" r="2.9" fill="#2fd0d0"/><circle cx="424.9" cy="266.3" r="2.9" fill="#2fd0d0"/><circle cx="434.9" cy="277.9" r="2.9" fill="#2fd0d0"/><g stroke-linecap="round" stroke-linejoin="round" fill="none">
<polyline points="564.1,241.3 574.1,242.1 575.8,253.0 567.4,267.9 558.3,259.6 556.6,248.0 564.1,241.3" stroke="#2fd0d0" stroke-width="3.8"/><polyline points="558.3,259.6 545.8,259.6 541.6,272.9 549.1,277.9 560.0,268.8 567.4,267.9" stroke="#2fd0d0" stroke-width="3.8"/><polyline points="564.1,228.0 564.1,241.3" stroke="#2fd0d0" stroke-width="3.8"/><polyline points="549.1,277.9 546.6,291.3 536.6,288.8 530.8,301.3 540.0,306.2 546.6,291.3" stroke="#2fd0d0" stroke-width="3.8"/><polyline points="530.8,301.3 511.7,297.1 505.8,297.9" stroke="#2fd0d0" stroke-width="3.8"/><polyline points="505.8,297.9 493.3,286.3" stroke="#e8862a" stroke-width="3.8"/><polyline points="493.3,286.3 495.0,277.9" stroke="#e8862a" stroke-width="3.8"/><polyline points="540.0,306.2 550.0,312.9" stroke="#2fd0d0" stroke-width="3.8"/><polyline points="540.0,306.2 531.6,314.6 543.3,322.9" stroke="#2fd0d0" stroke-width="3.8"/></g>
<circle cx="564.1" cy="228.0" r="3.3" fill="#2a3fd8"/><circle cx="574.1" cy="242.1" r="3.3" fill="#2a3fd8"/><circle cx="567.4" cy="267.9" r="3.3" fill="#2a3fd8"/><circle cx="545.8" cy="259.6" r="3.3" fill="#2a3fd8"/><circle cx="549.1" cy="277.9" r="3.3" fill="#2a3fd8"/><circle cx="564.1" cy="241.3" r="3.0" fill="#2fd0d0"/><circle cx="575.8" cy="253.0" r="3.0" fill="#2fd0d0"/><circle cx="558.3" cy="259.6" r="3.0" fill="#2fd0d0"/><circle cx="556.6" cy="248.0" r="3.0" fill="#2fd0d0"/><circle cx="541.6" cy="272.9" r="3.0" fill="#2fd0d0"/><circle cx="560.0" cy="268.8" r="3.0" fill="#2fd0d0"/><circle cx="546.6" cy="291.3" r="3.0" fill="#2fd0d0"/><circle cx="530.8" cy="301.3" r="3.0" fill="#2fd0d0"/><circle cx="540.0" cy="306.2" r="3.0" fill="#2fd0d0"/><circle cx="531.6" cy="314.6" r="3.0" fill="#2fd0d0"/><circle cx="511.7" cy="297.1" r="3.0" fill="#2fd0d0"/><circle cx="536.6" cy="288.8" r="3.2" fill="#d94545"/><circle cx="505.8" cy="297.9" r="3.2" fill="#d94545"/><circle cx="550.0" cy="312.9" r="3.2" fill="#d94545"/><circle cx="543.3" cy="322.9" r="3.2" fill="#d94545"/><circle cx="493.3" cy="286.3" r="2.6" fill="#e8862a"/><circle cx="491.3" cy="295.4" r="2.2" fill="#d94545"/></g>
<g id="panelB">
<text x="803.50" y="65.40" font-size="23" font-weight="bold" textLength="16.90" lengthAdjust="spacingAndGlyphs" fill="#111">B</text>
<rect x="766.3" y="263" width="125.3" height="47.7" rx="23.8" ry="23.8" fill="#b7b7b7"/>
<text x="789.00" y="282.60" font-size="15.5" textLength="79.00" lengthAdjust="spacingAndGlyphs" fill="#111">ADP-ribose</text>
<text x="795.50" y="300.40" font-size="15.5" textLength="66.50" lengthAdjust="spacingAndGlyphs" fill="#111">conjugate</text>
<text x="872.00" y="235.50" font-size="17" textLength="21.30" lengthAdjust="spacingAndGlyphs" fill="#111">C1</text>
<path d="M885.8,244.3L897,267.5" stroke="#111" stroke-width="2" fill="none"/>
<polygon points="900.9,275.5 891,265.5 901.2,260.6" fill="#111"/>
<path d="M910.7,266.6L904.9,279.6M904.9,279.6L920.7,294.6M920.7,294.6L940.7,285.3M940.7,285.3L937.4,262.4M924.0,260.4L937.4,262.4M953.2,247.1L966.5,250.8M982.5,252.6L991.3,252.6M1003.3,252.6L1012.5,252.6M1027.3,252.6L1036.3,252.6M1048.3,252.6L1057.4,252.6M995.4,237.5L995.4,244.3M999.4,237.5L999.4,244.3M997.4,260.6L997.4,266.8M1040.4,237.5L1040.4,244.3M1044.4,237.5L1044.4,244.3M1042.4,260.6L1042.4,266.8M1001.5,284.8L1008.0,284.8M1048.5,285.4L1055.0,285.4M1072.4,253.3L1088.2,255.0M1100.7,210.8L1112.9,203.3M1112.9,203.3L1130.7,215.5M1130.7,215.5L1124.0,237.5M1124.0,237.5L1100.7,237.5M1096.6,223.0L1100.7,237.5M1154.1,119.5L1154.1,135.0M1154.1,135.0L1166.8,141.6M1152.6,139.3L1163.3,144.9M1173.3,153.3L1173.3,167.4M1173.3,167.4L1160.8,174.1M1169.8,165.6L1160.0,170.9M1146.6,175.0L1135.0,167.4M1135.0,167.4L1135.0,145.0M1138.6,165.0L1138.6,147.5M1135.0,145.0L1154.1,135.0M1135.0,145.0L1120.8,140.3M1108.3,145.8L1099.6,156.6M1112.0,147.8L1104.0,157.7M1099.6,156.6L1107.5,168.3M1120.0,172.4L1135.0,167.4" stroke="#111" stroke-width="1.15" fill="none" stroke-linecap="butt"/>
<polygon points="904.9,279.6 891.5,279.2 892.1,283.4" fill="#111"/>
<polygon points="920.7,294.6 917.0,308.8 921.4,309.2" fill="#111"/>
<polygon points="940.7,285.3 952.2,293.9 954.2,290.1" fill="#111"/>
<path d="M940.0,260.4L939.4,259.8M942.6,258.4L941.4,257.2M945.2,256.3L943.5,254.6M947.8,254.3L945.5,252.0M950.5,252.3L947.5,249.3M953.1,250.3L949.5,246.7" stroke="#111" stroke-width="0.9" fill="none"/>
<polygon points="1100.7,237.5 1085.7,253.1 1089.3,255.9" fill="#111"/>
<polygon points="1112.9,203.3 1115.0,183.5 1110.4,183.5" fill="#111"/>
<path d="M1133.7,215.2L1133.4,214.2M1136.6,214.9L1136.1,213.0M1139.6,214.6L1138.8,211.7M1142.6,214.3L1141.5,210.5M1145.6,214.0L1144.2,209.2" stroke="#111" stroke-width="0.9" fill="none"/>
<path d="M1125.3,240.3L1126.1,239.7M1126.5,243.1L1128.2,241.9M1127.8,245.8L1130.3,244.2M1129.1,248.6L1132.4,246.4M1130.3,251.4L1134.5,248.6" stroke="#111" stroke-width="0.9" fill="none"/>
<text x="914.90" y="264.53" font-size="14.6" text-anchor="middle" fill="#111">O</text>
<text x="901.20" y="322.40" font-size="14.6" textLength="21.20" lengthAdjust="spacingAndGlyphs" fill="#111">HO</text>
<text x="955.70" y="300.30" font-size="14.6" textLength="21.70" lengthAdjust="spacingAndGlyphs" fill="#111">OH</text>
<text x="975.00" y="258.03" font-size="14.6" text-anchor="middle" fill="#111">O</text>
<text x="1020.00" y="258.03" font-size="14.6" text-anchor="middle" fill="#111">O</text>
<text x="1065.00" y="258.03" font-size="14.6" text-anchor="middle" fill="#111">O</text>
<text x="997.40" y="257.63" font-size="14.6" text-anchor="middle" fill="#111">P</text>
<text x="997.40" y="235.43" font-size="14.6" text-anchor="middle" fill="#111">O</text>
<text x="997.40" y="280.23" font-size="14.6" text-anchor="middle" fill="#111">O</text>
<text x="1042.40" y="257.63" font-size="14.6" text-anchor="middle" fill="#111">P</text>
<text x="1042.40" y="235.43" font-size="14.6" text-anchor="middle" fill="#111">O</text>
<text x="1042.40" y="280.23" font-size="14.6" text-anchor="middle" fill="#111">O</text>
<text x="1094.50" y="220.63" font-size="14.6" text-anchor="middle" fill="#111">O</text>
<text x="1147.40" y="214.40" font-size="14.6" textLength="21.60" lengthAdjust="spacingAndGlyphs" fill="#111">OH</text>
<text x="1130.70" y="260.80" font-size="14.6" textLength="22.50" lengthAdjust="spacingAndGlyphs" fill="#111">OH</text>
<text x="1112.50" y="143.53" font-size="14.6" text-anchor="middle" fill="#111">N</text>
<text x="1112.50" y="181.53" font-size="14.6" text-anchor="middle" fill="#111">N</text>
<text x="1173.30" y="150.53" font-size="14.6" text-anchor="middle" fill="#111">N</text>
<text x="1153.60" y="185.03" font-size="14.6" text-anchor="middle" fill="#111">N</text>
<text x="1149.10" y="116.30" font-size="14.6" textLength="20.50" lengthAdjust="spacingAndGlyphs" fill="#111">NH</text>
<text x="1170.80" y="120.60" font-size="10" textLength="5.80" lengthAdjust="spacingAndGlyphs" fill="#111">2</text>
<path d="M958.5,220.8V209.6H1065.5V220.8 M893.5,324.6V335.6H974.5V324.6 M1094.6,266.3V277H1159.5V266.3 M1182.4,97.4H1193.6V164.5 M1193.6,196.6V267H1182.4" stroke="#111" stroke-width="1" fill="none"/>
<text x="970.30" y="193.70" font-size="15" textLength="86.40" lengthAdjust="spacingAndGlyphs" fill="#111">Diphosphate</text>
<text x="917.50" y="357.50" font-size="15" textLength="37.50" lengthAdjust="spacingAndGlyphs" fill="#111">Distal</text>
<text x="915.00" y="373.80" font-size="15" textLength="41.80" lengthAdjust="spacingAndGlyphs" fill="#111">ribose</text>
<text x="1097.40" y="298.00" font-size="15" textLength="59.60" lengthAdjust="spacingAndGlyphs" fill="#111">Proximal</text>
<text x="1106.60" y="314.60" font-size="15" textLength="41.60" lengthAdjust="spacingAndGlyphs" fill="#111">ribose</text>
<text x="1186.60" y="185.40" font-size="15" textLength="72.40" lengthAdjust="spacingAndGlyphs" fill="#111">Adenosine</text>
</g>
<g id="panelC">
<polygon points="354.5,705 485.5,705 485.5,893.75 354.5,893.75" fill="#f0f5f9"/>
<polygon points="485.5,705 583.75,789.5 583.75,809.5 485.5,893.75" fill="url(#gFun)"/>
<polygon points="485.5,599.5 583.75,775 583.75,778 485.5,633.5" fill="url(#gFun)" stroke="#222" stroke-width="0.9" stroke-linejoin="round"/>
<polygon points="485.5,647.5 583.75,781 583.75,789.5 485.5,705" fill="url(#gFun)" stroke="#222" stroke-width="0.9" stroke-linejoin="round"/>
<rect x="354.5" y="599.5" width="131" height="34" fill="#f0f5f9" stroke="#333" stroke-width="1"/>
<rect x="354.5" y="647.5" width="131" height="57.5" fill="#f0f5f9" stroke="#333" stroke-width="1"/>
<path d="M330,617.5H354.5M330,673.5H354.5M331,789.5H354.5" stroke="#111" stroke-width="1" fill="none"/>
<text x="268.00" y="612.50" font-size="16" font-weight="bold" textLength="59.50" lengthAdjust="spacingAndGlyphs" fill="#111">ZINC15</text>
<text x="240.50" y="632.50" font-size="16" font-weight="bold" textLength="86.00" lengthAdjust="spacingAndGlyphs" fill="#111">in humans</text>
<text x="268.00" y="663.75" font-size="16" font-weight="bold" textLength="59.50" lengthAdjust="spacingAndGlyphs" fill="#111">ZINC15</text>
<text x="263.00" y="683.75" font-size="16" font-weight="bold" textLength="65.00" lengthAdjust="spacingAndGlyphs" fill="#111">in-stock</text>
<text x="243.75" y="703.75" font-size="16" font-weight="bold" textLength="83.75" lengthAdjust="spacingAndGlyphs" fill="#111">fragments</text>
<text x="265.75" y="790.50" font-size="16" font-weight="bold" textLength="59.25" lengthAdjust="spacingAndGlyphs" fill="#111">ZINC15</text>
<text x="306.75" y="810.50" font-size="16" font-weight="bold" textLength="18.25" lengthAdjust="spacingAndGlyphs" fill="#111">all</text>
<text x="241.75" y="830.50" font-size="16" font-weight="bold" textLength="83.25" lengthAdjust="spacingAndGlyphs" fill="#111">fragments</text>
<text x="392.00" y="623.00" font-size="18" textLength="56.00" lengthAdjust="spacingAndGlyphs" fill="#111">20,726</text>
<text x="387.00" y="682.50" font-size="18" textLength="66.75" lengthAdjust="spacingAndGlyphs" fill="#111">722,963</text>
<text x="373.75" y="796.25" font-size="18" textLength="93.25" lengthAdjust="spacingAndGlyphs" fill="#111">20,006,175</text>
<text x="231.75" y="519.00" font-size="23" font-weight="bold" textLength="16.45" lengthAdjust="spacingAndGlyphs" fill="#111">C</text>
<text x="295.15" y="518.50" font-size="22.5" font-weight="bold" textLength="179.25" lengthAdjust="spacingAndGlyphs" fill="#111">Docked libraries</text>
<text x="301.20" y="539.50" font-size="16.5" textLength="167.20" lengthAdjust="spacingAndGlyphs" fill="#111">(20 million fragments)</text>
<text x="537.00" y="518.00" font-size="22.5" font-weight="bold" textLength="285.50" lengthAdjust="spacingAndGlyphs" fill="#111">Crystal-screened libraries</text>
<text x="611.00" y="540.00" font-size="16.5" textLength="132.75" lengthAdjust="spacingAndGlyphs" fill="#111">(2593 fragments)</text>
<text x="610.50" y="570.00" font-size="16" font-weight="bold" textLength="137.50" lengthAdjust="spacingAndGlyphs" fill="#111">General purpose</text>
<polygon points="756,577.5 935,599.5 935,623.5 756,635.5" fill="url(#gT1)"/>
<polygon points="756,648 920,666.5 920,695 756,708.75" fill="url(#gT2)"/>
<polygon points="746.75,775 975,735.7 975,746 746.75,809.5" fill="url(#gT3)"/>
<rect x="604" y="577.5" width="152" height="58" fill="#b9d0e4" stroke="#1c2733" stroke-width="1.4"/>
<rect x="604" y="648" width="152" height="60.75" fill="#b9d0e4" stroke="#1c2733" stroke-width="1.4"/>
<rect x="583.75" y="775" width="163" height="34.5" fill="#8c69b1" stroke="#1d1226" stroke-width="1.4"/>
<text x="618.00" y="612.50" font-size="16.5" font-weight="bold" textLength="59.50" lengthAdjust="spacingAndGlyphs" fill="#111">XChem</text>
<text x="693.00" y="613.75" font-size="17" textLength="41.50" lengthAdjust="spacingAndGlyphs" fill="#111">2122</text>
<text x="770.00" y="616.00" font-size="17.5" textLength="63.00" lengthAdjust="spacingAndGlyphs" fill="#111">104 hits</text>
<text x="617.00" y="685.00" font-size="16.5" font-weight="bold" textLength="46.00" lengthAdjust="spacingAndGlyphs" fill="#111">UCSF</text>
<text x="691.00" y="683.75" font-size="17" textLength="28.50" lengthAdjust="spacingAndGlyphs" fill="#111">411</text>
<text x="770.75" y="684.50" font-size="17.5" textLength="61.75" lengthAdjust="spacingAndGlyphs" fill="#111">110 hits</text>
<text x="614.50" y="743.75" font-size="16" font-weight="bold" textLength="98.50" lengthAdjust="spacingAndGlyphs" fill="#111">Selected for</text>
<text x="642.50" y="763.75" font-size="16" font-weight="bold" textLength="41.25" lengthAdjust="spacingAndGlyphs" fill="#111">Mac1</text>
<text x="655.00" y="798.75" font-size="18" textLength="20.00" lengthAdjust="spacingAndGlyphs" fill="#111">60</text>
<text x="772.00" y="757.50" font-size="17.5" textLength="53.50" lengthAdjust="spacingAndGlyphs" fill="#111">20 hits</text>
<rect x="655" y="857" width="487" height="34.5" fill="url(#gBar)"/>
<text x="610.00" y="863.75" font-size="16" font-weight="bold" textLength="37.00" lengthAdjust="spacingAndGlyphs" fill="#111">High</text>
<text x="576.25" y="883.75" font-size="16" font-weight="bold" textLength="70.75" lengthAdjust="spacingAndGlyphs" fill="#111">diversity</text>
<text x="1150.75" y="860.50" font-size="16" font-weight="bold" textLength="101.75" lengthAdjust="spacingAndGlyphs" fill="#111">Enriched for</text>
<text x="1150.75" y="880.00" font-size="16" font-weight="bold" textLength="63.75" lengthAdjust="spacingAndGlyphs" fill="#111">specific</text>
<text x="1150.75" y="899.50" font-size="16" font-weight="bold" textLength="75.50" lengthAdjust="spacingAndGlyphs" fill="#111">scaffolds</text>
<text x="905.00" y="519.50" font-size="23" font-weight="bold" textLength="217.50" lengthAdjust="spacingAndGlyphs" fill="#111">234 crystal-bound</text>
<text x="953.00" y="548.75" font-size="23" font-weight="bold" textLength="122.00" lengthAdjust="spacingAndGlyphs" fill="#111">fragments</text>
<polygon points="1120.5,652 1140,711 1140,811 1055.4,782.7 1050,760" fill="#f0f0f0"/>
<path d="M1120.5,652L1140,711M1055.4,782.7L1140,811" stroke="#444" stroke-width="0.7" fill="none"/>
<ellipse cx="1018.3" cy="669.2" rx="102.5" ry="97.5" fill="#ebebeb" stroke="#33073c" stroke-width="2.6"/>
<g fill="none" stroke="#434345" stroke-linecap="round" stroke-linejoin="round">
<path d="M945.7,564.0C946.0,566.3 947.7,565.3 946.5,571.0C945.3,576.7 946.3,575.5 942.0,581.0C937.7,586.5 936.8,583.2 933.5,587.5C930.2,591.8 931.2,589.5 932.0,594.0C932.8,598.5 933.3,596.0 936.0,601.0C938.7,606.0 938.5,603.7 940.0,609.0C941.5,614.3 942.2,611.3 940.5,617.0C938.8,622.7 939.2,620.2 935.0,626.0C930.8,631.8 931.0,627.8 928.0,634.5C925.0,641.2 925.5,638.8 926.0,646.0C926.5,653.2 925.7,650.5 929.5,656.0C933.3,661.5 932.0,660.7 937.5,662.5C943.0,664.3 941.3,664.5 946.0,661.5C950.7,658.5 947.8,658.8 951.5,653.5C955.2,648.2 951.8,649.7 957.0,645.5C962.2,641.3 960.0,644.3 967.0,641.0C974.0,637.7 970.2,639.8 978.0,635.5C985.8,631.2 982.8,633.2 990.5,628.0C998.2,622.8 994.2,626.3 1001.0,620.0C1007.8,613.7 1004.7,616.0 1011.0,609.0C1017.3,602.0 1014.7,605.3 1020.0,599.0C1025.3,592.7 1023.8,595.3 1027.0,590.0C1030.2,584.7 1029.7,587.3 1029.5,583.0C1029.3,578.7 1027.5,579.0 1026.5,577.0" stroke-width="9.9"/>
<path d="M945.7,564.0C946.5,566.7 944.9,566.2 948.2,572.0C951.5,577.8 949.8,577.0 955.5,581.5C961.2,586.0 958.8,585.6 965.3,585.6C971.8,585.6 970.3,586.0 975.1,581.5C979.9,577.0 978.2,577.7 979.8,572.0C981.4,566.3 979.9,567.0 980.0,564.5" stroke-width="9.9"/>
<path d="M980.0,564.5C981.1,567.0 980.8,566.5 983.2,572.0C985.6,577.5 983.5,575.9 987.3,581.1C991.1,586.3 989.4,586.5 994.6,587.6C999.8,588.7 998.4,588.4 1002.8,584.3C1007.2,580.2 1005.7,581.3 1007.7,575.4C1009.7,569.5 1008.4,569.5 1008.8,566.5" stroke-width="9.9"/>
<path d="M1008.8,566.5C1009.7,569.0 1010.0,567.5 1011.6,574.0C1013.2,580.5 1013.1,578.0 1013.6,586.0C1014.1,594.0 1013.2,594.0 1013.0,598.0" stroke-width="9.9"/>
<path d="M992.0,616.0C990.5,614.3 991.8,613.5 987.5,611.0C983.2,608.5 986.2,608.2 979.0,608.5C971.8,608.8 973.3,611.0 966.0,612.0C958.7,613.0 962.3,610.7 957.0,611.5C951.7,612.3 953.7,611.5 950.0,614.5C946.3,617.5 947.1,615.7 946.0,620.5C944.9,625.3 944.7,623.8 946.7,629.0C948.7,634.2 947.9,632.8 952.0,636.0C956.1,639.2 953.8,638.4 959.0,638.7C964.2,639.0 960.9,640.1 967.6,637.0C974.3,633.9 972.0,635.0 979.0,629.5C986.0,624.0 985.3,623.5 988.5,620.5" stroke-width="9.5"/>
<path d="M1026.5,577.0C1030.5,577.5 1031.2,578.2 1038.5,578.5C1045.8,578.8 1043.5,576.5 1048.5,578.0C1053.5,579.5 1051.1,578.7 1053.5,583.0C1055.9,587.3 1053.4,586.3 1055.6,591.0C1057.8,595.7 1058.5,595.0 1060.0,597.0" stroke-width="9.9"/>
<path d="M1056.0,607.0C1053.3,607.7 1053.3,606.7 1048.0,609.0C1042.7,611.3 1046.0,609.7 1040.0,614.0C1034.0,618.3 1037.0,616.0 1030.0,622.0C1023.0,628.0 1026.0,625.7 1019.0,632.0C1012.0,638.3 1015.3,635.7 1009.0,641.0C1002.7,646.3 1003.0,645.7 1000.0,648.0" stroke-width="10.9"/>
<path d="M1049.0,594.0C1046.3,595.8 1047.2,594.7 1041.0,599.5C1034.8,604.3 1038.2,601.5 1030.5,608.5C1022.8,615.5 1025.5,613.3 1018.0,620.5C1010.5,627.7 1015.3,623.5 1008.0,630.0C1000.7,636.5 1000.0,636.7 996.0,640.0" stroke-width="9.9"/>
<path d="M1042.6,617.0C1044.0,619.5 1044.2,619.5 1046.7,624.5C1049.2,629.5 1048.9,629.5 1050.0,632.0" stroke-width="9.9"/>
<path d="M1057.0,644.0C1060.3,642.5 1059.7,641.7 1067.0,639.5C1074.3,637.3 1071.0,638.8 1079.0,637.5C1087.0,636.2 1084.1,635.5 1091.0,635.5C1097.9,635.5 1096.7,636.8 1099.6,637.5" stroke-width="13.9"/>
<path d="M1099.6,637.5C1101.8,636.7 1102.6,637.3 1106.2,635.0C1109.8,632.7 1107.2,631.5 1110.5,630.5C1113.8,629.5 1112.5,630.5 1116.0,632.0C1119.5,633.5 1119.3,634.0 1121.0,635.0" stroke-width="9.9"/>
<path d="M1079.0,640.0C1080.7,643.2 1079.8,645.2 1084.0,649.5C1088.2,653.8 1087.4,649.7 1091.5,653.0C1095.6,656.3 1094.0,654.4 1096.4,659.5C1098.8,664.6 1099.1,662.7 1098.8,668.2C1098.5,673.7 1096.7,670.7 1095.6,676.0C1094.5,681.3 1094.3,677.8 1095.6,684.0C1096.9,690.2 1097.3,688.5 1099.6,694.5C1101.9,700.5 1101.1,697.5 1102.5,702.0C1103.9,706.5 1104.0,703.5 1103.7,708.0C1103.4,712.5 1105.6,711.1 1101.5,715.5C1097.4,719.9 1098.1,717.6 1091.5,721.1C1084.9,724.6 1087.0,722.5 1081.7,726.0C1076.4,729.5 1077.6,729.7 1075.5,731.5" stroke-width="9.9"/>
<path d="M1056.5,661.7C1058.7,663.9 1057.3,664.1 1063.0,668.2C1068.7,672.3 1067.4,669.8 1073.6,673.9C1079.8,678.0 1077.6,675.5 1081.7,680.4C1085.8,685.3 1083.7,683.1 1085.8,688.6C1087.9,694.1 1087.5,691.6 1088.0,697.0C1088.5,702.4 1089.5,700.0 1087.4,704.8C1085.3,709.6 1086.8,708.6 1081.7,711.3C1076.6,714.0 1076.9,714.3 1072.0,712.9C1067.1,711.5 1069.7,711.5 1067.0,707.2C1064.3,702.9 1067.6,703.0 1063.8,700.0C1060.0,697.0 1061.3,698.6 1055.6,698.3C1049.9,698.0 1051.6,700.4 1046.7,699.0C1041.8,697.6 1042.9,695.7 1041.0,694.0" stroke-width="9.9"/>
<path d="M1018.0,687.0C1020.7,683.7 1022.0,678.0 1026.0,677.0C1030.0,676.0 1027.7,680.0 1030.0,684.0C1032.3,688.0 1028.6,688.0 1032.8,689.0C1037.0,690.0 1038.2,685.2 1042.6,687.0C1047.0,688.8 1042.7,690.5 1046.0,694.3C1049.3,698.1 1047.6,698.4 1052.4,698.4C1057.2,698.4 1055.6,694.3 1060.5,694.3C1065.4,694.3 1064.8,697.0 1067.0,698.4" stroke-width="9.9"/>
<path d="M1062.0,705.0C1057.7,706.6 1055.8,704.9 1049.1,709.7C1042.4,714.5 1044.5,712.1 1041.8,719.4C1039.1,726.7 1039.4,724.6 1041.0,731.7C1042.6,738.8 1041.8,736.5 1046.7,740.6C1051.6,744.7 1048.8,743.1 1055.6,743.9C1062.4,744.7 1060.5,745.0 1067.0,743.1C1073.5,741.2 1071.9,742.0 1075.2,738.2C1078.5,734.4 1077.6,735.8 1076.8,731.7C1076.0,727.6 1076.1,730.1 1072.8,726.0C1069.5,721.9 1070.3,724.3 1067.0,719.4C1063.7,714.5 1064.3,714.0 1063.0,711.3" stroke-width="9.9"/>
<path d="M1047.0,728.5C1049.9,730.4 1049.9,730.3 1055.6,734.1C1061.3,737.9 1061.2,738.0 1064.0,740.0" stroke-width="8.9"/>
<path d="M1037.0,747.0C1038.8,749.8 1038.4,750.3 1042.4,755.5C1046.4,760.7 1044.0,759.5 1048.9,762.7C1053.8,765.9 1051.6,765.5 1057.0,765.2C1062.4,764.9 1061.1,765.7 1065.2,761.9C1069.3,758.1 1068.2,759.1 1069.3,753.7C1070.4,748.3 1068.8,748.3 1068.5,745.6" stroke-width="9.4"/>
<path d="M1037.0,747.0C1039.9,747.5 1040.3,746.3 1045.6,748.5C1050.9,750.7 1048.7,749.9 1053.0,753.7C1057.3,757.5 1056.7,757.9 1058.5,760.0" stroke-width="8.4"/>
<path d="M1027.5,761.5C1029.2,764.9 1028.7,766.4 1032.6,771.7C1036.5,777.0 1034.6,774.3 1039.1,777.4C1043.6,780.5 1043.7,779.8 1046.0,781.0" stroke-width="9.4"/>
<path d="M1027.5,761.5C1030.0,761.8 1029.8,760.3 1035.0,762.3C1040.2,764.3 1038.6,763.7 1043.2,767.6C1047.8,771.5 1047.0,771.9 1048.9,774.1" stroke-width="8.4"/>
<path d="M1057.5,764.0C1057.1,766.0 1058.0,765.8 1056.2,770.0C1054.4,774.2 1055.7,772.2 1052.2,776.5C1048.7,780.8 1050.0,779.2 1045.6,783.0C1041.2,786.8 1044.8,785.8 1039.1,788.0C1033.4,790.2 1035.7,788.7 1028.5,789.6C1021.3,790.5 1021.2,790.3 1017.5,790.6" stroke-width="9.9"/>
<path d="M980.0,657.6C976.7,660.3 976.2,661.4 970.2,665.7C964.2,670.0 968.0,667.9 962.0,670.6C956.0,673.3 958.5,670.6 952.3,673.9C946.1,677.2 948.2,675.5 943.3,680.4C938.4,685.3 940.7,683.4 937.6,688.6C934.5,693.8 934.2,690.5 934.0,696.0C933.8,701.5 936.0,702.0 937.0,705.0" stroke-width="9.9"/>
<path d="M976.7,645.4C974.0,647.6 972.4,646.5 968.6,651.9C964.8,657.3 966.8,655.0 965.3,661.7C963.8,668.4 964.5,665.9 964.0,672.0C963.5,678.1 963.4,673.3 963.7,680.0C964.0,686.7 963.6,685.3 965.0,692.0C966.4,698.7 965.5,694.9 968.0,700.0C970.5,705.1 970.5,700.7 972.6,707.2C974.7,713.7 971.8,712.1 974.3,719.4C976.8,726.7 976.8,723.3 980.0,729.2C983.2,735.1 982.7,734.4 984.0,737.0" stroke-width="9.9"/>
<path d="M919.7,684.0C922.9,683.3 924.0,681.3 929.4,682.0C934.8,682.7 935.5,682.0 936.0,686.0C936.5,690.0 935.0,690.3 931.0,694.0C927.0,697.7 924.3,694.0 924.0,697.0C923.7,700.0 925.5,699.7 930.0,703.0C934.5,706.3 935.1,705.7 937.6,707.0" stroke-width="10.9"/>
<path d="M944.1,700.0C947.1,699.7 946.5,697.7 953.0,699.0C959.5,700.3 960.1,702.3 963.7,704.0" stroke-width="9.9"/>
<path d="M972.6,680.0C973.4,684.0 972.5,685.3 975.0,692.0C977.5,698.7 978.3,697.3 980.0,700.0" stroke-width="9.9"/>
<path d="M982.4,682.0C983.6,685.3 984.6,685.0 986.0,692.0C987.4,699.0 987.3,695.3 986.5,703.0C985.7,710.7 984.5,711.0 983.5,715.0" stroke-width="9.9"/>
<path d="M1000.4,682.0C1001.3,684.7 1004.5,685.3 1003.0,690.0C1001.5,694.7 1000.3,693.0 996.0,696.0C991.7,699.0 992.0,698.0 990.0,699.0" stroke-width="9.9"/>
<path d="M996.0,632.0C992.3,636.3 992.0,637.3 985.0,645.0C978.0,652.7 982.7,647.3 975.0,655.0C967.3,662.7 970.3,661.0 962.0,668.0C953.7,675.0 958.0,671.0 950.0,676.0C942.0,681.0 946.3,679.3 938.0,683.0C929.7,686.7 929.3,685.7 925.0,687.0" stroke-width="9.7"/>
<path d="M1013.0,640.0C1010.0,641.7 1007.0,643.3 1004.0,645.0" stroke-width="9.7"/>
<path d="M1040.0,683.0C1034.7,684.7 1034.7,684.7 1024.0,688.0C1013.3,691.3 1017.0,689.0 1008.0,693.0C999.0,697.0 1003.0,694.3 997.0,700.0C991.0,705.7 993.3,703.3 990.0,710.0C986.7,716.7 988.0,716.7 987.0,720.0" stroke-width="10"/>
<path d="M993.0,730.0C994.0,731.7 995.0,733.3 996.0,735.0" stroke-width="12.7"/>
<path d="M990.0,722.0C992.7,723.3 993.7,722.3 998.0,726.0C1002.3,729.7 1002.3,728.0 1003.0,733.0C1003.7,738.0 1003.7,738.0 1000.0,741.0C996.3,744.0 994.7,741.7 992.0,742.0" stroke-width="15.9"/>
<path d="M984.0,720.0C984.3,723.3 983.7,724.0 985.0,730.0C986.3,736.0 984.7,733.3 988.0,738.0C991.3,742.7 992.7,742.0 995.0,744.0" stroke-width="11.9"/>
</g>
<polygon points="972.3,606.3 987,605.5 995,611 992,620 985,622 981.5,615.5 975.5,612" fill="#434345"/><circle cx="1062" cy="601.5" r="9.5" fill="#434345"/><circle cx="1061.3" cy="600.3" r="1.7" fill="#ebebeb"/>
<g fill="#8b55ab" stroke="#3b0549" stroke-width="5.6" stroke-linejoin="round"><polygon points="991.5,647.8 1015.3,647.8 1020,667.5 1000.4,679 982.5,667"/><polygon points="1029,634 1048.5,639.2 1054,657 1039,671.5 1020,667.5 1015.3,647.8"/></g>
<text x="1145.75" y="728.00" font-size="22" font-weight="bold" textLength="109.75" lengthAdjust="spacingAndGlyphs" fill="#111">Activity in</text>
<text x="1145.75" y="753.25" font-size="22" font-weight="bold" textLength="89.25" lengthAdjust="spacingAndGlyphs" fill="#111">solution</text>
<text x="1145.75" y="783.75" font-size="22.3" textLength="116.75" lengthAdjust="spacingAndGlyphs" fill="#111">DSF, HTRF</text>
<text x="1145.75" y="811.25" font-size="22.3" textLength="36.25" lengthAdjust="spacingAndGlyphs" fill="#111">ITC</text>
</g>

</svg>
</body></html>
